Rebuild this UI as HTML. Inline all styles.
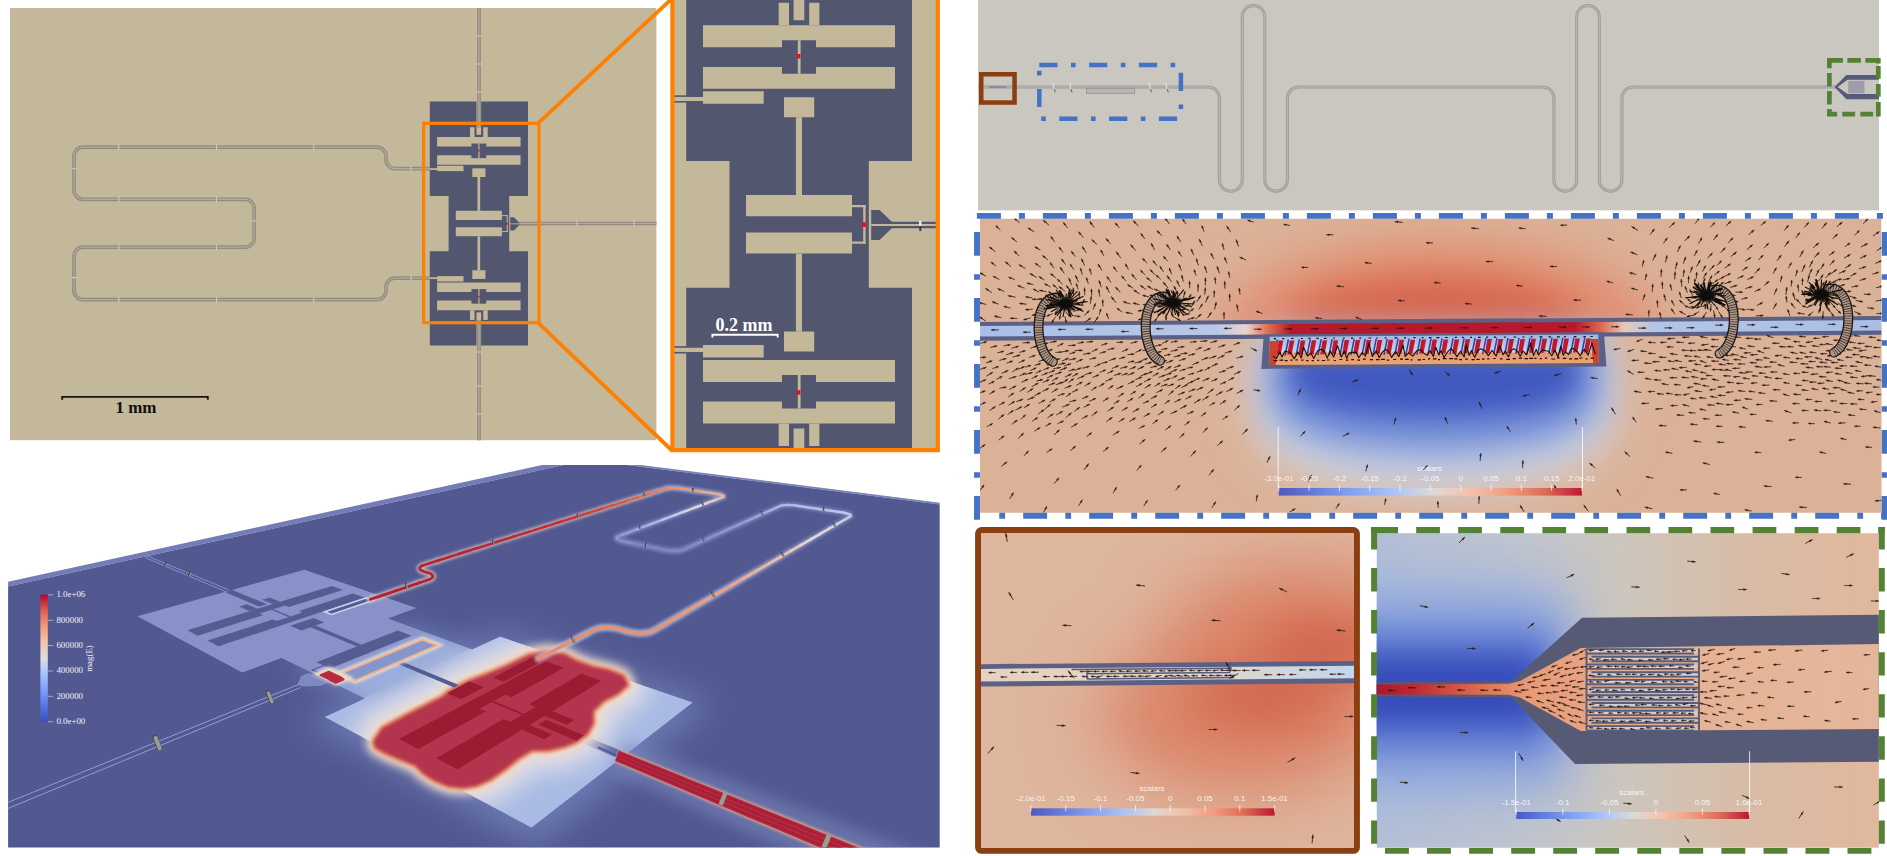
<!DOCTYPE html>
<html><head><meta charset="utf-8"><title>Figure</title>
<style>html,body{margin:0;padding:0;background:#fff}svg{display:block}</style></head>
<body><svg width="1887" height="856" viewBox="0 0 1887 856">
<rect width="1887" height="856" fill="#fff"/>
<rect x="10" y="8" width="646.4" height="432.2" fill="#C4B89B"/>
<g transform="translate(131.45,126.04) scale(0.43478)"><polygon points="686.2,-56.7 912,-56.7 912,161.1 868.8,161.1 868.8,287.7 912,287.7 912,504.5 686.2,504.5 686.2,287.7 729.5,287.7 729.5,161.1 686.2,161.1" fill="#52566F"/><polygon points="871.2,210 879.6,210 891.8,221.8 936,221.8 936,228.2 891.8,228.2 879.6,240 871.2,240" fill="#52566F"/><polygon points="871.2,224 936,224 936,226 871.2,226" fill="#C4B89B"/><polygon points="778.7,2.8 789,2.8 789,25.2 778.7,25.2" fill="#C4B89B"/><polygon points="809.2,2.8 819.4,2.8 819.4,25.2 809.2,25.2" fill="#C4B89B"/><polygon points="793.6,-56.7 804.3,-56.7 804.3,20.2 793.6,20.2" fill="#C4B89B"/><polygon points="703,25.2 895,25.2 895,47.3 703,47.3" fill="#C4B89B"/><polygon points="703,66.9 895,66.9 895,88.8 703,88.8" fill="#C4B89B"/><polygon points="782,40.2 816,40.2 816,73.8 782,73.8" fill="#52566F"/><polygon points="797.8,40.2 800.6,40.2 800.6,73.8 797.8,73.8" fill="#C4B89B"/><polygon points="796.8,54 800.4,54 800.4,58.5 796.8,58.5" fill="#E01020"/><polygon points="703,91.2 763.7,91.2 763.7,103.7 703,103.7" fill="#C4B89B"/><polygon points="640,96.9 703,96.9 703,101 640,101" fill="#C4B89B"/><polygon points="784,97.2 814.2,97.2 814.2,117.2 784,117.2" fill="#C4B89B"/><polygon points="795.9,117.2 802,117.2 802,195.1 795.9,195.1" fill="#C4B89B"/><polygon points="778.7,423.6 789,423.6 789,446 778.7,446" fill="#C4B89B"/><polygon points="809.2,423.6 819.4,423.6 819.4,446 809.2,446" fill="#C4B89B"/><polygon points="793.6,428.6 804.3,428.6 804.3,505.5 793.6,505.5" fill="#C4B89B"/><polygon points="703,401.5 895,401.5 895,423.6 703,423.6" fill="#C4B89B"/><polygon points="703,360 895,360 895,381.9 703,381.9" fill="#C4B89B"/><polygon points="782,375 816,375 816,408.6 782,408.6" fill="#52566F"/><polygon points="797.8,375 800.6,375 800.6,408.6 797.8,408.6" fill="#C4B89B"/><polygon points="796.8,390.3 800.4,390.3 800.4,394.8 796.8,394.8" fill="#E01020"/><polygon points="703,345.1 763.7,345.1 763.7,357.6 703,357.6" fill="#C4B89B"/><polygon points="640,347.8 703,347.8 703,351.9 640,351.9" fill="#C4B89B"/><polygon points="784,331.6 814.2,331.6 814.2,351.6 784,351.6" fill="#C4B89B"/><polygon points="795.9,253.7 802,253.7 802,331.6 795.9,331.6" fill="#C4B89B"/><polygon points="746,195.1 852,195.1 852,216.3 746,216.3" fill="#C4B89B"/><polygon points="746,232.5 852,232.5 852,253.6 746,253.6" fill="#C4B89B"/><polygon points="852,204.9 865.6,204.9 865.6,207.2 852,207.2" fill="#C4B89B"/><polygon points="863.2,204.9 865.6,204.9 865.6,243.8 863.2,243.8" fill="#C4B89B"/><polygon points="852,241.5 865.6,241.5 865.6,243.8 852,243.8" fill="#C4B89B"/><polygon points="862,222.2 865.8,222.2 865.8,227 862,227" fill="#E01020"/></g>
<path d="M430,168.6 H395 A9,9 0 0 1 386,159.6 V156.2 A9,9 0 0 0 377,147.2 H83 A9,9 0 0 0 74,156.2 V190.3 A9,9 0 0 0 83,199.3 H245.2 A9,9 0 0 1 254.2,208.3 V238.2 A9,9 0 0 1 245.2,247.2 H83 A9,9 0 0 0 74,256.2 V290.7 A9,9 0 0 0 83,299.7 H377 A9,9 0 0 0 386,290.7 V287.2 A9,9 0 0 1 395,278.2 H430 M479,8 V127.5 M479,320 V440.2 M519.3,223.5 H656.4" fill="none" stroke="#928B7F" stroke-width="3.7"/>
<path d="M430,168.6 H395 A9,9 0 0 1 386,159.6 V156.2 A9,9 0 0 0 377,147.2 H83 A9,9 0 0 0 74,156.2 V190.3 A9,9 0 0 0 83,199.3 H245.2 A9,9 0 0 1 254.2,208.3 V238.2 A9,9 0 0 1 245.2,247.2 H83 A9,9 0 0 0 74,256.2 V290.7 A9,9 0 0 0 83,299.7 H377 A9,9 0 0 0 386,290.7 V287.2 A9,9 0 0 1 395,278.2 H430 M479,8 V127.5 M479,320 V440.2 M519.3,223.5 H656.4" fill="none" stroke="#B4AC9B" stroke-width="1.2"/>
<path d="M118.8,144.2 v6 M118.8,296.7 v6 M216.5,144.2 v6 M216.5,296.7 v6 M313.7,144.2 v6 M313.7,296.7 v6 M118.8,196.3 v6 M118.8,244.2 v6 M216.5,196.3 v6 M216.5,244.2 v6 M411,165.6 v6 M411,275.2 v6 M71,168.8 h6 M71,277.6 h6 M251.2,221 h6 M476,36 h6 M476,64 h6 M476,92 h6 M476,352 h6 M476,386 h6 M476,414 h6 M577,220.5 v6 M634,220.5 v6" stroke="#D2CBBA" stroke-width="1.1" fill="none"/>
<rect x="423.6" y="123.3" width="115.4" height="199.4" fill="none" stroke="#FF8000" stroke-width="3.2"/>
<path d="M538.5,122.8 L672,-1.5 M538.5,323.2 L672,450.5" stroke="#FF8000" stroke-width="3.8" fill="none"/>
<path d="M62.2,399.8 V396.9 H207.8 V399.8" fill="none" stroke="#1a1410" stroke-width="1.9"/>
<text x="136" y="413" text-anchor="middle" font-family="'Liberation Serif',serif" font-weight="bold" font-size="17" fill="#111">1 mm</text>
<clipPath id="cin"><rect x="672.4" y="0" width="265.4" height="450"/></clipPath>
<g clip-path="url(#cin)">
<rect x="672" y="0" width="266" height="452" fill="#C4B89B"/>
<polygon points="686.2,-56.7 912,-56.7 912,161.1 868.8,161.1 868.8,287.7 912,287.7 912,504.5 686.2,504.5 686.2,287.7 729.5,287.7 729.5,161.1 686.2,161.1" fill="#52566F"/><polygon points="871.2,210 879.6,210 891.8,221.8 936,221.8 936,228.2 891.8,228.2 879.6,240 871.2,240" fill="#52566F"/><polygon points="871.2,224 936,224 936,226 871.2,226" fill="#C4B89B"/><polygon points="778.7,2.8 789,2.8 789,25.2 778.7,25.2" fill="#C4B89B"/><polygon points="809.2,2.8 819.4,2.8 819.4,25.2 809.2,25.2" fill="#C4B89B"/><polygon points="793.6,-56.7 804.3,-56.7 804.3,20.2 793.6,20.2" fill="#C4B89B"/><polygon points="703,25.2 895,25.2 895,47.3 703,47.3" fill="#C4B89B"/><polygon points="703,66.9 895,66.9 895,88.8 703,88.8" fill="#C4B89B"/><polygon points="782,40.2 816,40.2 816,73.8 782,73.8" fill="#52566F"/><polygon points="797.8,40.2 800.6,40.2 800.6,73.8 797.8,73.8" fill="#C4B89B"/><polygon points="796.8,54 800.4,54 800.4,58.5 796.8,58.5" fill="#E01020"/><polygon points="703,91.2 763.7,91.2 763.7,103.7 703,103.7" fill="#C4B89B"/><polygon points="640,96.9 703,96.9 703,101 640,101" fill="#C4B89B"/><polygon points="784,97.2 814.2,97.2 814.2,117.2 784,117.2" fill="#C4B89B"/><polygon points="795.9,117.2 802,117.2 802,195.1 795.9,195.1" fill="#C4B89B"/><polygon points="778.7,423.6 789,423.6 789,446 778.7,446" fill="#C4B89B"/><polygon points="809.2,423.6 819.4,423.6 819.4,446 809.2,446" fill="#C4B89B"/><polygon points="793.6,428.6 804.3,428.6 804.3,505.5 793.6,505.5" fill="#C4B89B"/><polygon points="703,401.5 895,401.5 895,423.6 703,423.6" fill="#C4B89B"/><polygon points="703,360 895,360 895,381.9 703,381.9" fill="#C4B89B"/><polygon points="782,375 816,375 816,408.6 782,408.6" fill="#52566F"/><polygon points="797.8,375 800.6,375 800.6,408.6 797.8,408.6" fill="#C4B89B"/><polygon points="796.8,390.3 800.4,390.3 800.4,394.8 796.8,394.8" fill="#E01020"/><polygon points="703,345.1 763.7,345.1 763.7,357.6 703,357.6" fill="#C4B89B"/><polygon points="640,347.8 703,347.8 703,351.9 640,351.9" fill="#C4B89B"/><polygon points="784,331.6 814.2,331.6 814.2,351.6 784,351.6" fill="#C4B89B"/><polygon points="795.9,253.7 802,253.7 802,331.6 795.9,331.6" fill="#C4B89B"/><polygon points="746,195.1 852,195.1 852,216.3 746,216.3" fill="#C4B89B"/><polygon points="746,232.5 852,232.5 852,253.6 746,253.6" fill="#C4B89B"/><polygon points="852,204.9 865.6,204.9 865.6,207.2 852,207.2" fill="#C4B89B"/><polygon points="863.2,204.9 865.6,204.9 865.6,243.8 863.2,243.8" fill="#C4B89B"/><polygon points="852,241.5 865.6,241.5 865.6,243.8 852,243.8" fill="#C4B89B"/><polygon points="862,222.2 865.8,222.2 865.8,227 862,227" fill="#E01020"/>
<rect x="672" y="95.3" width="14.5" height="1.6" fill="#52566F"/>
<rect x="672" y="101" width="14.5" height="1.6" fill="#52566F"/>
<rect x="672" y="346.2" width="14.5" height="1.6" fill="#52566F"/>
<rect x="672" y="351.9" width="14.5" height="1.6" fill="#52566F"/>
<rect x="919" y="221" width="2.5" height="5" fill="#EFEBE0"/><rect x="919.3" y="226" width="2" height="5" fill="#3a3a40"/>
</g>
<path d="M672.4,-4 V450.1 H937.8 V-4" fill="none" stroke="#FF8000" stroke-width="4.2"/>
<path d="M712.4,337.4 V334.7 H777.7 V337.4" fill="none" stroke="#fff" stroke-width="1.9"/>
<text x="744" y="330.6" text-anchor="middle" font-family="'Liberation Serif',serif" font-weight="bold" font-size="18" fill="#fff">0.2 mm</text>
<rect x="978" y="0" width="901" height="210.4" fill="#C9C7BF"/>
<path d="M978,87 H1208.1 A11.3,11.3 0 0 1 1219.4,98.3 V179.9 A11.3,11.3 0 0 0 1242.2,179.9 V16.8 A11.3,11.3 0 0 1 1264.8,16.8 V179.9 A11.3,11.3 0 0 0 1287.4,179.9 V98.3 A11.3,11.3 0 0 1 1298.7,87 H1542.6 A11.3,11.3 0 0 1 1553.9,98.3 V179.9 A11.3,11.3 0 0 0 1576.7,179.9 V16.8 A11.3,11.3 0 0 1 1599.3,16.8 V179.9 A11.3,11.3 0 0 0 1621.9,179.9 V98.3 A11.3,11.3 0 0 1 1633.2,87 H1836" fill="none" stroke="#9C9C9C" stroke-width="3"/>
<path d="M978,87 H1208.1 A11.3,11.3 0 0 1 1219.4,98.3 V179.9 A11.3,11.3 0 0 0 1242.2,179.9 V16.8 A11.3,11.3 0 0 1 1264.8,16.8 V179.9 A11.3,11.3 0 0 0 1287.4,179.9 V98.3 A11.3,11.3 0 0 1 1298.7,87 H1542.6 A11.3,11.3 0 0 1 1553.9,98.3 V179.9 A11.3,11.3 0 0 0 1576.7,179.9 V16.8 A11.3,11.3 0 0 1 1599.3,16.8 V179.9 A11.3,11.3 0 0 0 1621.9,179.9 V98.3 A11.3,11.3 0 0 1 1633.2,87 H1836" fill="none" stroke="#C2C1BB" stroke-width="0.9"/>
<rect x="989" y="86" width="17.5" height="2" fill="#8d8d96"/>
<rect x="1086.6" y="88.3" width="48" height="5" fill="#B9B8B6" stroke="#8f8f94" stroke-width="0.8"/>
<path d="M1053,83 l1.3,7 M1069.7,83 l1.3,7 M1149.2,83 l1.3,7 M1165.9,83 l1.3,7" stroke="#E4E3DE" stroke-width="1.2" fill="none"/>
<path d="M1054.2,89 l1.2,3.4 M1070.9,89 l1.2,3.4 M1150.4,89 l1.2,3.4 M1167.1,89 l1.2,3.4" stroke="#77746c" stroke-width="1.2" fill="none"/>
<polygon points="1835,86.4 1846.4,75 1879,75 1879,79.8 1847.6,79.8 1837.6,87 1847.6,94 1879,94 1879,99.2 1846.4,99.2 1835,87.6" fill="#565a78"/>
<rect x="1848.2" y="80.8" width="16.3" height="12.5" fill="#9E9DAC"/>
<rect x="981.25" y="74.25" width="33.3" height="28.3" fill="none" stroke="#8B3E0F" stroke-width="4.5"/>
<path d="M1039.3,64.9 H1180.9 V118.7 H1039.3 Z" fill="none" stroke="#4472C4" stroke-width="4.5" stroke-dasharray="18.2 13.5 4.6 13.5"/>
<path d="M1827.1,60.4 H1842.9 M1847.4,60.4 H1860.9 M1865.4,60.4 H1880.6 M1829.4,58 V68.2 M1829.4,73.1 V86.6 M1829.4,91.1 V104.6 M1829.4,109.1 V116.4 M1827.1,114.1 H1837.1 M1842.3,114.1 H1855.1 M1860.3,114.1 H1873.1 M1877,114.1 H1880.6 M1878.3,58 V63.4 M1878.3,66 V78.8 M1878.3,84 V96.8 M1878.3,102 V116.4" fill="none" stroke="#548235" stroke-width="4.7"/>
<defs><clipPath id="c3"><rect x="8.1" y="465" width="931.6" height="382.5"/></clipPath>
<filter id="g2" x="-100%" y="-100%" width="300%" height="300%"><feGaussianBlur stdDeviation="1.6"/></filter>
<filter id="g4" x="-100%" y="-100%" width="300%" height="300%"><feGaussianBlur stdDeviation="4"/></filter>
<filter id="g7" x="-100%" y="-100%" width="300%" height="300%"><feGaussianBlur stdDeviation="7"/></filter>
<filter id="g11" x="-100%" y="-100%" width="300%" height="300%"><feGaussianBlur stdDeviation="11"/></filter>
<filter id="g16" x="-100%" y="-100%" width="300%" height="300%"><feGaussianBlur stdDeviation="16"/></filter>
</defs><g clip-path="url(#c3)">
<polygon points="586.8,455.2 -243,636.7 -243,641.4 586.8,459.9" fill="#747CB6"/>
<polygon points="586.8,458.2 1100,522.8 1100,524.7 586.8,459.9" fill="#7A82B8"/>
<polygon points="1100,524.7 468.6,2086.9 -243,641.4 586.8,459.9" fill="#525990"/>
<polygon points="712.3,703.3 535.5,846.6 305.6,719.2 499.8,631.7" fill="#6F7EB8" filter="url(#g16)" opacity="0.9"/>
<polygon points="486.7,649.5 363.4,707.2 287,669.3 410.3,621.8" fill="#6A78B4" filter="url(#g11)" opacity="0.8"/>
<clipPath id="cl"><polygon points="692.5,702.6 531.5,827.6 324.9,716.9 365.1,698.5 281.5,658 242.2,672.5 137.3,616.2 304.4,569.7 416.4,608.1 388.2,618.5 472.2,649.4 500,636.7"/></clipPath>
<polygon points="692.5,702.6 531.5,827.6 324.9,716.9 365.1,698.5 281.5,658 242.2,672.5 137.3,616.2 304.4,569.7 416.4,608.1 388.2,618.5 472.2,649.4 500,636.7" fill="#8892C8"/>
<polygon points="328.3,682.6 320.8,685.7 301.8,686.4 297.6,684.3 301.1,676 308.6,673" fill="#7D89C2"/>
<g clip-path="url(#cl)">
<polygon points="699.3,701.3 532.7,832.1 320.6,717.4 502.4,634.5" fill="#A9BBE4"/>
<polygon points="480.8,652.3 373.2,702.6 322.3,677.9 430,633.6" fill="#9AACDC" filter="url(#g7)"/>
</g>
<polygon points="574,719.9 566.7,724.7 544.7,715.7 552.1,711.1" fill="#4F5A96"/>
<polygon points="551.9,734.3 544.2,739.4 522,729.7 529.8,724.9" fill="#4F5A96"/>
<polygon points="627.3,753.3 619.8,759.1 538.3,724.6 546.2,719.7" fill="#4F5A96"/>
<polygon points="601.3,680.9 457.6,769.3 436.2,758.3 581.2,673.8" fill="#4F5A96"/>
<polygon points="564.1,667.8 418.2,749 398.9,739.1 545.6,661.3" fill="#4F5A96"/>
<polygon points="524.1,713.7 522,714.9 491.6,702.2 493.7,701" fill="#4F5A96"/>
<polygon points="543.7,660.6 503.6,681.7 493.2,677.7 533.5,657" fill="#4F5A96"/>
<polygon points="575.9,639.7 539,658.9 535.7,657.8 572.7,638.7" fill="#4F5A96"/>
<polygon points="484,687.3 461.1,699.3 444.7,692.2 467.7,680.7" fill="#4F5A96"/>
<g clip-path="url(#cl)">
<polygon points="374.5,741.3 382.7,728.9 410.3,713.8 443.4,697.2 448.9,692.3 468.2,682.1 493.1,672.4 509.6,665.5 528.9,655.9 548.2,652.5 564.8,655.3 575.8,661.4 592.3,667.4 608.9,671 622.7,676.5 626.8,684.8 617.2,693.1 603.4,700 592.3,711 592.3,723.4 586.8,733.1 575.8,741.3 564.8,745.5 548.2,749.6 531.7,749.6 517.9,757.9 504.1,768.9 490.3,778.6 476.5,784.9 462.7,786.9 448.9,785.5 435.1,780 424.1,773.1 415.8,764.8 402,759.3 385.5,752.4 375.8,746.9" fill="#EAE4E6" stroke="#EAE4E6" stroke-width="46" stroke-linejoin="round" filter="url(#g11)" opacity="0.8"/>
</g>
<polygon points="374.5,741.3 382.7,728.9 410.3,713.8 443.4,697.2 448.9,692.3 468.2,682.1 493.1,672.4 509.6,665.5 528.9,655.9 548.2,652.5 564.8,655.3 575.8,661.4 592.3,667.4 608.9,671 622.7,676.5 626.8,684.8 617.2,693.1 603.4,700 592.3,711 592.3,723.4 586.8,733.1 575.8,741.3 564.8,745.5 548.2,749.6 531.7,749.6 517.9,757.9 504.1,768.9 490.3,778.6 476.5,784.9 462.7,786.9 448.9,785.5 435.1,780 424.1,773.1 415.8,764.8 402,759.3 385.5,752.4 375.8,746.9" fill="#EFD9C8" stroke="#EFD9C8" stroke-width="17" stroke-linejoin="round" filter="url(#g4)"/>
<polygon points="374.5,741.3 382.7,728.9 410.3,713.8 443.4,697.2 448.9,692.3 468.2,682.1 493.1,672.4 509.6,665.5 528.9,655.9 548.2,652.5 564.8,655.3 575.8,661.4 592.3,667.4 608.9,671 622.7,676.5 626.8,684.8 617.2,693.1 603.4,700 592.3,711 592.3,723.4 586.8,733.1 575.8,741.3 564.8,745.5 548.2,749.6 531.7,749.6 517.9,757.9 504.1,768.9 490.3,778.6 476.5,784.9 462.7,786.9 448.9,785.5 435.1,780 424.1,773.1 415.8,764.8 402,759.3 385.5,752.4 375.8,746.9" fill="#E8906C" stroke="#E8906C" stroke-width="7" stroke-linejoin="round" filter="url(#g2)"/>
<polygon points="374.5,741.3 382.7,728.9 410.3,713.8 443.4,697.2 448.9,692.3 468.2,682.1 493.1,672.4 509.6,665.5 528.9,655.9 548.2,652.5 564.8,655.3 575.8,661.4 592.3,667.4 608.9,671 622.7,676.5 626.8,684.8 617.2,693.1 603.4,700 592.3,711 592.3,723.4 586.8,733.1 575.8,741.3 564.8,745.5 548.2,749.6 531.7,749.6 517.9,757.9 504.1,768.9 490.3,778.6 476.5,784.9 462.7,786.9 448.9,785.5 435.1,780 424.1,773.1 415.8,764.8 402,759.3 385.5,752.4 375.8,746.9" fill="#B3354D" stroke="#B3354D" stroke-width="1.5" stroke-linejoin="round" filter="url(#g2)"/>
<clipPath id="cb"><polygon points="374.5,741.3 382.7,728.9 410.3,713.8 443.4,697.2 448.9,692.3 468.2,682.1 493.1,672.4 509.6,665.5 528.9,655.9 548.2,652.5 564.8,655.3 575.8,661.4 592.3,667.4 608.9,671 622.7,676.5 626.8,684.8 617.2,693.1 603.4,700 592.3,711 592.3,723.4 586.8,733.1 575.8,741.3 564.8,745.5 548.2,749.6 531.7,749.6 517.9,757.9 504.1,768.9 490.3,778.6 476.5,784.9 462.7,786.9 448.9,785.5 435.1,780 424.1,773.1 415.8,764.8 402,759.3 385.5,752.4 375.8,746.9"/></clipPath>
<polygon points="458.8,685.1 454.2,687.5 395.8,662.9 400.5,660.9" fill="#555C92"/>
<polygon points="280.2,601.8 272.7,604.1 262,599.7 269.4,597.5" fill="#555C92"/>
<polygon points="257.6,608.8 249.8,611.2 239.2,606.5 246.9,604.2" fill="#555C92"/>
<polygon points="266.9,604.2 258.9,606.6 223.9,591.8 231.8,589.7" fill="#555C92"/>
<polygon points="342.9,589.9 197.8,635.7 187.4,630.3 331.8,586" fill="#555C92"/>
<polygon points="364.6,597.6 218.5,646.3 207.4,640.6 353,593.5" fill="#555C92"/>
<polygon points="302.3,612.5 276.7,620.9 259.7,613.5 285.2,605.5" fill="#8892C8"/>
<polygon points="290.6,616.3 288.5,617 271.4,609.8 273.5,609.2" fill="#555C92"/>
<polygon points="372.7,600.4 331.5,614.4 324.8,611.8 365.9,598" fill="#555C92"/>
<polygon points="409.9,586.8 371.2,599.9 369,599.1 407.7,586.1" fill="#555C92"/>
<polygon points="324.3,622.5 301.3,630.4 290.4,625.7 313.3,618" fill="#555C92"/>
<polygon points="361.6,644.8 356.9,646.6 310.8,627.2 315.4,625.6" fill="#555C92"/>
<polygon points="436.7,645.3 355.3,680.4 340.8,673.6 422.2,639.8" fill="#EBD8CC" stroke="#EBD8CC" stroke-width="6" filter="url(#g2)"/>
<polygon points="436.7,645.3 355.3,680.4 340.8,673.6 422.2,639.8" fill="#8496CC" stroke="#EDB08C" stroke-width="1.8"/>
<polygon points="411.5,635.8 330.1,668.6 316.6,662.3 397.9,630.6" fill="#555C92"/>
<polygon points="348.5,677.2 336.7,682.2 335.2,681.4 346.9,676.5" fill="#555C92"/>
<polygon points="338.8,681.3 336.7,682.2 311.1,669.9 313.2,669" fill="#555C92"/>
<polygon points="324.3,665.9 312.6,670.6 311.1,669.9 322.8,665.2" fill="#555C92"/>
<polygon points="372.7,600.4 331.5,614.4 324.8,611.8 365.9,598" fill="#555C92" stroke="#C9D3F0" stroke-width="1.6"/>
<polygon points="348.3,677.9 336.1,683 317.5,674 329.6,669.1" fill="#EBD8CC" stroke="#EBD8CC" stroke-width="5" filter="url(#g2)"/>
<polygon points="341.4,677.7 333.2,681.2 320.5,675.1 328.7,671.7" fill="#B72C40" stroke="#B72C40" stroke-width="2" stroke-linejoin="round"/>
<polygon points="343.3,679.4 335.9,682.5 329.8,679.6 337.2,676.5" fill="#B72C40" stroke="#B72C40" stroke-width="2.5" stroke-linejoin="round"/>
<g clip-path="url(#cb)">
<polygon points="574,719.9 566.7,724.7 544.7,715.7 552.1,711.1" fill="#9B1B33"/>
<polygon points="551.9,734.3 544.2,739.4 522,729.7 529.8,724.9" fill="#9B1B33"/>
<polygon points="627.3,753.3 619.8,759.1 538.3,724.6 546.2,719.7" fill="#9B1B33"/>
<polygon points="601.3,680.9 457.6,769.3 436.2,758.3 581.2,673.8" fill="#9B1B33"/>
<polygon points="564.1,667.8 418.2,749 398.9,739.1 545.6,661.3" fill="#9B1B33"/>
<polygon points="535.6,706.9 510.3,721.9 479.8,708.7 505.4,694.6" fill="#B3354D"/>
<polygon points="524.1,713.7 522,714.9 491.6,702.2 493.7,701" fill="#9B1B33"/>
<polygon points="543.7,660.6 503.6,681.7 493.2,677.7 533.5,657" fill="#9B1B33"/>
<polygon points="575.9,639.7 539,658.9 535.7,657.8 572.7,638.7" fill="#9B1B33"/>
<polygon points="484,687.3 461.1,699.3 444.7,692.2 467.7,680.7" fill="#9B1B33"/>
</g>
<path d="M228.5,589.7 L146,555.5" stroke="#8C96CE" stroke-width="0.9" fill="none"/><path d="M227.4,592.3 L145.1,557.6" stroke="#8C96CE" stroke-width="0.9" fill="none"/>
<path d="M299.1,684.3 L-135.8,860.7" stroke="#939CD4" stroke-width="1.0" fill="none"/><path d="M300.4,687.6 L-133.3,866.8" stroke="#939CD4" stroke-width="1.0" fill="none"/>
<g fill="none" stroke-linecap="round" filter="url(#g2)" opacity="0.75"><polyline points="538.3,658.6 542.6,656.4 546.8,654.2 551,652 555.1,649.9 559.1,647.8 563.1,645.7" stroke="#C4CAE0" stroke-width="7.5"/><polyline points="563.1,645.7 567,643.7 570.9,641.7 574.8,639.7 578.6,637.7 582.3,635.7 586,633.8" stroke="#C3CAE1" stroke-width="7.3"/><polyline points="586,633.8 589.6,631.9 593.3,630 593.3,630 595.7,629.1 598.6,628.3 601.9,627.8" stroke="#C2CAE1" stroke-width="7.1"/><polyline points="601.9,627.8 605.5,627.6 609.3,627.6 613.1,627.9 616.8,628.5 620.2,629.4 626.6,631.3" stroke="#C1C9E1" stroke-width="7"/><polyline points="626.6,631.3 630.1,632.1 633.9,632.8 637.7,633.1 641.6,633.2 645.3,632.9 648.6,632.4" stroke="#C0C9E2" stroke-width="7.1"/><polyline points="648.6,632.4 651.4,631.6 653.6,630.6 656.8,628.8 660,626.9 663.1,625.1 666.2,623.3" stroke="#BEC8E3" stroke-width="7.1"/><polyline points="666.2,623.3 669.2,621.5 672.2,619.8 675.2,618.1 678.2,616.4 681.1,614.7 683.9,613" stroke="#BCC7E4" stroke-width="7"/><polyline points="683.9,613 686.8,611.3 689.6,609.7 692.4,608.1 695.1,606.5 697.8,604.9 700.5,603.4" stroke="#B9C5E5" stroke-width="6.8"/><polyline points="700.5,603.4 703.2,601.8 705.8,600.3 708.4,598.8 710.9,597.3 713.5,595.8 716,594.4" stroke="#B5C3E6" stroke-width="6.7"/><polyline points="716,594.4 718.5,592.9 720.9,591.5 723.4,590.1 725.8,588.7 728.2,587.3 730.5,586" stroke="#B2C0E4" stroke-width="6.5"/><polyline points="730.5,586 732.8,584.6 735.1,583.3 737.4,581.9 739.7,580.6 741.9,579.3 744.1,578" stroke="#AFBCE2" stroke-width="6.4"/><polyline points="744.1,578 746.3,576.8 748.5,575.5 750.6,574.3 752.8,573 754.9,571.8 756.9,570.6" stroke="#ABB9E0" stroke-width="6.3"/><polyline points="756.9,570.6 759,569.4 761.1,568.2 763.1,567 765.1,565.9 767.1,564.7 769,563.6" stroke="#A7B4DE" stroke-width="6.2"/><polyline points="769,563.6 771,562.4 772.9,561.3 774.8,560.2 776.7,559.1 778.6,558 780.4,557" stroke="#A2B0DC" stroke-width="6.1"/><polyline points="780.4,557 782.3,555.9 784.1,554.8 785.9,553.8 787.7,552.7 789.4,551.7 791.2,550.7" stroke="#9DABDA" stroke-width="6"/><polyline points="791.2,550.7 792.9,549.7 794.7,548.7 796.4,547.7 798.1,546.7 799.7,545.7 801.4,544.8" stroke="#98A6D7" stroke-width="5.9"/><polyline points="801.4,544.8 803.1,543.8 804.7,542.9 806.3,541.9 807.9,541 809.5,540.1 811.1,539.1" stroke="#93A0D5" stroke-width="5.9"/><polyline points="811.1,539.1 812.7,538.2 814.2,537.3 815.7,536.4 817.3,535.6 818.8,534.7 820.3,533.8" stroke="#8E9BD2" stroke-width="5.8"/><polyline points="820.3,533.8 821.8,532.9 823.2,532.1 824.7,531.2 826.2,530.4 827.6,529.6 829,528.7" stroke="#8A97CF" stroke-width="5.7"/><polyline points="829,528.7 830.4,527.9 831.8,527.1 833.2,526.3 834.6,525.5 836,524.7 837.3,523.9" stroke="#8693CC" stroke-width="5.7"/><polyline points="837.3,523.9 838.7,523.1 840,522.3 841.4,521.6 842.7,520.8 844,520 845.3,519.3" stroke="#828FCA" stroke-width="5.6"/><polyline points="845.3,519.3 846.6,518.5 847.8,517.8 849.1,517.1 850.4,516.3 850.4,516.3 850.8,515.9" stroke="#828FCA" stroke-width="5.5"/><polyline points="850.8,515.9 850.8,515.4 850.3,514.8 849.3,514.3 847.8,513.7 846,513.2 843.9,512.7" stroke="#828FCA" stroke-width="5.5"/><polyline points="843.9,512.7 841.5,512.3 837.2,511.7 833,511.1 828.8,510.4 824.6,509.8 820.4,509.2" stroke="#828FCA" stroke-width="5.5"/><polyline points="820.4,509.2 816.3,508.6 812.2,508 808.1,507.4 804.1,506.8 800.1,506.2 796.1,505.6" stroke="#828FCA" stroke-width="5.4"/><polyline points="796.1,505.6 793.8,505.3 791.4,505.1 789,505 786.7,505 784.7,505.1 782.9,505.2" stroke="#828FCA" stroke-width="5.4"/><polyline points="782.9,505.2 781.4,505.5 780.4,505.8 778.9,506.5 777.5,507.1 776,507.8 774.5,508.5" stroke="#828FCA" stroke-width="5.4"/><polyline points="774.5,508.5 773.1,509.1 771.6,509.8 770.1,510.5 768.5,511.2 767,511.9 765.5,512.6" stroke="#828FCA" stroke-width="5.4"/><polyline points="765.5,512.6 763.9,513.3 762.4,514 760.8,514.7 759.2,515.4 757.6,516.1 756,516.9" stroke="#828FCA" stroke-width="5.5"/><polyline points="756,516.9 754.3,517.6 752.7,518.3 751.1,519.1 749.4,519.8 747.7,520.6 746,521.4" stroke="#828FCA" stroke-width="5.5"/><polyline points="746,521.4 744.3,522.1 742.6,522.9 740.9,523.7 739.1,524.5 737.4,525.3 735.6,526.1" stroke="#828FCA" stroke-width="5.6"/><polyline points="735.6,526.1 733.8,526.9 732,527.7 730.2,528.5 728.3,529.3 726.5,530.2 724.6,531" stroke="#828FCA" stroke-width="5.6"/><polyline points="724.6,531 722.8,531.9 720.9,532.7 719,533.6 717,534.4 715.1,535.3 713.1,536.2" stroke="#828FCA" stroke-width="5.7"/><polyline points="713.1,536.2 711.2,537.1 709.2,538 707.2,538.9 705.1,539.8 703.1,540.7 701,541.7" stroke="#828FCA" stroke-width="5.8"/><polyline points="701,541.7 698.9,542.6 696.8,543.6 694.7,544.5 692.6,545.5 690.4,546.5 688.3,547.4" stroke="#828FCA" stroke-width="5.8"/><polyline points="688.3,547.4 686.1,548.4 683.8,549.4 683.8,549.4 682.3,550 680.3,550.4 677.9,550.7" stroke="#828FCA" stroke-width="5.9"/><polyline points="677.9,550.7 675.3,550.8 672.4,550.8 669.6,550.6 666.8,550.3 664.1,549.8 659.4,548.8" stroke="#828FCA" stroke-width="5.9"/><polyline points="659.4,548.8 654.7,547.8 650.1,546.9 645.5,545.9 641,545 636.5,544 632,543.1" stroke="#828FCA" stroke-width="5.9"/><polyline points="632,543.1 627.6,542.2 623.2,541.3 621,540.8 619.2,540.1 617.9,539.5 617,538.8" stroke="#828FCA" stroke-width="5.8"/><polyline points="617,538.8 616.6,538 616.8,537.4 617.5,536.7 618.7,536.2 621,535.3 623.4,534.4" stroke="#828FCA" stroke-width="5.8"/><polyline points="623.4,534.4 625.7,533.5 628,532.7 630.2,531.8 632.5,531 634.7,530.1 637,529.3" stroke="#828FCA" stroke-width="5.7"/><polyline points="637,529.3 639.2,528.5 641.4,527.6 643.5,526.8 645.7,526 647.8,525.2 649.9,524.4" stroke="#828FCA" stroke-width="5.7"/><polyline points="649.9,524.4 652,523.6 654.1,522.9 656.2,522.1 658.2,521.3 660.3,520.6 662.3,519.8" stroke="#828FCA" stroke-width="5.6"/><polyline points="662.3,519.8 664.3,519 666.3,518.3 668.3,517.6 670.2,516.8 672.2,516.1 674.1,515.4" stroke="#828FCA" stroke-width="5.6"/><polyline points="674.1,515.4 676,514.7 677.9,514 679.8,513.2 681.6,512.5 683.5,511.8 685.3,511.2" stroke="#828FCA" stroke-width="5.5"/><polyline points="685.3,511.2 687.2,510.5 689,509.8 690.8,509.1 692.6,508.4 694.3,507.8 696.1,507.1" stroke="#8692CC" stroke-width="5.4"/><polyline points="696.1,507.1 697.8,506.5 699.6,505.8 701.3,505.2 703,504.5 704.7,503.9 706.4,503.3" stroke="#8D9AD1" stroke-width="5.4"/><polyline points="706.4,503.3 708.1,502.6 709.7,502 711.4,501.4 713,500.8 714.7,500.2 716.3,499.6" stroke="#97A4D6" stroke-width="5.4"/><polyline points="716.3,499.6 717.9,499 719.5,498.4 721.1,497.8 722.6,497.2 722.6,497.2 723.3,496.8" stroke="#A0ADDB" stroke-width="5.3"/><polyline points="723.3,496.8 723.6,496.4 723.5,495.9 722.9,495.5 721.9,495.1 720.6,494.6 719,494.3" stroke="#A6B4DE" stroke-width="5.3"/><polyline points="719,494.3 717.1,493.9 713.6,493.4 710.1,492.9 706.7,492.4 703.2,491.9 699.8,491.4" stroke="#AEBBE2" stroke-width="5.3"/><polyline points="699.8,491.4 696.4,490.9 693.1,490.4 689.7,489.9 686.4,489.4 683.1,488.9 679.8,488.4" stroke="#B7C5E5" stroke-width="5.2"/><polyline points="679.8,488.4 677.9,488.2 675.8,488 673.8,487.9 671.7,487.9 669.8,488 668.1,488.1" stroke="#C1C9E1" stroke-width="5.2"/><polyline points="668.1,488.1 666.6,488.3 665.5,488.6 663.8,489.1 662.1,489.7 660.4,490.2 658.7,490.8" stroke="#CACDDE" stroke-width="5.2"/><polyline points="658.7,490.8 657,491.3 655.3,491.8 653.5,492.4 651.8,493 650,493.5 648.2,494.1" stroke="#D5D2D9" stroke-width="5.2"/><polyline points="648.2,494.1 646.4,494.6 644.6,495.2 642.8,495.8 641,496.4 639.1,496.9 637.3,497.5" stroke="#E0D7D5" stroke-width="5.2"/><polyline points="637.3,497.5 635.4,498.1 633.5,498.7 631.6,499.3 629.7,499.9 627.8,500.5 625.9,501.1" stroke="#E7D5CB" stroke-width="5.3"/><polyline points="625.9,501.1 623.9,501.8 622,502.4 620,503 618,503.6 616,504.3 614,504.9" stroke="#E8CEC0" stroke-width="5.3"/><polyline points="614,504.9 611.9,505.5 609.9,506.2 607.8,506.8 605.7,507.5 603.6,508.2 601.5,508.8" stroke="#E8CEC0" stroke-width="5.4"/><polyline points="601.5,508.8 599.4,509.5 597.3,510.2 595.1,510.9 592.9,511.5 590.8,512.2 588.6,512.9" stroke="#E8CEC0" stroke-width="5.4"/><polyline points="588.6,512.9 586.3,513.6 584.1,514.3 581.8,515.1 579.6,515.8 577.3,516.5 575,517.2" stroke="#E8CEC0" stroke-width="5.5"/><polyline points="575,517.2 572.6,518 570.3,518.7 567.9,519.5 565.6,520.2 563.2,521 560.7,521.7" stroke="#E8CEC0" stroke-width="5.5"/><polyline points="560.7,521.7 558.3,522.5 555.8,523.3 553.4,524.1 550.9,524.9 548.4,525.6 545.8,526.4" stroke="#E8CEC0" stroke-width="5.6"/><polyline points="545.8,526.4 543.3,527.3 540.7,528.1 538.1,528.9 535.5,529.7 532.8,530.6 530.2,531.4" stroke="#E8CEC0" stroke-width="5.6"/><polyline points="530.2,531.4 527.5,532.2 524.8,533.1 522,534 519.3,534.8 516.5,535.7 513.7,536.6" stroke="#E8CEC0" stroke-width="5.7"/><polyline points="513.7,536.6 510.9,537.5 508,538.4 505.1,539.3 502.2,540.2 499.3,541.1 496.4,542.1" stroke="#E8CEC0" stroke-width="5.8"/><polyline points="496.4,542.1 493.4,543 490.4,544 487.4,544.9 484.3,545.9 481.2,546.9 478.1,547.9" stroke="#E8CEC0" stroke-width="5.8"/><polyline points="478.1,547.9 475,548.8 471.8,549.8 468.6,550.9 465.4,551.9 462.1,552.9 458.9,553.9" stroke="#E8CEC0" stroke-width="5.9"/><polyline points="458.9,553.9 455.5,555 452.2,556 448.8,557.1 445.4,558.2 442,559.3 438.5,560.4" stroke="#E8CEC0" stroke-width="6"/><polyline points="438.5,560.4 435,561.5 431.5,562.6 427.9,563.7 424.3,564.9 424.3,564.9 422.4,565.6" stroke="#E8CEC0" stroke-width="6.1"/><polyline points="422.4,565.6 420.9,566.4 420,567.3 419.6,568.2 419.9,569.2 420.7,570 422.1,570.8" stroke="#E8CEC0" stroke-width="6.1"/><polyline points="422.1,570.8 424,571.5 428.2,572.8 430.2,573.5 431.6,574.3 432.5,575.2 432.8,576.2" stroke="#E8CEC0" stroke-width="6.2"/><polyline points="432.8,576.2 432.5,577.2 431.6,578.2 430.1,579.1 428,579.9 424.2,581.2 420.3,582.5" stroke="#E8CEC0" stroke-width="6.3"/><polyline points="420.3,582.5 416.4,583.8 412.4,585.2 408.4,586.5 404.3,587.9 400.2,589.3 396.1,590.7" stroke="#E8CEC0" stroke-width="6.4"/><polyline points="396.1,590.7 391.9,592.1 387.6,593.6 383.3,595 379,596.5 374.6,597.9 370.2,599.4" stroke="#E8CEC0" stroke-width="6.5"/></g>
<g fill="none" stroke-linecap="round"><polyline points="538.3,658.6 542.6,656.4 546.8,654.2 551,652 555.1,649.9 559.1,647.8 563.1,645.7" stroke="#E88D6D" stroke-width="3.4"/><polyline points="563.1,645.7 567,643.7 570.9,641.7 574.8,639.7 578.6,637.7 582.3,635.7 586,633.8" stroke="#E88E6D" stroke-width="3.3"/><polyline points="586,633.8 589.6,631.9 593.3,630 593.3,630 595.7,629.1 598.6,628.3 601.9,627.8" stroke="#E98F6E" stroke-width="3.2"/><polyline points="601.9,627.8 605.5,627.6 609.3,627.6 613.1,627.9 616.8,628.5 620.2,629.4 626.6,631.3" stroke="#E9906F" stroke-width="3.2"/><polyline points="626.6,631.3 630.1,632.1 633.9,632.8 637.7,633.1 641.6,633.2 645.3,632.9 648.6,632.4" stroke="#E99170" stroke-width="3.2"/><polyline points="648.6,632.4 651.4,631.6 653.6,630.6 656.8,628.8 660,626.9 663.1,625.1 666.2,623.3" stroke="#EA9372" stroke-width="3.2"/><polyline points="666.2,623.3 669.2,621.5 672.2,619.8 675.2,618.1 678.2,616.4 681.1,614.7 683.9,613" stroke="#EA9675" stroke-width="3.2"/><polyline points="683.9,613 686.8,611.3 689.6,609.7 692.4,608.1 695.1,606.5 697.8,604.9 700.5,603.4" stroke="#EB9978" stroke-width="3.1"/><polyline points="700.5,603.4 703.2,601.8 705.8,600.3 708.4,598.8 710.9,597.3 713.5,595.8 716,594.4" stroke="#EC9E7C" stroke-width="3"/><polyline points="716,594.4 718.5,592.9 720.9,591.5 723.4,590.1 725.8,588.7 728.2,587.3 730.5,586" stroke="#EDA281" stroke-width="3"/><polyline points="730.5,586 732.8,584.6 735.1,583.3 737.4,581.9 739.7,580.6 741.9,579.3 744.1,578" stroke="#EEA886" stroke-width="2.9"/><polyline points="744.1,578 746.3,576.8 748.5,575.5 750.6,574.3 752.8,573 754.9,571.8 756.9,570.6" stroke="#EDAE8F" stroke-width="2.9"/><polyline points="756.9,570.6 759,569.4 761.1,568.2 763.1,567 765.1,565.9 767.1,564.7 769,563.6" stroke="#ECB498" stroke-width="2.8"/><polyline points="769,563.6 771,562.4 772.9,561.3 774.8,560.2 776.7,559.1 778.6,558 780.4,557" stroke="#EBBBA3" stroke-width="2.8"/><polyline points="780.4,557 782.3,555.9 784.1,554.8 785.9,553.8 787.7,552.7 789.4,551.7 791.2,550.7" stroke="#EAC2AE" stroke-width="2.7"/><polyline points="791.2,550.7 792.9,549.7 794.7,548.7 796.4,547.7 798.1,546.7 799.7,545.7 801.4,544.8" stroke="#E9CABA" stroke-width="2.7"/><polyline points="801.4,544.8 803.1,543.8 804.7,542.9 806.3,541.9 807.9,541 809.5,540.1 811.1,539.1" stroke="#E7D2C6" stroke-width="2.7"/><polyline points="811.1,539.1 812.7,538.2 814.2,537.3 815.7,536.4 817.3,535.6 818.8,534.7 820.3,533.8" stroke="#E5DAD2" stroke-width="2.6"/><polyline points="820.3,533.8 821.8,532.9 823.2,532.1 824.7,531.2 826.2,530.4 827.6,529.6 829,528.7" stroke="#DED6D6" stroke-width="2.6"/><polyline points="829,528.7 830.4,527.9 831.8,527.1 833.2,526.3 834.6,525.5 836,524.7 837.3,523.9" stroke="#D5D2D9" stroke-width="2.6"/><polyline points="837.3,523.9 838.7,523.1 840,522.3 841.4,521.6 842.7,520.8 844,520 845.3,519.3" stroke="#CDCFDC" stroke-width="2.5"/><polyline points="845.3,519.3 846.6,518.5 847.8,517.8 849.1,517.1 850.4,516.3 850.4,516.3 850.8,515.9" stroke="#C6CBE0" stroke-width="2.5"/><polyline points="850.8,515.9 850.8,515.4 850.3,514.8 849.3,514.3 847.8,513.7 846,513.2 843.9,512.7" stroke="#C0C8E2" stroke-width="2.5"/><polyline points="843.9,512.7 841.5,512.3 837.2,511.7 833,511.1 828.8,510.4 824.6,509.8 820.4,509.2" stroke="#B9C5E5" stroke-width="2.5"/><polyline points="820.4,509.2 816.3,508.6 812.2,508 808.1,507.4 804.1,506.8 800.1,506.2 796.1,505.6" stroke="#B2C0E4" stroke-width="2.5"/><polyline points="796.1,505.6 793.8,505.3 791.4,505.1 789,505 786.7,505 784.7,505.1 782.9,505.2" stroke="#ADBAE1" stroke-width="2.4"/><polyline points="782.9,505.2 781.4,505.5 780.4,505.8 778.9,506.5 777.5,507.1 776,507.8 774.5,508.5" stroke="#A8B5DF" stroke-width="2.4"/><polyline points="774.5,508.5 773.1,509.1 771.6,509.8 770.1,510.5 768.5,511.2 767,511.9 765.5,512.6" stroke="#A2AFDC" stroke-width="2.5"/><polyline points="765.5,512.6 763.9,513.3 762.4,514 760.8,514.7 759.2,515.4 757.6,516.1 756,516.9" stroke="#9BA9D9" stroke-width="2.5"/><polyline points="756,516.9 754.3,517.6 752.7,518.3 751.1,519.1 749.4,519.8 747.7,520.6 746,521.4" stroke="#95A2D6" stroke-width="2.5"/><polyline points="746,521.4 744.3,522.1 742.6,522.9 740.9,523.7 739.1,524.5 737.4,525.3 735.6,526.1" stroke="#8F9CD3" stroke-width="2.5"/><polyline points="735.6,526.1 733.8,526.9 732,527.7 730.2,528.5 728.3,529.3 726.5,530.2 724.6,531" stroke="#8B98D0" stroke-width="2.5"/><polyline points="724.6,531 722.8,531.9 720.9,532.7 719,533.6 717,534.4 715.1,535.3 713.1,536.2" stroke="#8794CD" stroke-width="2.6"/><polyline points="713.1,536.2 711.2,537.1 709.2,538 707.2,538.9 705.1,539.8 703.1,540.7 701,541.7" stroke="#8390CB" stroke-width="2.6"/><polyline points="701,541.7 698.9,542.6 696.8,543.6 694.7,544.5 692.6,545.5 690.4,546.5 688.3,547.4" stroke="#808CC8" stroke-width="2.6"/><polyline points="688.3,547.4 686.1,548.4 683.8,549.4 683.8,549.4 682.3,550 680.3,550.4 677.9,550.7" stroke="#7E8AC6" stroke-width="2.7"/><polyline points="677.9,550.7 675.3,550.8 672.4,550.8 669.6,550.6 666.8,550.3 664.1,549.8 659.4,548.8" stroke="#7C88C5" stroke-width="2.7"/><polyline points="659.4,548.8 654.7,547.8 650.1,546.9 645.5,545.9 641,545 636.5,544 632,543.1" stroke="#7A86C4" stroke-width="2.7"/><polyline points="632,543.1 627.6,542.2 623.2,541.3 621,540.8 619.2,540.1 617.9,539.5 617,538.8" stroke="#838FCA" stroke-width="2.6"/><polyline points="617,538.8 616.6,538 616.8,537.4 617.5,536.7 618.7,536.2 621,535.3 623.4,534.4" stroke="#8A96CF" stroke-width="2.6"/><polyline points="623.4,534.4 625.7,533.5 628,532.7 630.2,531.8 632.5,531 634.7,530.1 637,529.3" stroke="#92A0D4" stroke-width="2.6"/><polyline points="637,529.3 639.2,528.5 641.4,527.6 643.5,526.8 645.7,526 647.8,525.2 649.9,524.4" stroke="#9FACDA" stroke-width="2.6"/><polyline points="649.9,524.4 652,523.6 654.1,522.9 656.2,522.1 658.2,521.3 660.3,520.6 662.3,519.8" stroke="#ABB9E0" stroke-width="2.5"/><polyline points="662.3,519.8 664.3,519 666.3,518.3 668.3,517.6 670.2,516.8 672.2,516.1 674.1,515.4" stroke="#B7C4E6" stroke-width="2.5"/><polyline points="674.1,515.4 676,514.7 677.9,514 679.8,513.2 681.6,512.5 683.5,511.8 685.3,511.2" stroke="#C6CBDF" stroke-width="2.5"/><polyline points="685.3,511.2 687.2,510.5 689,509.8 690.8,509.1 692.6,508.4 694.3,507.8 696.1,507.1" stroke="#D5D2D9" stroke-width="2.5"/><polyline points="696.1,507.1 697.8,506.5 699.6,505.8 701.3,505.2 703,504.5 704.7,503.9 706.4,503.3" stroke="#E4D9D3" stroke-width="2.4"/><polyline points="706.4,503.3 708.1,502.6 709.7,502 711.4,501.4 713,500.8 714.7,500.2 716.3,499.6" stroke="#E8CDBE" stroke-width="2.4"/><polyline points="716.3,499.6 717.9,499 719.5,498.4 721.1,497.8 722.6,497.2 722.6,497.2 723.3,496.8" stroke="#EABFA9" stroke-width="2.4"/><polyline points="723.3,496.8 723.6,496.4 723.5,495.9 722.9,495.5 721.9,495.1 720.6,494.6 719,494.3" stroke="#ECB59A" stroke-width="2.4"/><polyline points="719,494.3 717.1,493.9 713.6,493.4 710.1,492.9 706.7,492.4 703.2,491.9 699.8,491.4" stroke="#EEA988" stroke-width="2.4"/><polyline points="699.8,491.4 696.4,490.9 693.1,490.4 689.7,489.9 686.4,489.4 683.1,488.9 679.8,488.4" stroke="#EB9B7A" stroke-width="2.4"/><polyline points="679.8,488.4 677.9,488.2 675.8,488 673.8,487.9 671.7,487.9 669.8,488 668.1,488.1" stroke="#E9906F" stroke-width="2.3"/><polyline points="668.1,488.1 666.6,488.3 665.5,488.6 663.8,489.1 662.1,489.7 660.4,490.2 658.7,490.8" stroke="#E78666" stroke-width="2.3"/><polyline points="658.7,490.8 657,491.3 655.3,491.8 653.5,492.4 651.8,493 650,493.5 648.2,494.1" stroke="#E47A5B" stroke-width="2.4"/><polyline points="648.2,494.1 646.4,494.6 644.6,495.2 642.8,495.8 641,496.4 639.1,496.9 637.3,497.5" stroke="#E26D4F" stroke-width="2.4"/><polyline points="637.3,497.5 635.4,498.1 633.5,498.7 631.6,499.3 629.7,499.9 627.8,500.5 625.9,501.1" stroke="#DE6247" stroke-width="2.4"/><polyline points="625.9,501.1 623.9,501.8 622,502.4 620,503 618,503.6 616,504.3 614,504.9" stroke="#D95743" stroke-width="2.4"/><polyline points="614,504.9 611.9,505.5 609.9,506.2 607.8,506.8 605.7,507.5 603.6,508.2 601.5,508.8" stroke="#D44D40" stroke-width="2.4"/><polyline points="601.5,508.8 599.4,509.5 597.3,510.2 595.1,510.9 592.9,511.5 590.8,512.2 588.6,512.9" stroke="#CF443D" stroke-width="2.5"/><polyline points="588.6,512.9 586.3,513.6 584.1,514.3 581.8,515.1 579.6,515.8 577.3,516.5 575,517.2" stroke="#CB3B3B" stroke-width="2.5"/><polyline points="575,517.2 572.6,518 570.3,518.7 567.9,519.5 565.6,520.2 563.2,521 560.7,521.7" stroke="#C73238" stroke-width="2.5"/><polyline points="560.7,521.7 558.3,522.5 555.8,523.3 553.4,524.1 550.9,524.9 548.4,525.6 545.8,526.4" stroke="#C32C36" stroke-width="2.5"/><polyline points="545.8,526.4 543.3,527.3 540.7,528.1 538.1,528.9 535.5,529.7 532.8,530.6 530.2,531.4" stroke="#C12A36" stroke-width="2.5"/><polyline points="530.2,531.4 527.5,532.2 524.8,533.1 522,534 519.3,534.8 516.5,535.7 513.7,536.6" stroke="#BE2937" stroke-width="2.6"/><polyline points="513.7,536.6 510.9,537.5 508,538.4 505.1,539.3 502.2,540.2 499.3,541.1 496.4,542.1" stroke="#BB2737" stroke-width="2.6"/><polyline points="496.4,542.1 493.4,543 490.4,544 487.4,544.9 484.3,545.9 481.2,546.9 478.1,547.9" stroke="#B92637" stroke-width="2.6"/><polyline points="478.1,547.9 475,548.8 471.8,549.8 468.6,550.9 465.4,551.9 462.1,552.9 458.9,553.9" stroke="#B72537" stroke-width="2.7"/><polyline points="458.9,553.9 455.5,555 452.2,556 448.8,557.1 445.4,558.2 442,559.3 438.5,560.4" stroke="#B62438" stroke-width="2.7"/><polyline points="438.5,560.4 435,561.5 431.5,562.6 427.9,563.7 424.3,564.9 424.3,564.9 422.4,565.6" stroke="#B52338" stroke-width="2.7"/><polyline points="422.4,565.6 420.9,566.4 420,567.3 419.6,568.2 419.9,569.2 420.7,570 422.1,570.8" stroke="#B42338" stroke-width="2.8"/><polyline points="422.1,570.8 424,571.5 428.2,572.8 430.2,573.5 431.6,574.3 432.5,575.2 432.8,576.2" stroke="#B32338" stroke-width="2.8"/><polyline points="432.8,576.2 432.5,577.2 431.6,578.2 430.1,579.1 428,579.9 424.2,581.2 420.3,582.5" stroke="#B32238" stroke-width="2.8"/><polyline points="420.3,582.5 416.4,583.8 412.4,585.2 408.4,586.5 404.3,587.9 400.2,589.3 396.1,590.7" stroke="#B22238" stroke-width="2.9"/><polyline points="396.1,590.7 391.9,592.1 387.6,593.6 383.3,595 379,596.5 374.6,597.9 370.2,599.4" stroke="#B22238" stroke-width="2.9"/></g>
<polygon points="610.3,772 932.5,915.2 953,865.8 623.8,739.6" fill="#7B87BE" filter="url(#g7)" opacity="0.55"/>
<polygon points="614.5,762 938.8,899.9 946.6,881.1 619.6,749.6" fill="#E8A584" filter="url(#g2)" opacity="0.9"/>
<polygon points="615,760.9 939.5,898.2 945.9,882.8 619.2,750.7" fill="#B4283F"/>
<path d="M618.4,752.7 L944.7,885.7" stroke="#A21E37" stroke-width="1.6" fill="none"/>
<path d="M617.1,755.8 L942.7,890.5" stroke="#A21E37" stroke-width="1.6" fill="none"/>
<path d="M615.8,758.9 L940.8,895.3" stroke="#A21E37" stroke-width="1.6" fill="none"/>
<path d="M598.1,747.3 L616.1,755.3" stroke="#4A5898" stroke-width="1.6" fill="none"/>
<g fill="none" stroke-linecap="round">
<path d="M188.8,576 L190.3,572.3" stroke="#3c3f4a" stroke-width="2"/><path d="M189.3,576.5 L190.9,572.8" stroke="#9A9B96" stroke-width="1.2"/>
<path d="M165.3,566 L166.7,562.6" stroke="#3c3f4a" stroke-width="1.9"/><path d="M165.8,566.5 L167.2,563.1" stroke="#9A9B96" stroke-width="1.1"/>
<path d="M159.2,747.8 L154.9,737.4" stroke="#3c3f4a" stroke-width="4.9"/><path d="M159.7,748.3 L155.5,737.9" stroke="#9A9B96" stroke-width="4.1"/>
<path d="M271.3,701.1 L267.7,692.4" stroke="#3c3f4a" stroke-width="4.2"/><path d="M271.8,701.6 L268.3,692.9" stroke="#9A9B96" stroke-width="3.4"/>
<path d="M720.6,804.8 l5.5,-13.2" stroke="#9C9C97" stroke-width="4.4" stroke-linecap="butt"/>
<path d="M823.8,847.9 l5.5,-13.2" stroke="#9C9C97" stroke-width="5" stroke-linecap="butt"/>
<path d="M574.2,641.6 L571.7,636.6" stroke="#3c3f4a" stroke-width="2.5"/><path d="M574.8,642.1 L572.2,637.1" stroke="#9A9B96" stroke-width="1.7"/>
<path d="M407.1,588 L405.8,584" stroke="#3c3f4a" stroke-width="2.1"/><path d="M407.7,588.5 L406.3,584.5" stroke="#9A9B96" stroke-width="1.3"/>
<path d="M714.3,596.6 L712.1,592.7" stroke="#3c3f4a" stroke-width="2.1"/><path d="M714.9,597.1 L712.6,593.2" stroke="#9A9B96" stroke-width="1.3"/>
<path d="M493.6,543.6 L492.6,540.5" stroke="#3c3f4a" stroke-width="1.8"/><path d="M494.2,544.1 L493.2,541" stroke="#9A9B96" stroke-width="1"/>
<path d="M783.5,555.9 L781.8,552.9" stroke="#3c3f4a" stroke-width="1.8"/><path d="M784.1,556.4 L782.3,553.4" stroke="#9A9B96" stroke-width="1"/>
<path d="M578.2,516.6 L577.5,514.1" stroke="#3c3f4a" stroke-width="1.8"/><path d="M578.8,517.1 L578,514.6" stroke="#9A9B96" stroke-width="1"/>
<path d="M834.9,525.8 L833.5,523.4" stroke="#3c3f4a" stroke-width="1.8"/><path d="M835.4,526.3 L834,523.9" stroke="#9A9B96" stroke-width="1"/>
<path d="M644.5,495.4 L643.8,493.3" stroke="#3c3f4a" stroke-width="1.8"/><path d="M645.1,495.9 L644.4,493.8" stroke="#9A9B96" stroke-width="1"/>
<path d="M704.3,540.8 L703,537.9" stroke="#3c3f4a" stroke-width="1.8"/><path d="M704.9,541.3 L703.6,538.4" stroke="#9A9B96" stroke-width="1"/>
<path d="M640.3,528.5 L639.3,525.8" stroke="#3c3f4a" stroke-width="1.8"/><path d="M640.9,529 L639.9,526.3" stroke="#9A9B96" stroke-width="1"/>
<path d="M762.5,514.3 L761.4,511.9" stroke="#3c3f4a" stroke-width="1.8"/><path d="M763,514.8 L761.9,512.4" stroke="#9A9B96" stroke-width="1"/>
<path d="M703,504.8 L702.2,502.6" stroke="#3c3f4a" stroke-width="1.8"/><path d="M703.6,505.3 L702.7,503.1" stroke="#9A9B96" stroke-width="1"/>
<path d="M823.5,510.2 L823.9,507.7" stroke="#3c3f4a" stroke-width="1.8"/><path d="M824.1,510.7 L824.5,508.2" stroke="#9A9B96" stroke-width="1"/>
<path d="M692.9,490.7 L693.2,488.7" stroke="#3c3f4a" stroke-width="1.8"/><path d="M693.5,491.2 L693.8,489.2" stroke="#9A9B96" stroke-width="1"/>
<path d="M645.4,546.8 L646.1,543.6" stroke="#3c3f4a" stroke-width="1.8"/><path d="M646,547.3 L646.7,544.1" stroke="#9A9B96" stroke-width="1"/>
</g>
<linearGradient id="cwv" x1="0" y1="1" x2="0" y2="0"><stop offset="0" stop-color="#3B4CC0"/><stop offset="0.125" stop-color="#5876E2"/><stop offset="0.25" stop-color="#7C9FF9"/><stop offset="0.375" stop-color="#A5C3FE"/><stop offset="0.5" stop-color="#DDDDDD"/><stop offset="0.625" stop-color="#F5C4AD"/><stop offset="0.75" stop-color="#F49A7B"/><stop offset="0.875" stop-color="#DE604D"/><stop offset="1" stop-color="#B40426"/></linearGradient>
<rect x="40.4" y="594.7" width="7.4" height="126.9" fill="url(#cwv)"/>
<path d="M48,594.9 h5 M48,620.3 h5 M48,645.6 h5 M48,671 h5 M48,696.3 h5 M48,721.7 h5" stroke="#C8CCE8" stroke-width="0.7" fill="none"/>
<g font-family="'Liberation Serif',serif" font-size="8.9" fill="#F2F2F8"><text x="56.4" y="597.1">1.0e+06</text><text x="56.4" y="622.5">800000</text><text x="56.4" y="647.8">600000</text><text x="56.4" y="673.2">400000</text><text x="56.4" y="698.5">200000</text><text x="56.4" y="723.9">0.0e+00</text><text transform="translate(91.8,658.5) rotate(-90)" text-anchor="middle">mag(E)</text></g>
</g>
<defs><linearGradient id="cw"><stop offset="0" stop-color="#3B4CC0"/><stop offset="0.125" stop-color="#5876E2"/><stop offset="0.25" stop-color="#7C9FF9"/><stop offset="0.375" stop-color="#A5C3FE"/><stop offset="0.5" stop-color="#DDDDDD"/><stop offset="0.625" stop-color="#F5C4AD"/><stop offset="0.75" stop-color="#F49A7B"/><stop offset="0.875" stop-color="#DE604D"/><stop offset="1" stop-color="#B40426"/></linearGradient><filter id="b8" x="-150%" y="-150%" width="400%" height="400%"><feGaussianBlur stdDeviation="8"/></filter><filter id="b12" x="-150%" y="-150%" width="400%" height="400%"><feGaussianBlur stdDeviation="12"/></filter><filter id="b18" x="-150%" y="-150%" width="400%" height="400%"><feGaussianBlur stdDeviation="18"/></filter><filter id="b25" x="-150%" y="-150%" width="400%" height="400%"><feGaussianBlur stdDeviation="25"/></filter><filter id="b35" x="-150%" y="-150%" width="400%" height="400%"><feGaussianBlur stdDeviation="35"/></filter><filter id="b3" x="-150%" y="-150%" width="400%" height="400%"><feGaussianBlur stdDeviation="3"/></filter><filter id="b5" x="-150%" y="-150%" width="400%" height="400%"><feGaussianBlur stdDeviation="5"/></filter><filter id="b1" x="-150%" y="-150%" width="400%" height="400%"><feGaussianBlur stdDeviation="1.2"/></filter><clipPath id="cB"><rect x="980" y="218.8" width="901.3" height="293.8"/></clipPath><clipPath id="cBr"><rect x="980" y="531" width="376" height="319"/></clipPath><clipPath id="cG"><rect x="1376.8" y="533.3" width="502" height="314.5"/></clipPath></defs>
<g clip-path="url(#cB)">
<rect x="978" y="216" width="906" height="299" fill="#DBB298"/>
<ellipse cx="1440" cy="330" rx="215" ry="85" fill="#E2896C" filter="url(#b25)"/>
<ellipse cx="1436" cy="328" rx="150" ry="48" fill="#D4604A" filter="url(#b18)"/>
<polygon points="978,332 1884,326 1884,515 978,515" fill="#DBB298"/>
<path d="M1258,340 H1610 V410 Q1606,486 1434,488 Q1262,486 1258,410Z" fill="#D6D3D6" filter="url(#b25)"/>
<path d="M1262,340 H1606 V405 Q1602,476 1434,478 Q1266,476 1262,405Z" fill="#CDD2DE" filter="url(#b18)"/>
<path d="M1268,345 H1600 V398 Q1596,456 1434,458 Q1272,456 1268,398Z" fill="#8EA6DE" filter="url(#b18)"/>
<path d="M1282,350 H1588 V386 Q1582,430 1434,432 Q1288,430 1282,386Z" fill="#5A74CE" filter="url(#b18)"/>
<path d="M1295,356 H1575 V380 Q1566,408 1434,410 Q1304,408 1295,380Z" fill="#4058C0" filter="url(#b12)"/>
<linearGradient id="gcp" gradientUnits="userSpaceOnUse" x1="980" x2="1881"><stop offset="0" stop-color="#A9BFE8"/><stop offset="0.262" stop-color="#B7C8E8"/><stop offset="0.295" stop-color="#E9D6CC"/><stop offset="0.318" stop-color="#E0765A"/><stop offset="0.345" stop-color="#B8182B"/><stop offset="0.66" stop-color="#B8182B"/><stop offset="0.69" stop-color="#DB6A50"/><stop offset="0.715" stop-color="#E6C9BC"/><stop offset="0.75" stop-color="#B2C5E8"/><stop offset="1" stop-color="#A9BFE8"/></linearGradient>
<polygon points="978,325 1884,319 1884,331.5 978,337.5" fill="url(#gcp)"/>
<polygon points="978,322 1884,316 1884,320 978,326" fill="#5B6084"/>
<polygon points="978,336.5 1884,330.5 1884,334.7 978,340.7" fill="#5B6084"/>
<polygon points="1263.8,334.6 1603.9,332.3 1606.4,366.6 1261.3,368.9" fill="#5B6084"/>
<linearGradient id="gidc" x1="0" x2="0" y1="0" y2="1"><stop offset="0" stop-color="#9DB6E6"/><stop offset="0.55" stop-color="#C6D4EC"/><stop offset="0.62" stop-color="#E79A6C"/><stop offset="1" stop-color="#EBA577"/></linearGradient>
<polygon points="1269.7,336.8 1598.3,334.6 1598.3,363 1269.7,365.1" fill="url(#gidc)"/>
<path d="M1278.7,340.5 l4.6,0 l-2.6,14 l-4.4,0zM1289.7,340.5 l4.6,0 l-2.6,14 l-4.4,0zM1300.7,340.4 l4.6,0 l-2.6,14 l-4.4,0zM1311.7,340.3 l4.6,0 l-2.6,14 l-4.4,0zM1322.6,340.2 l4.6,0 l-2.6,14 l-4.4,0zM1333.6,340.2 l4.6,0 l-2.6,14 l-4.4,0zM1344.6,340.1 l4.6,0 l-2.6,14 l-4.4,0zM1355.6,340 l4.6,0 l-2.6,14 l-4.4,0zM1366.6,339.9 l4.6,0 l-2.6,14 l-4.4,0zM1377.6,339.9 l4.6,0 l-2.6,14 l-4.4,0zM1388.6,339.8 l4.6,0 l-2.6,14 l-4.4,0zM1399.5,339.7 l4.6,0 l-2.6,14 l-4.4,0zM1410.5,339.7 l4.6,0 l-2.6,14 l-4.4,0zM1421.5,339.6 l4.6,0 l-2.6,14 l-4.4,0zM1432.5,339.5 l4.6,0 l-2.6,14 l-4.4,0zM1443.5,339.4 l4.6,0 l-2.6,14 l-4.4,0zM1454.5,339.4 l4.6,0 l-2.6,14 l-4.4,0zM1465.5,339.3 l4.6,0 l-2.6,14 l-4.4,0zM1476.5,339.2 l4.6,0 l-2.6,14 l-4.4,0zM1487.4,339.1 l4.6,0 l-2.6,14 l-4.4,0zM1498.4,339.1 l4.6,0 l-2.6,14 l-4.4,0zM1509.4,339 l4.6,0 l-2.6,14 l-4.4,0zM1520.4,338.9 l4.6,0 l-2.6,14 l-4.4,0zM1531.4,338.8 l4.6,0 l-2.6,14 l-4.4,0zM1542.4,338.8 l4.6,0 l-2.6,14 l-4.4,0zM1553.4,338.7 l4.6,0 l-2.6,14 l-4.4,0zM1564.3,338.6 l4.6,0 l-2.6,14 l-4.4,0zM1575.3,338.6 l4.6,0 l-2.6,14 l-4.4,0zM1586.3,338.5 l4.6,0 l-2.6,14 l-4.4,0z" fill="#C2182E"/>
<path d="M1277.3,339.5 l-3.2,16M1288.3,339.5 l-3.2,16M1299.3,339.4 l-3.2,16M1310.3,339.3 l-3.2,16M1321.2,339.2 l-3.2,16M1332.2,339.2 l-3.2,16M1343.2,339.1 l-3.2,16M1354.2,339 l-3.2,16M1365.2,338.9 l-3.2,16M1376.2,338.9 l-3.2,16M1387.2,338.8 l-3.2,16M1398.1,338.7 l-3.2,16M1409.1,338.7 l-3.2,16M1420.1,338.6 l-3.2,16M1431.1,338.5 l-3.2,16M1442.1,338.4 l-3.2,16M1453.1,338.4 l-3.2,16M1464.1,338.3 l-3.2,16M1475.1,338.2 l-3.2,16M1486,338.1 l-3.2,16M1497,338.1 l-3.2,16M1508,338 l-3.2,16M1519,337.9 l-3.2,16M1530,337.8 l-3.2,16M1541,337.8 l-3.2,16M1552,337.7 l-3.2,16M1562.9,337.6 l-3.2,16M1573.9,337.6 l-3.2,16M1584.9,337.5 l-3.2,16" stroke="#2F3F9E" stroke-width="1.5" fill="none"/>
<polygon points="1269.7,341.1 1278.7,341.1 1275.7,365.1 1269.7,365.1" fill="#D0402F"/>
<polygon points="1590.3,338.9 1598.3,338.9 1598.3,363 1593.3,363" fill="#D0402F"/>
<path d="M1272.7,356.1 L1276.5,358.4 L1279.7,351.9 L1282,357.1 L1285.1,351.1 L1287.4,351.7 L1290,352.2 L1294.2,358.6 L1298.1,352.1 L1301.3,357.9 L1303.6,347.2 L1307.5,356 L1311.1,353.4 L1313.7,358.5 L1317.7,350.8 L1321.3,349.2 L1324.4,351.3 L1327.2,358.1 L1330.1,351.1 L1333.7,357 L1337.5,345.7 L1341.3,357.1 L1344.5,351.3 L1346.7,358.4 L1349.1,353.1 L1352,352.4 L1356.1,352.2 L1358.8,357.7 L1362.3,352.5 L1365.4,356.1 L1368.9,343.3 L1372.4,356.5 L1376.2,350.9 L1379.2,357.7 L1382.1,352.5 L1385.6,349.2 L1389.2,352.7 L1391.7,357.4 L1395.6,351.4 L1398.9,356.6 L1403,345.1 L1405.2,356.4 L1408.7,352.9 L1412.7,356.1 L1416.9,350.7 L1420.8,349.5 L1423.1,352.6 L1427,355.4 L1430.2,350.8 L1433.4,356.6 L1435.8,347.2 L1438.9,355.1 L1441.1,350.5 L1444,357.7 L1448,351.3 L1451.1,348.6 L1454,352.2 L1457,356.6 L1460.6,351.3 L1464.2,356.9 L1466.4,345.1 L1469.1,355.4 L1471.4,350.4 L1474.8,357.4 L1477.7,350.8 L1480.7,348.8 L1484.8,350.8 L1488.4,355.6 L1492.2,350.3 L1496.2,356.1 L1499.8,345.6 L1503,354.7 L1505.3,351.1 L1508.5,357 L1510.7,351.1 L1513.9,348.6 L1517.1,351.1 L1520.3,356.2 L1523,351 L1526.6,354.9 L1530.7,342.8 L1533.5,355.6 L1536.2,349.4 L1538.5,355 L1542.4,349.7 L1546,350.7 L1548.6,351.2 L1551.8,355.8 L1554.9,350 L1558,356.9 L1560.7,346.1 L1563.2,355.1 L1565.6,351.9 L1568.6,354.6 L1570.8,349.2 L1573.4,348.3 L1577.5,351.7 L1580.2,355.8 L1584.3,349.3 L1588.2,355.1 L1591.9,342.8 L1595.2,354.2" stroke="#120d0a" stroke-width="1.1" fill="none" stroke-linejoin="round"/>
<path d="M1273.7,360.7 h3.6M1279.4,360.2 h3.9M1284.8,360.7 h2.8M1290.3,360.1 h2.1M1295.5,359.9 h2.1M1301.3,360.1 h2.1M1306.2,360.6 h2.3M1311.6,360.6 h2.2M1317.2,360.4 h2M1321.8,360.5 h3.4M1327,360 h2.5M1333.7,360.5 h2.1M1339.5,359.5 h2.8M1345.9,360.1 h2.4M1351.2,359.7 h2.8M1357.4,360.1 h2.7M1363,359.2 h2.7M1369.9,359.7 h3.1M1375.9,359.7 h3.6M1381.1,359.4 h3.8M1386.8,360.1 h2.3M1393.3,359.5 h2.9M1400,359.1 h3M1405.1,359.3 h3.6M1410.6,359.8 h2M1417.6,359.9 h3.4M1422.6,359.5 h2.4M1428,358.8 h2.1M1432.9,358.9 h3.7M1438,359.6 h2M1442.7,358.7 h3.9M1449.2,358.6 h3.9M1454.3,358.9 h3.2M1459.3,359.7 h2.7M1465.2,359.2 h2.6M1471.5,359.6 h3.2M1476.3,359.4 h3.3M1482,359.1 h2.5M1487.2,358.9 h2.1M1493.2,358.5 h2.5M1500,358.9 h2.5M1506.2,359.4 h3.8M1512.7,358.6 h3.2M1518.7,358.2 h3.4M1524.5,358.7 h3.5M1529.2,358.3 h4M1534.4,358.3 h2.1M1539.7,358.6 h2.1M1544.9,358.2 h2.3M1551.4,359 h3.8M1557,357.9 h2.7M1562.8,358.3 h3.5M1569.2,358.9 h2.9M1574.3,358.8 h3.8M1579.1,358 h3.3M1585.6,358.8 h2M1590.6,358.1 h3.1M1273.7,338.6 h2.3M1282.3,338.6 h1.9M1291.2,338.5 h2.4M1301,338.5 h1.8M1308.4,338.4 h2M1316.4,338.4 h2.2M1323.9,338.3 h2.6M1333.4,338.2 h1.5M1343.1,338.2 h1.6M1351,338.1 h2.2M1359.3,338.1 h1.8M1368.5,338 h2.8M1376.2,338 h1.7M1384.7,337.9 h1.7M1394.5,337.8 h2.8M1404,337.8 h2.1M1413.4,337.7 h2.1M1421.8,337.7 h1.7M1428.9,337.6 h2.5M1436.5,337.6 h2.9M1445.2,337.5 h2.4M1454.9,337.4 h1.9M1461.9,337.4 h1.8M1470.3,337.3 h1.7M1478.1,337.3 h2.6M1486.2,337.2 h2M1493.9,337.2 h2.3M1503.9,337.1 h1.8M1513.5,337 h2.7M1522.3,337 h2.3M1530.8,336.9 h1.7M1539.5,336.9 h3M1548.7,336.8 h2.2M1557,336.8 h2.8M1564.1,336.7 h1.8M1573.9,336.6 h2.5M1583.4,336.6 h2.3M1590.5,336.5 h2.3" stroke="#120d0a" stroke-width="1.2" fill="none"/>
<path d="M1094.2,366.8 1097.7,365 1097.9,364.2 1100.7,363.8 1098.6,365.6 1097.8,365.3zM1525.7,228.7 1521.8,228.5 1521.2,229.1 1518.6,228 1521.4,227.5 1521.8,228.2zM1113,493.2 1114.9,489.7 1114.6,489 1116.7,487 1116,489.8 1115.1,489.9zM1048.1,260 1044.9,257.7 1044.1,257.8 1042.4,255.5 1045.1,256.6 1045,257.4zM1837,401 1833.3,401.1 1832.8,401.8 1830.2,400.9 1832.8,400.2 1833.3,400.8zM1581.2,300.1 1576.8,300.3 1576.3,300.9 1573.3,300.1 1576.3,299.3 1576.8,300zM1103.2,451.5 1106.1,449 1106,448.2 1108.6,447.1 1107,449.4 1106.3,449.2zM1719.1,380.5 1715,379.9 1714.4,380.4 1711.7,379.1 1714.7,378.8 1715.1,379.6zM1859.6,280.5 1863.1,279.3 1863.4,278.5 1866.2,278.5 1863.9,280 1863.2,279.6zM1297.8,395.5 1299.2,391.8 1298.8,391.1 1300.6,388.9 1300.3,391.7 1299.5,391.9zM1190.7,456.4 1193.4,453 1193.3,452.2 1195.9,450.5 1194.5,453.3 1193.7,453.2zM1758.4,259.9 1761,257.1 1760.9,256.3 1763.3,255.1 1762,257.5 1761.2,257.3zM1404.9,301 1401.1,300.8 1400.5,301.4 1397.9,300.3 1400.7,299.8 1401.1,300.5zM1054.1,483.7 1056.8,480.3 1056.6,479.5 1059.1,477.8 1057.8,480.5 1057,480.5zM1371.6,263.3 1367.7,263.1 1367.2,263.7 1364.6,262.6 1367.3,262.1 1367.8,262.8zM1791.2,286.5 1791.4,282.8 1790.8,282.3 1791.8,279.9 1792.3,282.5 1791.7,282.9zM1014.9,279.7 1011.3,278.4 1010.6,278.9 1008.5,277.1 1011.2,277.4 1011.4,278.2zM1799,422.9 1795.4,423.1 1794.9,423.7 1792.4,423 1794.9,422.1 1795.4,422.8zM1290,225.5 1286.4,225 1285.8,225.6 1283.5,224.3 1286.1,224 1286.4,224.7zM1393.9,424.5 1394.8,420.7 1394.3,420.1 1395.8,417.7 1395.8,420.5 1395.1,420.8zM1034.4,232 1030.7,229.8 1029.9,230.1 1027.8,227.8 1030.7,228.7 1030.8,229.6zM1745.4,391.5 1741.2,391.2 1740.6,391.8 1737.8,390.6 1740.8,390.2 1741.2,390.9zM1262.5,313.4 1258.9,312.4 1258.2,312.9 1256,311.3 1258.7,311.3 1258.9,312.1zM1064.3,273.5 1061.8,270 1060.9,269.9 1060,266.9 1062.3,269 1062,269.8zM1001.1,466.6 1004.3,463.8 1004.3,463 1007.1,461.7 1005.3,464.2 1004.5,464.1zM1645.1,280.1 1645.8,276.6 1645.2,276 1646.6,273.7 1646.8,276.3 1646.1,276.6zM1034.3,395.7 1037.9,393.8 1038,393 1040.9,392.5 1038.7,394.5 1038,394.1zM1784.2,230.6 1786.5,227.5 1786.3,226.7 1788.6,225.1 1787.5,227.7 1786.7,227.7zM1703.3,278.2 1705,275 1704.7,274.2 1706.7,272.4 1706.1,275 1705.3,275.1zM1067.7,228.1 1065.1,225 1064.3,225 1063.2,222.4 1065.5,224 1065.3,224.8zM1242.3,434.4 1245.3,431.2 1245.2,430.3 1247.9,428.7 1246.3,431.5 1245.5,431.4zM1422.4,470.9 1425,467.8 1424.9,467 1427.4,465.5 1426.1,468.1 1425.2,468zM1173.7,310.2 1177.4,311.7 1178.2,311.4 1180.4,313.3 1177.5,312.8 1177.3,312zM1211.9,507.8 1213.9,504.3 1213.6,503.5 1215.7,501.6 1215,504.4 1214.1,504.5zM1650.2,234.5 1652.5,231.3 1652.2,230.5 1654.5,228.8 1653.5,231.4 1652.7,231.5zM1651.5,379.4 1647.8,378.9 1647.2,379.5 1644.8,378.2 1647.5,377.9 1647.8,378.6zM1576.3,424.8 1575.8,421.1 1575.1,420.7 1575.7,418.1 1576.7,420.6 1576.1,421.1zM1686.9,489.9 1683,490.1 1682.5,490.7 1679.9,489.9 1682.6,489.1 1683,489.8zM1113.6,403.8 1116.7,401.9 1116.8,401.1 1119.4,400.6 1117.5,402.5 1116.8,402.2zM1107.4,349.9 1111.3,348.7 1111.6,348 1114.6,348.1 1112,349.5 1111.4,349zM1308.1,267.5 1304.4,267.6 1303.9,268.2 1301.4,267.4 1304,266.6 1304.4,267.3zM1875.2,263.4 1879.2,261.6 1879.5,260.8 1882.6,260.4 1880.1,262.3 1879.3,261.9zM1557.1,266.5 1553.1,266.6 1552.6,267.3 1549.8,266.5 1552.6,265.7 1553.1,266.3zM1433,243 1429.1,243 1428.6,243.7 1425.9,242.8 1428.6,242.1 1429.1,242.7zM1019.3,256.1 1016.3,253.4 1015.5,253.5 1014,250.9 1016.6,252.3 1016.5,253.2zM1482,408.6 1480.3,405.1 1479.6,404.9 1479.2,402.1 1481,404.3 1480.6,405zM1799.7,257.1 1801.6,253.2 1801.3,252.5 1803.4,250.2 1802.7,253.2 1801.9,253.4zM1055.8,384.8 1059.7,383.1 1059.9,382.3 1062.9,382 1060.5,383.8 1059.8,383.4zM1851,484.2 1846.7,484.1 1846.2,484.8 1843.3,483.8 1846.2,483.2 1846.8,483.8zM1614,240.7 1610.4,239.4 1609.7,239.9 1607.6,238.1 1610.3,238.4 1610.6,239.2zM1709.6,419.1 1705.8,419 1705.3,419.6 1702.7,418.6 1705.4,418 1705.8,418.7zM1024,455.8 1026.4,453 1026.2,452.2 1028.5,450.9 1027.4,453.3 1026.6,453.2zM1630,456.6 1627,454 1626.2,454.2 1624.7,451.7 1627.2,453 1627.2,453.8zM1665.8,301.3 1664.6,297.5 1663.9,297.1 1663.9,294.2 1665.4,296.7 1664.9,297.4zM1692.7,295.8 1690.9,292.2 1690.1,292 1689.7,289.2 1691.6,291.4 1691.2,292.1zM1529.3,394.4 1525.7,395.6 1525.4,396.3 1522.7,396.2 1525,394.8 1525.6,395.3zM1194,403.3 1197.6,400.8 1197.7,400 1200.7,399.1 1198.6,401.3 1197.8,401.1zM1300.5,436.3 1302.9,433.4 1302.8,432.6 1305.2,431.3 1304,433.7 1303.2,433.6zM1351.5,382.2 1355,380.7 1355.3,380 1358.1,379.8 1355.8,381.5 1355.2,381zM1065.5,311.8 1068.6,314.7 1069.5,314.7 1071,317.3 1068.3,315.8 1068.4,314.9zM1479,228.7 1474.7,228.5 1474.1,229.1 1471.2,228 1474.2,227.5 1474.7,228.2zM1689.3,406.3 1685.5,405.4 1684.8,405.9 1682.4,404.4 1685.2,404.4 1685.6,405.1zM1795.2,439.5 1791.5,440 1791.1,440.7 1788.5,440.2 1790.9,439.1 1791.5,439.7zM1772.6,421.2 1768.7,421 1768.1,421.6 1765.6,420.6 1768.3,420 1768.7,420.7zM1688.7,350.5 1684.7,350.5 1684.2,351.1 1681.5,350.1 1684.3,349.5 1684.7,350.2zM1480.1,461 1480.3,456.6 1479.7,456 1480.8,453.1 1481.3,456.2 1480.6,456.7zM1365.8,471.3 1366.6,467.6 1366.1,466.9 1367.6,464.6 1367.7,467.3 1366.9,467.6zM1102.9,401.4 1105.9,399.2 1106,398.4 1108.6,397.7 1106.9,399.8 1106.1,399.5zM1138.4,225.9 1135.4,223.2 1134.6,223.3 1133.2,220.7 1135.7,222.1 1135.6,223zM1038.8,354.6 1043,353.6 1043.5,352.8 1046.6,353.1 1043.8,354.4 1043.1,353.9zM1854.7,235.4 1857.2,232.5 1857,231.7 1859.4,230.3 1858.2,232.8 1857.4,232.7zM1875.8,376.3 1871.4,376.1 1870.8,376.7 1867.9,375.7 1871,375.1 1871.5,375.8zM1086.5,342.2 1090.2,341.6 1090.6,340.9 1093.3,341.4 1090.8,342.5 1090.2,341.9zM1165.4,430 1168.4,427.5 1168.4,426.7 1171,425.6 1169.4,427.9 1168.6,427.7zM1471.7,304.1 1467.9,303.9 1467.4,304.5 1464.9,303.5 1467.5,302.9 1468,303.6zM1208.9,475.4 1211.5,471.9 1211.3,471 1213.9,469.2 1212.6,472 1211.7,472.1zM1673.6,347 1669.7,347.1 1669.2,347.7 1666.6,346.9 1669.3,346.1 1669.7,346.8zM1342.8,436.3 1346.4,434.3 1346.6,433.5 1349.5,432.9 1347.3,434.9 1346.6,434.6zM1033.3,284.7 1029.7,283.9 1029,284.4 1026.8,283 1029.5,282.9 1029.7,283.6zM1019.3,352.4 1022.7,351.3 1023,350.6 1025.6,350.7 1023.4,352.1 1022.8,351.6zM1771.6,486.6 1767.2,486.4 1766.6,487 1763.7,485.9 1766.7,485.4 1767.2,486.1zM1308.2,481.5 1309.9,477.8 1309.5,477.1 1311.5,474.9 1311,477.8 1310.2,478zM1819.7,338.3 1816,338.5 1815.6,339.1 1813.1,338.4 1815.5,337.5 1816,338.2zM1116.4,389 1120.2,387.1 1120.4,386.3 1123.5,385.7 1121.1,387.7 1120.3,387.4zM1056.2,415 1059.9,412.7 1060,411.9 1063,411.1 1060.8,413.3 1060,413zM1854.4,393.6 1850.5,392.9 1849.9,393.4 1847.4,392.1 1850.2,391.9 1850.6,392.6zM1150.1,305.1 1146.1,305 1145.5,305.6 1142.8,304.6 1145.6,304 1146.1,304.7zM1632.8,314.9 1628.8,314.7 1628.2,315.3 1625.5,314.3 1628.3,313.7 1628.8,314.4zM1384.5,504.8 1385.1,501.2 1384.6,500.7 1385.9,498.4 1386.1,501 1385.4,501.3zM1127.9,362.4 1131.4,361.6 1131.8,360.8 1134.4,361.1 1132.1,362.4 1131.5,361.8zM1130.4,394.6 1133.4,392.6 1133.4,391.8 1135.9,391.2 1134.2,393.2 1133.5,392.8zM1826.2,453.5 1822.4,452.8 1821.8,453.3 1819.4,451.9 1822.2,451.7 1822.5,452.5zM1409.2,369.4 1411.2,372.6 1412,372.7 1412.6,375.4 1410.6,373.5 1410.9,372.8zM1204.1,231.7 1202.7,228.3 1201.9,228.1 1201.7,225.4 1203.4,227.5 1202.9,228.2zM989.3,394.1 992.4,392.1 992.5,391.3 995,390.7 993.3,392.7 992.5,392.4zM1000.4,230.3 997.8,227.8 997,227.9 995.8,225.6 998.1,226.8 998,227.6zM1522.9,286.2 1519.2,285.9 1518.6,286.5 1516.2,285.4 1518.8,284.9 1519.2,285.6zM1322.1,318.5 1318.1,318.2 1317.6,318.8 1315,317.7 1317.8,317.2 1318.2,317.9zM1333.4,234.8 1329.5,234.9 1329,235.6 1326.4,234.8 1329,234 1329.5,234.6zM999.4,279.4 995.7,277.8 995,278.1 992.8,276.2 995.7,276.7 995.8,277.5zM1663.3,243.4 1665.5,240.2 1665.2,239.4 1667.5,237.7 1666.5,240.3 1665.7,240.4zM1202.9,432.7 1205.4,429.8 1205.3,429 1207.7,427.7 1206.4,430.1 1205.6,430zM1230.9,232.2 1228.4,228.9 1227.6,228.8 1226.6,225.9 1228.9,227.9 1228.6,228.7zM1707.5,258.4 1710.1,255.2 1710,254.4 1712.5,252.8 1711.2,255.5 1710.4,255.4zM1253.4,389.7 1257.2,390.2 1257.8,389.6 1260.3,390.9 1257.5,391.2 1257.2,390.5zM1801.1,304.4 1798.4,301.5 1797.5,301.6 1796.3,299 1798.7,300.5 1798.6,301.3zM1222.6,419.5 1225.5,417.4 1225.5,416.6 1228,415.8 1226.4,417.9 1225.6,417.6zM1773,309.2 1774.9,305.7 1774.6,304.9 1776.7,303 1776,305.7 1775.2,305.9zM1696.6,399 1693,398.7 1692.5,399.3 1690.1,398.2 1692.7,397.7 1693,398.4zM1145.1,275.1 1142.4,272.4 1141.6,272.5 1140.4,270.1 1142.7,271.4 1142.6,272.2zM1666.6,425.9 1662.2,425.8 1661.7,426.4 1658.7,425.5 1661.7,424.8 1662.3,425.5zM1620.6,495.8 1618.3,492.1 1617.5,492 1616.7,489 1618.9,491.2 1618.6,492zM1061.6,352 1065.6,351.1 1066,350.3 1068.9,350.6 1066.3,351.9 1065.7,351.3zM1478.8,503.9 1478.9,499.5 1478.3,498.9 1479.2,495.9 1479.8,498.9 1479.2,499.5zM1146,374 1149.6,372.5 1149.8,371.7 1152.6,371.5 1150.4,373.2 1149.7,372.8zM1214,297.3 1214.1,293.5 1213.4,293 1214.3,290.5 1215,293.1 1214.4,293.5zM1836.2,309.1 1838.9,311.5 1839.7,311.3 1841,313.6 1838.6,312.5 1838.7,311.7zM1765.4,393.4 1761.4,393.2 1760.8,393.8 1758.2,392.8 1761,392.2 1761.4,392.9zM1858.8,269 1862.8,267.5 1863.1,266.7 1866.2,266.5 1863.6,268.2 1862.9,267.8zM1634.2,349.3 1630.5,350.7 1630.2,351.5 1627.3,351.7 1629.7,350 1630.4,350.5zM998.2,419.4 1001.4,416.5 1001.4,415.6 1004.2,414.4 1002.4,416.9 1001.6,416.7zM1844.9,268.3 1848.3,266 1848.3,265.1 1851.1,264.2 1849.2,266.5 1848.4,266.2zM1133.1,288.2 1129.9,286.4 1129.1,286.7 1127.4,284.6 1130,285.3 1130,286.1zM1119.5,227.8 1117,225.2 1116.2,225.3 1115.1,223 1117.4,224.3 1117.2,225zM1067.3,306.4 1069.6,302.7 1069.4,301.8 1071.8,299.8 1070.7,302.7 1069.9,302.8zM1178.6,310.7 1182.3,309.6 1182.7,308.8 1185.5,308.9 1183.1,310.3 1182.4,309.8zM1725.8,226 1728.7,223.2 1728.6,222.4 1731.2,221 1729.7,223.5 1728.9,223.4zM1762.6,404.3 1758.9,404.6 1758.5,405.3 1755.9,404.6 1758.4,403.7 1758.9,404.3zM1175.7,490.4 1177.8,487.4 1177.6,486.6 1179.8,485.1 1178.9,487.6 1178.1,487.5zM1196.7,372.2 1200.1,370.7 1200.3,370 1203,369.8 1200.9,371.5 1200.2,371zM1201.2,360.2 1205.1,358.5 1205.4,357.7 1208.4,357.4 1206,359.2 1205.2,358.8zM1026.6,304.2 1022.6,303.9 1022,304.5 1019.3,303.3 1022.2,302.9 1022.6,303.6zM1866.4,350.1 1862.1,350.7 1861.6,351.4 1858.6,351 1861.5,349.8 1862.1,350.4zM1121.5,375.3 1125,374 1125.2,373.2 1127.9,373.2 1125.7,374.7 1125.1,374.3zM1557.7,491.3 1555.6,488 1554.7,487.9 1554.1,485.1 1556.1,487.1 1555.8,487.8zM1745.9,427.3 1741.9,427.1 1741.3,427.7 1738.6,426.7 1741.4,426.1 1741.9,426.8zM1063.2,252.4 1060.7,249.5 1059.9,249.5 1058.9,247 1061.1,248.5 1060.9,249.3zM1074.7,350.5 1079.1,350.3 1079.7,349.6 1082.7,350.4 1079.7,351.2 1079.1,350.6zM1820.5,269.3 1822.3,266 1822,265.3 1824.1,263.5 1823.4,266.1 1822.6,266.2zM1196.1,275.6 1194.8,272.3 1194.1,272.1 1194,269.5 1195.6,271.5 1195.1,272.2zM1652.4,508.8 1648.1,508 1647.4,508.5 1644.7,507.1 1647.8,506.9 1648.2,507.7zM1846.6,439.6 1843.1,439 1842.5,439.5 1840.3,438.2 1842.8,438 1843.2,438.7zM1807,507.4 1802.6,507.4 1802.1,508 1799.1,507.1 1802.1,506.4 1802.6,507.1zM1216,395.3 1219.6,393.1 1219.8,392.2 1222.7,391.5 1220.6,393.6 1219.8,393.3zM1719.9,494.5 1716.3,494 1715.8,494.5 1713.5,493.3 1716.1,492.9 1716.4,493.7zM1160.9,452.3 1163.9,449.5 1163.8,448.7 1166.5,447.4 1164.9,449.8 1164.1,449.7zM1402.7,222.4 1398.3,222.1 1397.7,222.7 1394.7,221.7 1397.8,221.1 1398.3,221.8zM1051.4,297.1 1048,296 1047.3,296.5 1045.3,294.9 1047.9,295 1048.1,295.7zM1829,255.5 1832,253.1 1832,252.3 1834.6,251.4 1833,253.6 1832.2,253.4zM1056,278 1052.9,275.7 1052.1,275.9 1050.4,273.6 1053.1,274.6 1053,275.4zM1181.5,270.8 1179.8,267.1 1179,266.8 1178.6,263.9 1180.5,266.2 1180.1,267zM1179.1,360.6 1182.9,359.3 1183.2,358.5 1186.1,358.5 1183.7,360.1 1183,359.6zM1135.6,250.6 1132.7,247.3 1131.8,247.3 1130.5,244.5 1133,246.3 1132.9,247.1zM1219.5,273.2 1218,269.4 1217.2,269.2 1217,266.2 1218.7,268.6 1218.3,269.3zM1016.9,242 1013.8,239.6 1013,239.7 1011.4,237.4 1014,238.5 1014,239.3zM1154.6,386.5 1157.7,384.3 1157.8,383.5 1160.4,382.7 1158.7,384.8 1157.9,384.5zM1863,390.7 1859.4,391.1 1859,391.7 1856.4,391.1 1858.9,390.1 1859.4,390.8zM1657.8,307.5 1657.3,303.5 1656.6,303 1657.2,300.2 1658.2,302.9 1657.6,303.4zM1522.5,468.2 1522.6,463.8 1522,463.2 1523,460.2 1523.6,463.3 1522.9,463.8zM1092.5,377.4 1096.1,375.8 1096.3,375 1099.1,374.8 1096.9,376.5 1096.2,376.1zM1077.3,378.8 1081.3,376.9 1081.6,376.1 1084.7,375.7 1082.2,377.6 1081.4,377.2zM1081.9,305.2 1083.2,301.8 1082.8,301.1 1084.5,299.1 1084.3,301.7 1083.5,301.9zM1764.1,285.6 1766.7,283.1 1766.7,282.3 1769.1,281.3 1767.7,283.6 1766.9,283.4zM1256.3,501.3 1256.7,497.6 1256.1,497.1 1257.3,494.7 1257.7,497.3 1257,497.7zM1755.7,315.9 1760,315.5 1760.6,314.8 1763.6,315.4 1760.6,316.4 1760.1,315.8zM1083.3,237.5 1080.5,234.4 1079.7,234.4 1078.4,231.7 1080.9,233.4 1080.7,234.2zM1015.5,297.2 1011.3,296.5 1010.6,297 1007.9,295.7 1011,295.5 1011.4,296.2zM1122.1,351.7 1125.5,350 1125.6,349.2 1128.4,348.8 1126.3,350.7 1125.6,350.3zM1711.3,365.8 1707.3,366.2 1706.8,366.9 1704,366.2 1706.7,365.3 1707.2,365.9zM1672.4,453.3 1668.5,452.7 1667.9,453.3 1665.3,452.1 1668.2,451.7 1668.5,452.5zM1177.1,347.5 1181.2,346.9 1181.6,346.2 1184.5,346.6 1181.8,347.8 1181.2,347.2zM1774,294.9 1775.5,291.2 1775.1,290.5 1776.9,288.3 1776.5,291.1 1775.7,291.3zM1047.4,417.9 1050.7,415.5 1050.7,414.7 1053.5,413.8 1051.6,416 1050.8,415.8zM1638.1,230.5 1634.4,228.4 1633.6,228.6 1631.4,226.4 1634.4,227.3 1634.5,228.1zM1158.6,377.5 1162.2,376 1162.4,375.2 1165.3,375 1163,376.7 1162.3,376.3zM1709.2,386.4 1705.3,386 1704.7,386.5 1702.1,385.3 1704.9,384.9 1705.3,385.7zM1049.5,342.6 1053.5,341.6 1053.9,340.9 1056.9,341.1 1054.2,342.5 1053.6,341.9zM1054.9,242.1 1052.4,239.1 1051.6,239.1 1050.7,236.5 1052.9,238.1 1052.7,238.9zM1236.4,358.2 1240.2,356.9 1240.5,356.2 1243.4,356.2 1241,357.7 1240.3,357.2zM1045.8,352 1049.6,350.3 1049.9,349.5 1052.8,349.2 1050.5,351 1049.7,350.6zM1228,380.5 1231.3,378.7 1231.4,377.9 1234.1,377.5 1232.1,379.4 1231.4,379zM1524.1,511.9 1521.7,508.2 1520.9,508.1 1520,505.1 1522.3,507.3 1522,508.1zM1187.1,414.1 1190.8,412.4 1191,411.6 1193.9,411.3 1191.6,413.1 1190.9,412.7zM1053.6,360 1057.2,359.2 1057.5,358.5 1060.2,358.8 1057.8,360 1057.2,359.5zM1092.9,309.7 1094.3,306 1093.8,305.3 1095.6,303.2 1095.3,305.9 1094.5,306.2zM1058,289 1055,286.6 1054.2,286.8 1052.8,284.5 1055.2,285.6 1055.2,286.4zM1009.7,498.9 1011.7,495.3 1011.4,494.5 1013.6,492.4 1012.8,495.3 1011.9,495.4zM1185.4,399.2 1188.8,397.2 1189,396.4 1191.7,395.8 1189.7,397.8 1189,397.5zM1178.1,394.8 1181.8,393.1 1182.1,392.3 1185,391.9 1182.7,393.8 1181.9,393.4zM1224.1,250.1 1223,246.4 1222.2,246 1222.3,243.3 1223.7,245.6 1223.2,246.3zM1207.5,318.1 1209.6,314.7 1209.3,313.9 1211.5,312.1 1210.7,314.8 1209.8,314.9zM1447.5,423.6 1445.9,420 1445.1,419.8 1444.9,417 1446.6,419.2 1446.2,419.9zM1761.2,452.6 1757.6,452.6 1757.1,453.2 1754.6,452.3 1757.2,451.6 1757.6,452.3zM989.4,410.6 992.7,408.2 992.8,407.4 995.6,406.5 993.7,408.7 992.9,408.5zM1112.9,435 1116.4,432.7 1116.5,431.9 1119.4,431 1117.4,433.2 1116.6,432.9zM1872.9,236 1876.5,233.4 1876.6,232.5 1879.5,231.5 1877.5,233.9 1876.6,233.6zM1855.2,415.5 1851.2,415.3 1850.6,415.9 1847.9,414.8 1850.7,414.3 1851.2,415zM1708.7,344.1 1704.4,344.9 1704,345.6 1701,345.3 1703.8,344.1 1704.4,344.6zM1224,319.4 1223.9,315.3 1223.2,314.7 1224,311.9 1224.8,314.8 1224.2,315.3zM1025.4,268.6 1021.8,266.5 1021,266.8 1018.9,264.6 1021.8,265.5 1021.9,266.3zM1652.7,260.7 1654.4,256.8 1654.1,256.1 1656.1,253.8 1655.5,256.8 1654.7,257zM1170.6,300.7 1167.5,298.1 1166.7,298.3 1165.2,295.8 1167.8,297.1 1167.7,297.9zM1597.9,378.7 1593.8,378.2 1593.2,378.8 1590.5,377.5 1593.4,377.2 1593.8,377.9zM1761.4,339.1 1757.3,339.2 1756.7,339.9 1753.8,339.1 1756.7,338.3 1757.3,338.9zM1184.5,425.3 1187.3,423 1187.2,422.2 1189.6,421.3 1188.2,423.5 1187.4,423.2zM1006.5,363.2 1010,361.8 1010.2,361 1012.9,360.9 1010.8,362.5 1010.1,362.1zM1054,434.9 1057,432 1056.9,431.1 1059.6,429.8 1058,432.3 1057.2,432.2zM1661,276.9 1661.1,272.6 1660.5,272 1661.4,269.1 1662.1,272.1 1661.4,272.6zM1815.2,286.1 1816.4,282.7 1816,282 1817.7,279.9 1817.5,282.6 1816.7,282.8zM1801.8,477.5 1798.1,477.5 1797.6,478.1 1795.1,477.2 1797.6,476.5 1798.1,477.2zM1636.3,422.3 1634.1,419.5 1633.3,419.5 1632.5,417 1634.6,418.5 1634.3,419.3zM1674.3,305.8 1672.6,302.7 1671.8,302.5 1671.4,300 1673.2,301.8 1672.8,302.5zM1748.1,409.3 1744.7,408.1 1744,408.6 1742,406.9 1744.6,407.1 1744.8,407.8zM1094,227.6 1091.6,224.2 1090.7,224.2 1089.8,221.3 1092.1,223.3 1091.8,224.1zM1793.8,346.9 1790.2,346.9 1789.7,347.5 1787.3,346.5 1789.8,345.9 1790.2,346.6zM1188,355.5 1192,354.4 1192.3,353.7 1195.3,353.8 1192.7,355.2 1192,354.7zM1867.1,307.8 1870.9,308 1871.5,307.4 1874.1,308.4 1871.3,309 1870.9,308.3zM1872.3,274.2 1875.9,272.9 1876.2,272.2 1878.9,272.1 1876.6,273.7 1876,273.2zM1246.1,260.1 1242.4,258.6 1241.7,259 1239.5,257.1 1242.3,257.5 1242.5,258.3zM1229.7,277.8 1228.9,274.3 1228.2,273.9 1228.6,271.4 1229.8,273.7 1229.2,274.2zM1694.1,256.2 1695.8,252.8 1695.4,252 1697.3,250.1 1696.8,252.8 1696,252.9zM1757.3,382.8 1753.7,383.2 1753.3,383.9 1750.8,383.3 1753.2,382.3 1753.7,382.9zM1637.9,290 1634.1,289.1 1633.5,289.6 1631.1,288.1 1633.9,288.1 1634.2,288.8zM1008.5,405.1 1012,402.9 1012.1,402 1014.9,401.3 1012.9,403.4 1012.1,403.1zM1030.4,348.2 1034.2,346.8 1034.4,346 1037.3,345.8 1035,347.5 1034.3,347.1zM1044.4,280.1 1041.3,278.3 1040.6,278.6 1038.9,276.6 1041.4,277.3 1041.5,278zM1821.9,228.5 1824.4,225.1 1824.3,224.3 1826.7,222.5 1825.5,225.3 1824.7,225.3zM986.3,304.5 982.1,303.6 981.4,304.1 978.7,302.6 981.8,302.6 982.2,303.3zM1701.3,442 1697,441.6 1696.3,442.2 1693.4,441 1696.5,440.6 1697,441.3zM1827.4,295.1 1831.2,297.3 1832,297.1 1834.1,299.4 1831.2,298.4 1831,297.6zM1669.2,227.7 1672.2,224.5 1672.2,223.7 1674.9,222.2 1673.3,224.8 1672.4,224.8zM1204.6,370.4 1207.7,368.4 1207.8,367.6 1210.4,367 1208.6,369 1207.8,368.7zM1808.5,410.6 1804.6,410.6 1804.1,411.3 1801.5,410.4 1804.2,409.7 1804.7,410.3zM1147.1,263.3 1144.4,260.6 1143.6,260.7 1142.5,258.2 1144.8,259.6 1144.7,260.4zM1110.8,244 1108,241.1 1107.2,241.2 1105.9,238.5 1108.4,240.1 1108.2,240.9zM1677.6,354.6 1673.3,354.2 1672.6,354.7 1669.8,353.6 1672.8,353.1 1673.3,353.9zM1800.2,341.9 1796.4,341.8 1795.9,342.4 1793.3,341.4 1796,340.8 1796.4,341.5zM1119,358.8 1122.4,357.6 1122.7,356.9 1125.3,357 1123.1,358.4 1122.5,357.9zM1706.2,410.4 1702.5,409.8 1701.9,410.3 1699.5,409 1702.2,408.7 1702.6,409.5zM1880.4,427.9 1876.2,427.7 1875.6,428.3 1872.7,427.2 1875.7,426.7 1876.2,427.4zM1812.6,292.7 1810.9,288.9 1810.1,288.6 1809.8,285.6 1811.6,288 1811.2,288.8zM1702.8,306 1699.3,307.1 1699,307.8 1696.4,307.7 1698.6,306.3 1699.2,306.8zM1198.3,265.4 1197.1,261.6 1196.3,261.2 1196.3,258.4 1197.8,260.8 1197.3,261.5zM1071.1,427.4 1074.5,425 1074.6,424.2 1077.5,423.3 1075.5,425.5 1074.7,425.3zM1746.8,249.8 1749.9,246.8 1749.9,246 1752.7,244.6 1751,247.2 1750.1,247.1zM1855.7,300.4 1859.8,301.1 1860.4,300.6 1863,301.9 1860.1,302.1 1859.7,301.4zM1118.6,422 1121.7,419.8 1121.8,419 1124.5,418.2 1122.6,420.3 1121.9,420zM1662.8,408.6 1658.6,409 1658.1,409.7 1655.1,409.2 1658,408.1 1658.6,408.7zM1733.2,404.4 1729,404.8 1728.6,405.5 1725.7,404.8 1728.5,403.9 1729,404.5zM1094.2,322.7 1096.3,319.2 1096.1,318.4 1098.3,316.5 1097.4,319.3 1096.6,319.4zM1638.9,360.2 1634.9,360.6 1634.4,361.2 1631.6,360.6 1634.3,359.6 1634.9,360.3zM1200.1,341.4 1204.2,340.9 1204.6,340.2 1207.6,340.7 1204.8,341.8 1204.2,341.2zM1161.9,235.8 1159,233.1 1158.2,233.2 1156.9,230.6 1159.4,232.1 1159.3,232.9zM1728.3,242.7 1730.9,239.8 1730.7,239 1733.2,237.7 1731.9,240.1 1731.1,240zM1777,260.8 1779.2,257.5 1779,256.7 1781.3,255 1780.3,257.7 1779.5,257.7zM1132.7,412 1136.3,409.9 1136.4,409.1 1139.3,408.5 1137.2,410.5 1136.4,410.2zM1695.2,342.9 1691.2,343.3 1690.7,344 1687.9,343.4 1690.6,342.4 1691.2,343zM1049.6,402.2 1052.8,400.2 1052.9,399.3 1055.6,398.7 1053.7,400.7 1053,400.4zM1666.3,357.4 1662.1,357.4 1661.5,358 1658.7,357.1 1661.6,356.4 1662.1,357.1zM1183.3,281.7 1182.3,278 1181.5,277.7 1181.7,274.9 1183.1,277.3 1182.6,277.9zM1083.7,407.3 1087,405.4 1087.1,404.6 1089.8,404.1 1087.9,406 1087.2,405.7zM1825.9,344.6 1822.3,344.7 1821.9,345.3 1819.4,344.5 1821.9,343.7 1822.3,344.4zM1361.8,319.4 1358.3,318.3 1357.6,318.7 1355.5,317.2 1358.1,317.2 1358.4,318zM1652.1,291.7 1652.4,287.3 1651.8,286.7 1652.9,283.8 1653.4,286.9 1652.7,287.3zM1138.8,428.5 1142.1,426.7 1142.3,425.9 1145,425.4 1143,427.3 1142.3,426.9zM1203.5,351 1207.4,349.4 1207.7,348.6 1210.7,348.3 1208.2,350.1 1207.5,349.7zM1156.4,392.7 1159.9,390.8 1160.1,390 1162.9,389.4 1160.8,391.4 1160.1,391zM1637.5,254.9 1633.5,253.4 1632.8,253.8 1630.4,251.9 1633.4,252.3 1633.6,253.1zM1084.6,386.1 1087.8,384 1087.9,383.2 1090.6,382.5 1088.7,384.6 1088,384.2zM1051.5,392.5 1055,390.2 1055.1,389.4 1058,388.5 1055.9,390.7 1055.1,390.4zM1812.3,399.4 1808.6,399.7 1808.1,400.3 1805.5,399.6 1808.1,398.7 1808.6,399.4zM1046.9,378.1 1050.3,376.3 1050.4,375.5 1053.2,375 1051.1,376.9 1050.4,376.5zM1795.6,238.1 1797.8,234.9 1797.5,234.2 1799.8,232.5 1798.8,235.1 1798,235.1zM1828.7,389.3 1825.1,388.8 1824.6,389.4 1822.2,388.2 1824.8,387.8 1825.2,388.5zM1722.7,426.3 1719,426.4 1718.5,427.1 1716,426.3 1718.5,425.5 1719,426.1zM1717.8,286.3 1721,283.9 1721.1,283.1 1723.8,282.1 1722,284.4 1721.2,284.1zM1136.8,470.6 1139.2,467.4 1139,466.6 1141.3,465.1 1140.2,467.7 1139.4,467.6zM1790.4,358 1786.4,357.7 1785.8,358.3 1783.2,357.2 1786,356.7 1786.5,357.4zM1812.2,356.8 1807.9,357 1807.4,357.7 1804.5,357 1807.4,356.1 1807.9,356.7zM1164.5,403.9 1167.3,401.7 1167.3,400.9 1169.8,400.1 1168.2,402.2 1167.5,401.9zM1068.8,360 1072.9,359 1073.3,358.2 1076.3,358.4 1073.6,359.8 1073,359.3zM1078.6,282.4 1076.7,278.6 1075.9,278.3 1075.4,275.3 1077.4,277.7 1077,278.5zM1725.1,386.8 1720.9,387.1 1720.4,387.8 1717.4,387.1 1720.3,386.2 1720.9,386.8zM1180.3,303.2 1182.7,300.2 1182.5,299.4 1184.8,297.9 1183.7,300.5 1182.9,300.4zM1804.6,314.1 1800.5,313.6 1799.8,314.1 1797.2,312.9 1800.1,312.6 1800.5,313.3zM1078.6,505.8 1080.6,502.4 1080.3,501.6 1082.4,499.7 1081.6,502.5 1080.8,502.5zM979.7,405 983,403.3 983.2,402.5 985.8,402.1 983.8,403.9 983.1,403.5zM1713.6,239.9 1715.8,236.7 1715.6,235.9 1717.9,234.2 1716.9,236.9 1716.1,236.9zM1698.6,371.2 1695.1,370.5 1694.5,371.1 1692.2,369.7 1694.8,369.5 1695.1,370.2zM1046.7,291.8 1042.5,291 1041.8,291.6 1039.2,290.2 1042.2,290 1042.6,290.8zM1872.6,392 1868.9,392.6 1868.5,393.3 1865.8,392.8 1868.3,391.7 1868.8,392.3zM1135.9,386.8 1139.4,384.7 1139.5,383.9 1142.4,383.3 1140.3,385.3 1139.5,385zM1700.6,357.4 1696.8,356.8 1696.1,357.3 1693.7,356 1696.5,355.8 1696.8,356.5zM1040,299.3 1035.6,299.5 1035.1,300.1 1032.1,299.4 1035.1,298.5 1035.6,299.2zM1266.8,462.8 1268.5,459.1 1268.1,458.4 1270.1,456.2 1269.6,459.1 1268.8,459.3zM1648.7,316.6 1648.7,313 1648.1,312.4 1649.1,310 1649.7,312.6 1649,313zM1102.9,306.5 1102.6,302.7 1102,302.3 1102.7,299.6 1103.6,302.2 1102.9,302.7zM992.5,368.5 995.9,367.3 996.2,366.5 998.8,366.5 996.7,368 996,367.5zM1706.6,373.2 1702.9,372.7 1702.3,373.2 1699.9,372 1702.6,371.7 1702.9,372.4zM1681.9,286.8 1681.3,282.5 1680.6,282 1681.2,278.9 1682.2,281.8 1681.6,282.5zM1801.9,271.8 1803.5,267.8 1803.1,267 1805.1,264.6 1804.6,267.6 1803.8,267.9zM1777.1,401.3 1772.8,401.1 1772.2,401.8 1769.4,400.8 1772.3,400.2 1772.8,400.8zM1171.6,281.8 1168.9,278.4 1168,278.4 1166.9,275.5 1169.3,277.4 1169.1,278.2zM1804.3,227.5 1806.7,224.6 1806.5,223.8 1808.9,222.3 1807.7,224.8 1806.9,224.8zM1788.3,268.4 1790,265 1789.6,264.3 1791.5,262.4 1791,265 1790.2,265.1zM1840.3,340.2 1836.5,340.4 1836,341 1833.3,340.2 1836,339.4 1836.5,340.1zM990.1,347.6 994,346.4 994.3,345.7 997.2,345.7 994.7,347.2 994,346.7zM1752.7,372 1748.7,372.1 1748.1,372.8 1745.3,372 1748.1,371.2 1748.7,371.8zM1642.7,339.3 1639.2,340.6 1639,341.4 1636.3,341.5 1638.5,339.9 1639.1,340.4zM1224.7,353.1 1228.8,351.7 1229.2,350.9 1232.3,350.9 1229.6,352.5 1228.9,352zM1135.4,352.5 1138.9,350.7 1139.1,349.9 1141.8,349.5 1139.7,351.3 1139,351zM1709.9,464.6 1705.8,463.7 1705.2,464.2 1702.6,462.7 1705.6,462.7 1705.9,463.4zM1158,305.4 1153.9,306.6 1153.5,307.3 1150.5,307.3 1153.1,305.8 1153.8,306.3zM1144.6,388.1 1148,386 1148.1,385.1 1150.9,384.4 1148.9,386.5 1148.2,386.2zM1757,363.1 1752.9,362.9 1752.3,363.5 1749.6,362.5 1752.5,361.9 1752.9,362.6zM1086.7,436.7 1089.3,434.3 1089.3,433.5 1091.7,432.6 1090.3,434.8 1089.5,434.5zM1139.6,304.7 1135.8,303.9 1135.2,304.4 1132.8,303 1135.6,302.8 1135.9,303.6zM1833.1,381.5 1829,381 1828.3,381.5 1825.7,380.2 1828.6,379.9 1829,380.7zM1046.1,315.6 1043.1,317.5 1043,318.3 1040.4,318.8 1042.2,316.9 1042.9,317.2zM1677.4,252 1678.9,248.3 1678.6,247.6 1680.5,245.4 1680,248.3 1679.2,248.4zM1127.6,375.2 1131.4,373.6 1131.6,372.8 1134.5,372.5 1132.2,374.3 1131.5,373.9zM1205.4,285.4 1205.3,281.1 1204.6,280.5 1205.4,277.5 1206.2,280.5 1205.6,281.1zM1107.9,389.1 1110.8,387 1110.9,386.2 1113.4,385.5 1111.7,387.6 1111,387.3zM1752.3,399.4 1748,399.2 1747.4,399.8 1744.5,398.7 1747.5,398.2 1748,398.9zM1804.7,296.8 1802.9,293.2 1802.1,293 1801.7,290.1 1803.6,292.3 1803.2,293.1zM1081.9,418.8 1085.1,416.8 1085.2,416 1087.9,415.4 1086,417.4 1085.3,417zM1096.9,244.7 1094,242 1093.2,242 1091.8,239.5 1094.3,240.9 1094.2,241.7zM1143.7,416.7 1147.2,414.6 1147.3,413.8 1150.2,413.2 1148.1,415.2 1147.3,414.9zM1730.7,256.7 1733.8,254 1733.8,253.1 1736.6,251.9 1734.9,254.4 1734,254.2zM1180.9,242.1 1178.6,238.8 1177.7,238.8 1176.9,236 1179.1,237.9 1178.8,238.7zM1213.9,259 1212.1,255.8 1211.3,255.7 1210.8,253.1 1212.7,255 1212.4,255.7zM1166.1,313.8 1166.2,317.5 1166.9,317.9 1166,320.5 1165.3,317.9 1165.9,317.5zM1012.3,371.9 1015.8,369.5 1015.9,368.7 1018.8,367.8 1016.7,370.1 1015.9,369.8zM1163.9,298.5 1159.9,297.3 1159.2,297.8 1156.8,296.1 1159.7,296.2 1160,297zM1779.7,343.2 1775.5,343.4 1775,344 1772,343.2 1775,342.4 1775.5,343.1zM1091.5,416 1094.7,413.3 1094.8,412.5 1097.6,411.3 1095.7,413.7 1094.9,413.6zM1098.9,386.7 1101.9,384.6 1102,383.8 1104.5,383.2 1102.8,385.2 1102.1,384.9zM1808.4,372.5 1804.6,372.4 1804.1,373 1801.5,372.1 1804.2,371.4 1804.6,372.1zM1122.3,312.1 1119.1,310 1118.4,310.3 1116.8,308.1 1119.3,309 1119.3,309.8zM1685.7,314.6 1682.1,312.8 1681.3,313.1 1679.3,311 1682.1,311.7 1682.2,312.5zM1859.8,354.7 1855.5,354.8 1854.9,355.4 1852,354.6 1855,353.8 1855.5,354.5zM1743.5,383.5 1739.4,383.5 1738.9,384.2 1736.1,383.3 1738.9,382.6 1739.4,383.2zM1046.6,452.5 1049.6,450.3 1049.7,449.5 1052.3,448.7 1050.6,450.8 1049.8,450.5zM1850.5,383.6 1846.7,383.1 1846.2,383.7 1843.7,382.5 1846.4,382.1 1846.8,382.8zM1561.3,373.3 1557.4,374.9 1557.2,375.6 1554.2,375.9 1556.6,374.1 1557.3,374.6zM1875.7,301 1880,300.2 1880.5,299.5 1883.6,299.9 1880.7,301.1 1880.1,300.5zM1808.7,380.8 1805,380.7 1804.5,381.3 1801.9,380.4 1804.5,379.7 1805,380.4zM1843.7,300.3 1846.9,302.1 1847.7,301.8 1849.5,303.8 1846.8,303.2 1846.8,302.4zM1814.8,423.7 1811.1,423.7 1810.6,424.3 1808.1,423.4 1810.7,422.7 1811.1,423.4zM1852.5,350.3 1848.9,349.9 1848.3,350.5 1846,349.3 1848.5,348.9 1848.9,349.6zM1815.1,304.1 1811.2,305.6 1811,306.4 1808,306.5 1810.4,304.9 1811.1,305.3zM1771.9,378.1 1767.6,377.5 1767,378 1764.2,376.7 1767.3,376.4 1767.7,377.2zM1169.8,305.8 1173.3,307.7 1174,307.4 1176,309.5 1173.2,308.8 1173.1,308zM1678.5,369.7 1674.5,369.1 1673.9,369.6 1671.4,368.3 1674.2,368.1 1674.6,368.8zM1148.5,356.4 1151.9,355.2 1152.2,354.5 1154.8,354.5 1152.7,356 1152,355.5zM1202.3,245.9 1200.5,242.1 1199.7,241.9 1199.2,238.9 1201.1,241.2 1200.8,242zM1218.1,347.4 1222.1,345.8 1222.4,345 1225.5,344.8 1223,346.5 1222.2,346.1zM1722.2,415.3 1718.1,415.4 1717.5,416 1714.7,415.2 1717.5,414.4 1718.1,415.1zM1128.5,269.6 1126.6,266.4 1125.8,266.3 1125.3,263.7 1127.2,265.5 1126.9,266.3zM1023.9,407.7 1027.1,405.6 1027.2,404.8 1029.8,404.2 1028,406.2 1027.2,405.9zM1822.9,299.3 1821.1,303 1821.4,303.8 1819.4,305.9 1820,303.1 1820.8,302.9zM1167.8,261.3 1165.2,258.6 1164.4,258.7 1163.3,256.3 1165.6,257.6 1165.4,258.4zM1022.6,342.9 1026.7,342.5 1027.2,341.8 1030.1,342.5 1027.3,343.4 1026.7,342.8zM1651.8,363.4 1647.5,363.4 1647,364 1644,363.1 1647,362.4 1647.5,363.1zM1731,376.1 1726.7,376.1 1726.1,376.7 1723.1,375.8 1726.2,375.1 1726.7,375.8zM1731.8,301.3 1735.5,301.5 1736,300.8 1738.5,301.8 1735.9,302.4 1735.5,301.7zM1746.7,357.9 1742.9,357.3 1742.4,357.8 1740,356.5 1742.7,356.2 1743,357zM1070.3,450.7 1073.2,448 1073.1,447.2 1075.7,446 1074.2,448.4 1073.4,448.3zM1168.4,395.2 1171.2,392.5 1171.2,391.7 1173.8,390.5 1172.2,392.9 1171.4,392.7zM1050.5,287 1047.1,285.3 1046.3,285.7 1044.4,283.7 1047.1,284.2 1047.2,285zM1789.4,395.9 1785.7,395 1785.1,395.5 1782.8,393.9 1785.5,393.9 1785.8,394.7zM1018.6,362.9 1022.1,361 1022.3,360.2 1025,359.8 1023,361.7 1022.2,361.3zM1217.6,358.5 1221.4,356.5 1221.6,355.7 1224.7,355.2 1222.3,357.2 1221.5,356.8zM1863.8,294.2 1867.7,294.1 1868.2,293.5 1870.9,294.3 1868.2,295.1 1867.7,294.4zM1016.4,401.6 1020,400.1 1020.3,399.4 1023.2,399.2 1020.8,400.9 1020.1,400.4zM1763.9,248.1 1766.5,245.2 1766.4,244.4 1768.8,243.1 1767.5,245.5 1766.7,245.4zM1020.6,419.3 1023.3,416.7 1023.2,415.9 1025.6,414.7 1024.3,417.1 1023.5,416.9zM1217.1,445.8 1220.2,442.9 1220.1,442.1 1222.9,440.7 1221.2,443.3 1220.4,443.1zM1004.2,291.4 1000.5,290 999.7,290.4 997.5,288.6 1000.4,288.9 1000.6,289.7zM1011.9,424.3 1014.9,421.8 1014.9,421 1017.5,420 1015.9,422.2 1015.1,422zM1144.4,318.3 1140.9,319.3 1140.7,320.1 1138.1,319.9 1140.3,318.5 1140.9,319zM1440.6,283.1 1436.9,282.9 1436.4,283.5 1433.9,282.5 1436.5,281.9 1436.9,282.6zM1438.3,508 1437.8,504.2 1437.1,503.7 1437.7,501 1438.7,503.6 1438.1,504.1zM1698.6,243.5 1700.4,240.2 1700,239.5 1702,237.6 1701.4,240.3 1700.6,240.3zM1084.2,315.6 1086.9,312.7 1086.9,311.9 1089.4,310.6 1088,313.1 1087.2,313zM1840.3,412.5 1836.4,412.3 1835.8,412.8 1833.3,411.7 1836,411.3 1836.5,412zM1003.7,345.8 1007.5,345 1007.9,344.3 1010.6,344.7 1008.1,345.9 1007.5,345.3zM1146.2,289.7 1142.8,287.4 1142,287.6 1140.1,285.3 1142.9,286.3 1143,287.2zM1186.5,368.3 1190.1,367.5 1190.5,366.8 1193.1,367.1 1190.7,368.3 1190.2,367.8zM1615.5,414.3 1613.1,410.7 1612.3,410.6 1611.3,407.6 1613.6,409.7 1613.4,410.6zM1813.5,368.1 1809.2,367.7 1808.5,368.3 1805.6,367.2 1808.7,366.7 1809.2,367.4zM1074.2,411.3 1077.2,409 1077.2,408.2 1079.8,407.2 1078.1,409.4 1077.4,409.2zM1741,337.5 1737.3,337.3 1736.8,337.9 1734.4,336.9 1737,336.3 1737.4,337zM1211.4,381.3 1214.8,379.7 1215,378.9 1217.7,378.6 1215.6,380.4 1215,380zM1191,307.5 1193,303.6 1192.7,302.8 1194.9,300.6 1194.1,303.6 1193.3,303.8zM1070.3,291.3 1068,288.1 1067.1,288 1066.3,285.3 1068.5,287.1 1068.2,287.9zM1152.4,423.9 1155.4,421.4 1155.4,420.6 1158,419.7 1156.4,421.9 1155.6,421.7zM995.3,251.6 991.9,249.1 991,249.3 989.2,246.9 992,248 992,248.8zM1857.6,377.8 1853.4,377.5 1852.8,378.1 1850,377.1 1852.9,376.5 1853.4,377.2zM1567.2,225 1563.4,225.3 1562.9,226 1560.3,225.3 1562.9,224.4 1563.4,225zM1844,258.1 1847.5,255.9 1847.7,255.1 1850.6,254.3 1848.5,256.5 1847.7,256.2zM1101.2,363.4 1104.8,362.4 1105.1,361.7 1107.8,361.8 1105.5,363.2 1104.8,362.7zM1335.8,508.8 1337.7,505.7 1337.4,504.9 1339.4,503.3 1338.7,505.8 1337.9,505.8zM1183.3,297.9 1184.2,294.1 1183.7,293.5 1185.1,291.1 1185.2,293.9 1184.5,294.2zM1733.6,364 1729.5,363.9 1728.9,364.5 1726.1,363.5 1729,362.9 1729.5,363.6zM1677.4,377.8 1673.1,377.9 1672.6,378.6 1669.6,377.8 1672.6,377 1673.1,377.6zM1844.4,291.6 1848.1,291.3 1848.5,290.6 1851.1,291.3 1848.6,292.2 1848.1,291.6zM1038.2,414 1041.5,411.4 1041.5,410.6 1044.3,409.6 1042.5,411.9 1041.7,411.7zM1683.2,276.7 1683.6,272.7 1683,272.1 1684.2,269.6 1684.6,272.4 1683.9,272.8zM1086.3,252.9 1083.9,249.3 1083.1,249.2 1082.2,246.2 1084.4,248.4 1084.1,249.2zM1220,404.4 1223.3,402 1223.3,401.1 1226.1,400.2 1224.2,402.5 1223.4,402.2zM1758.3,376.2 1754.7,376.1 1754.2,376.7 1751.8,375.7 1754.4,375.1 1754.8,375.8zM998.7,440.1 1001.7,437.5 1001.6,436.7 1004.2,435.7 1002.6,438 1001.9,437.8zM1195.6,319.1 1198.8,316.1 1198.7,315.2 1201.5,313.9 1199.8,316.4 1199,316.3zM1105.5,381.3 1109.4,379.5 1109.6,378.7 1112.7,378.2 1110.3,380.1 1109.5,379.8zM1655.7,353.6 1651.5,353.6 1650.9,354.2 1648,353.2 1651,352.6 1651.5,353.3zM1713.1,357.8 1709.5,357.3 1708.9,357.9 1706.5,356.7 1709.2,356.3 1709.5,357zM1764.2,353 1760.2,351.8 1759.5,352.2 1757.1,350.6 1760.1,350.7 1760.3,351.5zM1030.6,317.9 1026.7,319.2 1026.3,320 1023.4,319.9 1025.9,318.4 1026.6,318.9zM1861.4,371.6 1857.7,371.1 1857.2,371.6 1854.8,370.4 1857.4,370.1 1857.8,370.8zM1240,294.5 1239.4,291 1238.7,290.6 1239.1,288.1 1240.3,290.4 1239.7,290.9zM1164,355.7 1167.7,354.8 1168,354 1170.8,354.2 1168.4,355.6 1167.7,355.1zM1106.3,421.7 1109.6,419.2 1109.7,418.3 1112.5,417.3 1110.6,419.6 1109.8,419.4zM1814.2,257.7 1816.9,254.6 1816.8,253.8 1819.4,252.3 1818,254.9 1817.2,254.8zM1130.4,343.3 1134.3,342.2 1134.6,341.5 1137.5,341.6 1135,343 1134.3,342.5zM1829,283.8 1832.9,282.2 1833.2,281.4 1836.2,281.2 1833.7,282.9 1833,282.5zM1141.2,360.6 1144.7,359.3 1145,358.5 1147.7,358.5 1145.5,360.1 1144.8,359.6zM1062.9,302.5 1058.8,301.8 1058.1,302.4 1055.5,301 1058.5,300.8 1058.9,301.5zM1072,392.3 1075.4,390.5 1075.5,389.7 1078.2,389.3 1076.2,391.1 1075.5,390.8zM1220.1,384.3 1223.4,382.7 1223.6,382 1226.2,381.7 1224.2,383.4 1223.5,383zM1735.9,346.8 1731.9,346.7 1731.3,347.3 1728.6,346.4 1731.4,345.7 1731.9,346.4zM1871.3,365.4 1867.4,365.3 1866.8,365.9 1864.2,365 1866.9,364.3 1867.4,365zM1723.8,357.3 1719.8,357.6 1719.3,358.2 1716.5,357.5 1719.2,356.6 1719.8,357.3zM1238.2,311.6 1237.3,307.7 1236.6,307.3 1236.8,304.4 1238.1,307 1237.6,307.6zM1062.4,304.1 1064.9,306.7 1065.7,306.7 1066.7,309 1064.5,307.7 1064.7,306.9zM1830.7,302.4 1833.5,305.5 1834.3,305.5 1835.6,308.2 1833.1,306.5 1833.3,305.7zM1655,391.4 1651.1,391.7 1650.6,392.4 1647.8,391.7 1650.5,390.8 1651,391.4zM1165.9,363 1169.9,361.4 1170.1,360.6 1173.2,360.3 1170.7,362.1 1170,361.7zM1813.1,247.8 1816.2,245 1816.2,244.1 1819,242.9 1817.3,245.3 1816.4,245.2zM1144,381.9 1147.8,379.9 1148,379 1151.1,378.4 1148.7,380.5 1147.9,380.1zM1064,365.9 1067.8,364.5 1068.2,363.8 1071.1,363.7 1068.6,365.3 1067.9,364.8zM1724.7,276.2 1728,274.6 1728.1,273.8 1730.8,273.4 1728.8,275.2 1728.1,274.8zM1724.7,268.1 1728,265.6 1728,264.8 1730.8,263.7 1728.9,266 1728.1,265.8zM1633.8,374.5 1630.1,372.5 1629.3,372.8 1627.3,370.6 1630.1,371.4 1630.3,372.2zM1101.9,270.4 1099.6,267 1098.8,266.9 1098,264 1100.2,266.1 1099.9,266.8zM1756.7,305.6 1760,303.7 1760.1,302.9 1762.8,302.4 1760.9,304.4 1760.1,304zM1120.8,258.1 1118.1,254.6 1117.2,254.5 1116.1,251.6 1118.5,253.6 1118.3,254.4zM1864.6,343.3 1860.6,343.6 1860.2,344.2 1857.4,343.5 1860.1,342.6 1860.6,343.3zM1674.7,279.4 1674.8,275 1674.2,274.4 1675.1,271.5 1675.8,274.5 1675.1,275zM1818.7,281.1 1821.1,277.4 1820.9,276.6 1823.2,274.5 1822.2,277.5 1821.3,277.6zM1733.4,391.7 1729.2,392.3 1728.7,393 1725.7,392.6 1728.5,391.4 1729.2,392zM1880.5,347.6 1876.5,347.6 1876,348.3 1873.3,347.4 1876.1,346.7 1876.5,347.3zM1697.7,424.8 1693.5,424.6 1692.9,425.2 1690,424.1 1693,423.6 1693.5,424.3zM1719.6,291.3 1723.5,290.7 1724,290 1726.8,290.5 1724.1,291.6 1723.6,291zM1760.8,225.5 1763.5,223.1 1763.4,222.3 1765.9,221.3 1764.4,223.5 1763.7,223.3zM1001.6,373.4 1005.3,371.6 1005.5,370.8 1008.4,370.4 1006.1,372.3 1005.4,371.9zM1142.5,350.7 1146.1,349.6 1146.3,348.8 1149,348.9 1146.8,350.4 1146.1,349.9zM1218.8,372.5 1222.7,371.3 1223,370.5 1226,370.5 1223.4,372.1 1222.8,371.6zM1882.7,500.2 1878.4,500.8 1878,501.5 1874.9,501 1877.8,499.9 1878.4,500.5zM1157.8,415.1 1161.1,412.7 1161.2,411.9 1164,411 1162.1,413.2 1161.3,413zM1819.4,346.6 1815.2,346.2 1814.6,346.8 1811.7,345.7 1814.8,345.2 1815.2,345.9zM1770.2,348 1766.2,348.3 1765.7,349 1763,348.3 1765.7,347.4 1766.2,348zM986.4,376.1 990,373.8 990.2,373 993.1,372.1 991,374.3 990.2,374.1zM1184,307.8 1187,305.7 1187.1,304.9 1189.6,304.2 1187.9,306.2 1187.2,306zM1780.4,390 1776.2,389.9 1775.6,390.6 1772.7,389.7 1775.7,389 1776.2,389.6zM1742.1,270.5 1745.1,268.4 1745.2,267.6 1747.8,266.9 1746,268.9 1745.3,268.7zM1825.4,278 1828.3,274.9 1828.2,274 1830.8,272.4 1829.4,275.1 1828.5,275.1zM1043.1,512.9 1045.1,509.2 1044.8,508.4 1046.9,506.3 1046.2,509.2 1045.3,509.3zM1127.2,401.8 1130.4,399.7 1130.5,398.9 1133.2,398.1 1131.3,400.2 1130.6,399.9zM1754.8,346.7 1750.7,346.4 1750.1,347 1747.4,345.8 1750.3,345.4 1750.7,346.1zM1700.3,296.2 1697.9,293.3 1697.1,293.3 1696.1,290.7 1698.4,292.3 1698.1,293.1zM1001.4,317.7 997.4,316.9 996.7,317.4 994.2,315.9 997.1,315.8 997.5,316.6zM1201,416.3 1203.8,414 1203.8,413.2 1206.2,412.4 1204.7,414.5 1204,414.3zM1091.3,274.6 1090.2,271.1 1089.5,270.8 1089.6,268.2 1091,270.4 1090.5,271zM1835,280.7 1838.7,279.6 1839.1,278.8 1841.9,278.9 1839.5,280.3 1838.8,279.8zM1720.6,252.8 1723.1,249.8 1723,249 1725.4,247.6 1724.2,250.1 1723.4,250zM980.4,343.3 984,342.3 984.3,341.5 987,341.7 984.7,343.1 984,342.6zM1444.6,371.2 1447.5,373.5 1448.3,373.3 1449.7,375.5 1447.2,374.5 1447.3,373.7zM1175.1,388.8 1178,386.5 1178,385.7 1180.6,384.9 1179,387 1178.2,386.8zM1691.3,308.3 1687.4,307 1686.7,307.4 1684.4,305.6 1687.3,305.9 1687.5,306.7zM1708.5,301.9 1705.6,304.7 1705.6,305.6 1703,306.8 1704.5,304.4 1705.4,304.5zM1684.6,241 1687.5,238 1687.4,237.1 1689.9,235.7 1688.5,238.3 1687.7,238.2zM1876,287.8 1880.1,286.6 1880.5,285.8 1883.6,285.9 1880.9,287.4 1880.2,286.9zM1718.7,279.8 1721.9,277.7 1721.9,276.9 1724.6,276.2 1722.8,278.3 1722,277.9zM1073.2,311.5 1077.3,310 1077.6,309.2 1080.7,309 1078.1,310.7 1077.4,310.3zM1154.6,362.5 1158.5,361.1 1158.9,360.3 1161.9,360.2 1159.3,361.8 1158.6,361.4zM1017.4,318.5 1013.4,318.5 1012.8,319.1 1010,318.2 1012.9,317.5 1013.4,318.2zM1701,364.9 1697.2,364.6 1696.6,365.1 1694.1,364 1696.8,363.6 1697.2,364.3zM1170.4,413.9 1174.2,412 1174.4,411.2 1177.4,410.7 1175.1,412.6 1174.3,412.3zM1046.7,365.3 1050.5,364.1 1050.8,363.3 1053.7,363.3 1051.2,364.8 1050.6,364.3zM1847.3,342.5 1843.3,342 1842.7,342.6 1840.1,341.3 1843,341 1843.4,341.7zM1818.9,296.6 1816.5,293.6 1815.7,293.6 1814.8,291 1817,292.6 1816.8,293.4zM1737.4,278.4 1740.8,276.8 1741,276 1743.7,275.7 1741.6,277.5 1740.9,277zM1233.5,344.7 1237.1,343.4 1237.4,342.6 1240.2,342.6 1237.9,344.2 1237.2,343.7zM1160.9,279.5 1158,277.1 1157.2,277.3 1155.9,274.9 1158.3,276.1 1158.2,276.9zM1680.7,385 1676.9,384.9 1676.4,385.5 1673.8,384.5 1676.5,383.9 1676.9,384.6zM1154.6,250.2 1152.6,246.3 1151.7,246.1 1151.1,243 1153.2,245.4 1152.8,246.2zM1842.9,279.8 1846.9,278.9 1847.3,278.1 1850.2,278.4 1847.6,279.7 1846.9,279.2zM1799.7,403.7 1795.6,403.7 1795,404.4 1792.2,403.5 1795.1,402.8 1795.6,403.4zM1731.1,309.2 1734.6,311.3 1735.4,311.1 1737.2,313.3 1734.5,312.4 1734.4,311.6zM1832.6,238.6 1835.3,236 1835.2,235.2 1837.7,234 1836.3,236.3 1835.5,236.2zM1189.7,288.3 1189.4,284.2 1188.8,283.7 1189.5,280.9 1190.4,283.7 1189.7,284.2zM1048.5,372.8 1052,371.3 1052.2,370.5 1054.9,370.3 1052.8,372 1052.1,371.6zM1120.2,368.4 1124.3,367.2 1124.7,366.4 1127.8,366.5 1125.1,368 1124.4,367.5zM1661.3,380.2 1657.1,380.1 1656.5,380.7 1653.7,379.7 1656.6,379.1 1657.1,379.8zM1784.7,366.4 1780.7,365.5 1780.1,366 1777.5,364.5 1780.5,364.4 1780.8,365.2zM1125.9,281 1123.4,278.2 1122.6,278.3 1121.6,275.8 1123.8,277.2 1123.6,278zM1769.8,358.6 1766.2,358.2 1765.7,358.8 1763.4,357.6 1765.9,357.2 1766.3,357.9zM1174.2,297 1172.4,293.3 1171.5,293 1171.1,290.1 1173,292.4 1172.6,293.1zM1880.6,412.7 1876.9,411.8 1876.3,412.3 1874,410.8 1876.7,410.8 1877,411.5zM1150.6,398.9 1154.1,396.9 1154.3,396.1 1157.2,395.6 1155,397.6 1154.3,397.2zM1173.8,357.1 1177.6,355.9 1177.9,355.1 1180.7,355.2 1178.3,356.7 1177.7,356.2zM1789.6,374.7 1785.8,374.2 1785.2,374.8 1782.7,373.6 1785.5,373.2 1785.8,373.9zM1024.5,288.2 1020.6,286.8 1019.8,287.2 1017.5,285.4 1020.4,285.8 1020.7,286.6zM1546.7,316.4 1542.3,316.3 1541.7,316.9 1538.8,315.9 1541.8,315.3 1542.3,316zM1065.6,417.8 1068.8,414.9 1068.8,414.1 1071.6,412.8 1069.8,415.3 1069,415.1zM1818.5,373.8 1814.1,374.3 1813.6,374.9 1810.5,374.4 1813.5,373.4 1814.1,374zM1065.1,291.3 1061.6,288.7 1060.7,288.9 1058.8,286.4 1061.7,287.6 1061.8,288.5zM1723.6,404.3 1719.3,403.8 1718.7,404.4 1715.8,403.2 1718.9,402.8 1719.3,403.5zM1134.6,363.1 1138.8,361.9 1139.2,361.2 1142.3,361.2 1139.6,362.7 1138.9,362.2zM1706.5,362.9 1702.7,361.7 1702,362.2 1699.8,360.6 1702.6,360.7 1702.8,361.5zM1206.9,273 1205.5,269.1 1204.7,268.8 1204.6,265.9 1206.2,268.4 1205.8,269.1zM1665.5,262.5 1666.2,258.5 1665.7,257.9 1667.1,255.3 1667.3,258.2 1666.5,258.6zM1872.1,447.4 1868.3,447.3 1867.8,447.9 1865.3,446.9 1867.9,446.3 1868.4,447zM1209.4,405.6 1212.5,403.7 1212.5,402.9 1215.1,402.5 1213.3,404.3 1212.6,404zM1038.5,361.5 1042.4,360.1 1042.7,359.3 1045.8,359.2 1043.2,360.8 1042.5,360.4zM1717.9,346.7 1713.8,346.8 1713.3,347.4 1710.5,346.5 1713.3,345.8 1713.8,346.5zM1836.2,297.6 1839.5,299.1 1840.2,298.7 1842.1,300.5 1839.5,300.1 1839.4,299.3zM1847.1,365.8 1842.9,366 1842.4,366.7 1839.4,365.9 1842.3,365.1 1842.9,365.7zM1840.6,387.9 1836.2,387.9 1835.7,388.5 1832.7,387.7 1835.7,386.9 1836.3,387.6zM1066.3,299.5 1063.5,296.4 1062.6,296.4 1061.3,293.6 1063.8,295.4 1063.7,296.2zM1188.4,391.8 1192.2,390.1 1192.4,389.3 1195.4,388.9 1193,390.7 1192.3,390.3zM1064.7,388.2 1068.4,386.6 1068.6,385.8 1071.5,385.6 1069.2,387.3 1068.5,386.9zM1199,309.3 1200.9,306.1 1200.6,305.4 1202.6,303.7 1201.9,306.2 1201.1,306.3zM1754.6,273.6 1757.5,270.5 1757.4,269.6 1760,268.1 1758.5,270.8 1757.7,270.7zM1151.8,281.8 1148.8,279.5 1148,279.7 1146.5,277.4 1149,278.5 1149,279.3zM1236.6,393.3 1240.2,391.4 1240.4,390.6 1243.3,390.1 1241.1,392 1240.4,391.7zM1226.5,368.8 1230.5,367.3 1230.8,366.5 1233.9,366.3 1231.3,368 1230.6,367.6zM1696.3,278.8 1696.4,275.1 1695.8,274.6 1696.7,272.1 1697.4,274.7 1696.7,275.1zM1062.3,407.1 1066.3,405.4 1066.5,404.6 1069.6,404.3 1067.1,406.1 1066.4,405.7zM1664,394.2 1659.9,394.1 1659.4,394.7 1656.7,393.7 1659.5,393.1 1660,393.8zM1174.2,402.3 1177.9,400.4 1178.1,399.5 1181.1,399.1 1178.8,401 1178.1,400.6zM1036.6,277.4 1032.8,275.3 1031.9,275.6 1029.7,273.3 1032.8,274.2 1032.9,275zM1745.3,364.1 1741.1,364.1 1740.5,364.8 1737.7,363.9 1740.6,363.2 1741.1,363.8zM1595.2,468 1592,465.4 1591.2,465.5 1589.6,463 1592.3,464.3 1592.2,465.2zM1795.1,300 1793.7,295.9 1792.9,295.6 1792.8,292.5 1794.4,295.1 1794,295.8zM1668.7,384.8 1664.8,384.3 1664.2,384.9 1661.6,383.6 1664.4,383.3 1664.8,384zM1655.6,342.9 1651.3,342.6 1650.7,343.2 1647.9,342.2 1650.9,341.6 1651.4,342.3zM1698.3,300 1695.1,298.1 1694.3,298.3 1692.6,296.2 1695.2,297 1695.2,297.8zM1040.8,267.3 1037.5,265.1 1036.7,265.3 1035,263.1 1037.7,264 1037.7,264.9zM1116.6,342.4 1120.3,342.1 1120.7,341.4 1123.3,342.1 1120.8,343 1120.3,342.4zM1182.4,315.4 1186.4,314.3 1186.8,313.5 1189.7,313.7 1187.1,315.1 1186.5,314.6zM1091.7,295.7 1091.4,291.9 1090.7,291.5 1091.4,288.8 1092.3,291.4 1091.7,291.9zM1103.9,255.9 1102,252.6 1101.2,252.5 1100.7,249.8 1102.6,251.8 1102.3,252.5zM1820.2,298.9 1816,298.2 1815.4,298.8 1812.7,297.4 1815.7,297.2 1816.1,297.9zM1789.8,383.4 1786.2,383.1 1785.7,383.7 1783.3,382.6 1785.9,382.1 1786.3,382.8zM1709.3,270.7 1712,267.5 1711.9,266.7 1714.4,265.1 1713.1,267.7 1712.2,267.7zM1821.3,410.9 1817.2,410.6 1816.6,411.2 1813.9,410 1816.8,409.6 1817.2,410.3zM1170.5,250 1168.2,247 1167.4,246.9 1166.5,244.3 1168.7,246 1168.4,246.8zM1735.5,292.1 1739.6,292 1740.1,291.3 1742.9,292.1 1740.1,292.9 1739.6,292.3zM1739,413.2 1735.2,412.6 1734.6,413.1 1732.2,411.8 1734.9,411.6 1735.3,412.3zM1143.7,506 1145.7,502.7 1145.4,502 1147.6,500.2 1146.7,502.8 1145.9,502.9zM1728.2,295.2 1732.3,295.2 1732.8,294.5 1735.6,295.5 1732.7,296.1 1732.3,295.5zM1841.6,374.5 1837.9,374 1837.3,374.5 1834.8,373.3 1837.5,373 1837.9,373.7zM1197.9,291.7 1197.9,287.4 1197.3,286.8 1198.1,283.9 1198.9,286.9 1198.2,287.4zM1035.6,373.1 1038.9,371.5 1039,370.7 1041.6,370.4 1039.7,372.1 1039,371.7zM1642.8,300.4 1643.9,296.9 1643.4,296.2 1645,294.1 1644.9,296.7 1644.2,297zM1730.9,338 1726.9,337.5 1726.3,338.1 1723.6,336.9 1726.5,336.5 1726.9,337.2zM1192.4,364.6 1196,363 1196.3,362.2 1199.1,362 1196.9,363.7 1196.2,363.3zM1168,288 1165.1,284.7 1164.3,284.7 1163,281.9 1165.5,283.7 1165.4,284.6zM1021.3,382.3 1025.1,380.4 1025.4,379.6 1028.4,379.1 1026,381.1 1025.3,380.7zM1734.1,382.7 1730.1,382.6 1729.5,383.2 1726.8,382.2 1729.6,381.6 1730.1,382.3zM1693.4,386.6 1689.9,387.5 1689.6,388.2 1687,387.9 1689.3,386.6 1689.9,387.2zM1683.2,263.8 1684.5,259.8 1684.1,259.1 1685.8,256.7 1685.6,259.7 1684.8,259.9zM1034.4,431.2 1037.6,429 1037.6,428.2 1040.3,427.4 1038.5,429.5 1037.7,429.2zM1724.4,442.4 1720.2,442.4 1719.6,443 1716.8,442.1 1719.7,441.4 1720.2,442.1zM1838.5,286.5 1842,285.3 1842.3,284.5 1845,284.5 1842.7,286 1842.1,285.5zM1060.8,304.8 1057.4,306.7 1057.2,307.5 1054.4,308.1 1056.5,306.1 1057.2,306.5zM1800.1,373.6 1796.3,373.6 1795.8,374.2 1793.2,373.2 1795.9,372.6 1796.3,373.3zM1745.7,349 1742.1,348.5 1741.5,349 1739.1,347.8 1741.8,347.5 1742.1,348.2zM1082.1,398.8 1085.5,397.1 1085.7,396.3 1088.4,396 1086.4,397.8 1085.6,397.4zM1061.9,305.9 1060.8,310.1 1061.3,310.8 1059.7,313.5 1059.8,310.4 1060.5,310zM1713.8,289.8 1717.2,288.2 1717.3,287.4 1720,287.1 1718,288.9 1717.3,288.5zM1070.1,298 1069.6,294.4 1068.9,294 1069.4,291.4 1070.5,293.8 1069.9,294.3zM1011.1,266.7 1007.8,264.1 1007,264.2 1005.2,261.7 1008,263 1008,263.9zM1171.4,378.5 1174.6,376.7 1174.7,375.9 1177.4,375.4 1175.5,377.3 1174.8,376.9zM1807.5,282.2 1808.4,278.1 1807.9,277.5 1809.4,274.9 1809.4,277.8 1808.7,278.2zM1860.9,246.9 1864.7,244.9 1864.9,244.1 1867.9,243.5 1865.6,245.5 1864.8,245.2zM1695.2,223.5 1697.7,219.9 1697.5,219.1 1699.9,217.1 1698.7,220 1697.9,220.1zM1847.3,403.5 1843,403.7 1842.4,404.3 1839.4,403.5 1842.4,402.7 1843,403.4zM1841.7,346.1 1838,346.4 1837.5,347 1834.9,346.3 1837.5,345.4 1838,346.1zM1671.8,290.6 1670.7,287 1670,286.7 1670.1,284 1671.5,286.3 1671,287zM1684.1,415.3 1679.9,415.3 1679.3,415.9 1676.5,415 1679.4,414.3 1679.9,415zM1820.6,305.8 1819.8,309.8 1820.3,310.5 1818.8,313 1818.7,310.1 1819.5,309.7zM1154.9,352.6 1158.6,351.9 1159,351.2 1161.7,351.6 1159.2,352.8 1158.7,352.2zM1746.4,373.2 1742.1,373 1741.5,373.6 1738.7,372.6 1741.7,372 1742.2,372.7zM1822.3,359.5 1818.1,358.6 1817.4,359.1 1814.7,357.6 1817.7,357.5 1818.1,358.3zM1773.1,273.7 1774.8,270.2 1774.5,269.4 1776.5,267.4 1775.9,270.2 1775.1,270.3zM1641.5,392.4 1637.2,391.9 1636.6,392.4 1633.8,391.2 1636.8,390.8 1637.2,391.6zM1186.2,224.2 1184,221.3 1183.2,221.3 1182.4,218.8 1184.5,220.4 1184.2,221.2zM1791.4,412.9 1787.4,411.7 1786.7,412.2 1784.2,410.5 1787.2,410.7 1787.5,411.4zM1150.2,367.6 1154.1,366.5 1154.4,365.8 1157.3,365.9 1154.8,367.3 1154.2,366.8zM1838.2,362.7 1834.2,362.7 1833.6,363.3 1830.9,362.4 1833.7,361.7 1834.2,362.4zM1193.8,380.6 1197.2,379.1 1197.3,378.3 1200,378.1 1198,379.8 1197.3,379.3zM1836.9,226.7 1839.9,224 1839.8,223.2 1842.4,222 1840.9,224.4 1840,224.2zM1344,286.8 1339.8,286.5 1339.2,287.1 1336.5,286 1339.4,285.5 1339.9,286.2zM1829,336.3 1825.2,336.8 1824.8,337.5 1822.1,336.9 1824.6,335.9 1825.2,336.5zM1855.7,342.8 1851.7,342.5 1851.1,343.1 1848.5,342 1851.3,341.5 1851.8,342.2zM1042.8,382.4 1046.4,380.7 1046.6,379.9 1049.4,379.6 1047.2,381.4 1046.5,381zM1116,302.8 1113.2,299.4 1112.3,299.4 1111.1,296.5 1113.6,298.4 1113.4,299.2zM1089.5,359.2 1093.2,358.3 1093.5,357.5 1096.3,357.8 1093.9,359.1 1093.3,358.6zM1823.2,311.2 1823.1,315.4 1823.7,316 1822.7,318.9 1822.1,315.9 1822.8,315.4zM1826.5,377.1 1822.2,376.9 1821.6,377.5 1818.7,376.5 1821.8,375.9 1822.3,376.6zM1154.5,346.2 1158.4,345.2 1158.8,344.5 1161.7,344.7 1159.1,346.1 1158.5,345.5zM986.1,362.9 989.4,361.6 989.7,360.8 992.3,360.8 990.2,362.4 989.5,361.9zM1748.5,235 1751.5,232 1751.5,231.2 1754.2,229.8 1752.6,232.4 1751.7,232.2zM1139.6,444.1 1142.6,441.3 1142.6,440.5 1145.2,439.2 1143.6,441.7 1142.8,441.5zM1740.2,368.1 1735.9,368.5 1735.4,369.1 1732.4,368.5 1735.3,367.5 1735.9,368.2zM1162.2,343.4 1165.6,341.7 1165.7,340.9 1168.4,340.5 1166.4,342.3 1165.7,342zM1045.9,307.3 1041.8,308.6 1041.4,309.4 1038.4,309.3 1041,307.8 1041.7,308.3zM1084.6,265.6 1082.7,261.8 1081.9,261.5 1081.4,258.5 1083.4,260.9 1083,261.6zM1038.6,403.5 1042.2,401.4 1042.4,400.5 1045.3,399.8 1043.2,401.9 1042.4,401.6zM1754.7,291.5 1757.9,289.9 1758.1,289.1 1760.7,288.9 1758.7,290.6 1758,290.2zM1068.4,382.6 1071.4,380.2 1071.3,379.4 1073.9,378.5 1072.3,380.7 1071.5,380.5zM1871.9,383.8 1867.8,383.6 1867.2,384.2 1864.4,383.2 1867.3,382.6 1867.8,383.3zM1154.7,311 1151.3,312.5 1151.1,313.3 1148.5,313.4 1150.6,311.8 1151.2,312.2zM1188.7,312.7 1191.4,310.2 1191.3,309.4 1193.7,308.4 1192.3,310.7 1191.6,310.5zM1180.1,408.7 1183.8,406.6 1184,405.8 1186.9,405.2 1184.7,407.2 1183.9,406.9zM1493.1,261.5 1489,261.7 1488.5,262.3 1485.7,261.6 1488.5,260.7 1489,261.4zM1769.5,385.1 1765.2,385.3 1764.6,386 1761.7,385.2 1764.6,384.4 1765.2,385zM986.7,426.8 990,424.9 990.1,424.1 992.8,423.5 990.9,425.4 990.1,425.1zM1812.1,300.8 1808.2,300 1807.5,300.5 1805.1,299 1807.9,298.9 1808.3,299.7zM988.4,384.1 991.7,382.4 991.9,381.6 994.5,381.3 992.5,383.1 991.8,382.7zM1784.6,246.8 1786.9,243.3 1786.7,242.5 1789.1,240.7 1788,243.5 1787.2,243.5zM1181.7,256.6 1179.6,253.7 1178.9,253.6 1178.2,251.1 1180.2,252.8 1179.9,253.5zM1612.9,282.8 1609.4,282.1 1608.8,282.6 1606.5,281.2 1609.1,281 1609.4,281.8zM1713.6,310.4 1714.5,314.4 1715.2,314.8 1715,317.7 1713.6,315.1 1714.2,314.4zM1857.2,404 1853.3,404.1 1852.7,404.7 1850.1,403.9 1852.8,403.1 1853.3,403.8zM1049,225.2 1045.6,222.5 1044.8,222.6 1043.1,220.1 1045.9,221.4 1045.8,222.2zM1019.5,391.5 1023,389.1 1023.1,388.3 1025.9,387.4 1023.9,389.6 1023.1,389.4zM1681.5,394.9 1677.6,395 1677.1,395.6 1674.4,394.7 1677.1,394 1677.6,394.7zM1177.2,293 1175.3,289.1 1174.4,288.9 1173.9,285.8 1175.9,288.2 1175.5,289zM1780.2,282.2 1781.1,278.6 1780.6,278 1782,275.7 1782.1,278.4 1781.4,278.7zM1083,354.3 1087.3,353.5 1087.7,352.7 1090.8,353.1 1088,354.3 1087.3,353.8zM1789.8,315.9 1788.5,312.3 1787.7,312 1787.7,309.2 1789.2,311.5 1788.8,312.2zM1851.4,287 1855.3,286.2 1855.6,285.5 1858.4,285.8 1855.9,287.1 1855.3,286.5zM1846.2,311.5 1849.3,313.7 1850.1,313.5 1851.7,315.7 1849.1,314.7 1849.1,313.9zM999.3,388.3 1003.2,387.4 1003.6,386.7 1006.5,387 1003.9,388.3 1003.3,387.7zM1710,297.5 1709.6,301.3 1710.2,301.9 1709,304.4 1708.6,301.7 1709.3,301.3zM1008.8,378.6 1013,377.3 1013.4,376.6 1016.5,376.5 1013.8,378.1 1013.1,377.6zM1111,282.4 1108.5,279.1 1107.7,279.1 1106.7,276.3 1109,278.2 1108.8,279zM1052.7,306.3 1048.6,307.7 1048.2,308.5 1045.1,308.5 1047.8,306.9 1048.5,307.4zM1699,311.6 1696,313.7 1695.9,314.5 1693.3,315.2 1695,313.2 1695.8,313.5zM1078.1,289.4 1076.9,286 1076.2,285.8 1076.2,283.2 1077.7,285.3 1077.2,285.9zM1875.9,337.5 1871.9,337.4 1871.4,338 1868.6,337 1871.5,336.4 1871.9,337.1zM1740.2,376.5 1736.4,376.9 1735.9,377.6 1733.2,376.9 1735.8,376 1736.3,376.6zM1052.7,313.5 1049.4,315.2 1049.2,316 1046.5,316.3 1048.6,314.5 1049.3,314.9zM1816.5,382 1812.5,382.2 1812,382.9 1809.2,382.1 1812,381.3 1812.5,381.9zM1681.3,298.1 1680.1,294.7 1679.3,294.4 1679.4,291.8 1680.9,294 1680.4,294.6zM1771.4,366.7 1767.1,367.1 1766.6,367.8 1763.6,367.1 1766.5,366.2 1767.1,366.8zM1746.6,309.2 1751,309.5 1751.6,308.9 1754.5,310 1751.4,310.5 1750.9,309.8zM1157.1,369.7 1160.8,367.6 1161,366.8 1164,366.2 1161.7,368.2 1160.9,367.9zM1046.2,299.8 1042,299.4 1041.4,299.9 1038.6,298.8 1041.6,298.3 1042.1,299.1zM1174.2,367.6 1177.9,366 1178.1,365.2 1181,365 1178.7,366.7 1178,366.3zM1079.1,299.2 1079.1,294.9 1078.4,294.3 1079.3,291.3 1080,294.4 1079.4,294.9zM1084.7,374.7 1088.8,373.3 1089.2,372.5 1092.3,372.4 1089.6,374 1088.9,373.5zM1025.1,374.4 1029.3,373.2 1029.6,372.5 1032.7,372.5 1030,374 1029.3,373.5zM1091.9,351.6 1095.1,350 1095.3,349.2 1097.9,348.8 1095.9,350.6 1095.2,350.2zM1225,288.8 1224.7,284.6 1224,284.1 1224.7,281.2 1225.6,284.1 1225,284.6zM1806.1,346.7 1801.8,346.2 1801.1,346.7 1798.3,345.5 1801.4,345.2 1801.8,345.9zM1088.4,283.8 1087.1,280.4 1086.4,280.1 1086.3,277.4 1087.9,279.6 1087.4,280.3zM1068.1,345.7 1072.4,345.2 1072.9,344.6 1075.9,345.1 1073,346.2 1072.4,345.5zM1862.6,363 1858.7,362.4 1858.1,362.9 1855.5,361.6 1858.4,361.3 1858.7,362.1zM1073.5,315.7 1077.4,316 1077.9,315.5 1080.5,316.6 1077.7,317.1 1077.3,316.3zM1714.4,303.9 1716.5,307.3 1717.4,307.4 1718,310.1 1716,308.2 1716.3,307.4zM1790.5,339.4 1786.8,338.9 1786.2,339.4 1783.8,338.2 1786.5,337.8 1786.9,338.6zM1226.1,391.9 1229.9,389.6 1230.1,388.8 1233.1,388 1230.9,390.2 1230,389.9zM1706.3,398.3 1702.2,398.1 1701.6,398.7 1698.8,397.7 1701.7,397.1 1702.2,397.8zM1821.9,401.5 1817.7,401.6 1817.2,402.3 1814.4,401.5 1817.2,400.7 1817.7,401.3zM1145.2,344.7 1149.4,343.5 1149.8,342.8 1152.8,342.9 1150.1,344.3 1149.5,343.8zM1214.5,309.6 1215.3,305.4 1214.8,304.7 1216.3,302 1216.4,305.1 1215.6,305.5zM1190,342.3 1193.8,341.7 1194.2,341 1196.8,341.5 1194.3,342.6 1193.8,342zM1718.9,361.3 1714.7,361.3 1714.2,361.9 1711.3,361 1714.2,360.3 1714.7,361zM1135.4,379.6 1139,378 1139.3,377.2 1142.1,377 1139.9,378.7 1139.2,378.3zM1717.3,397.7 1713.2,397 1712.6,397.6 1709.9,396.2 1712.9,396 1713.3,396.7zM1647.2,351.7 1643.4,351.4 1642.8,352 1640.3,350.9 1643,350.4 1643.4,351.1zM1090.2,303.8 1090.7,299.6 1090.1,298.9 1091.3,296.1 1091.7,299.2 1091,299.6zM1725.9,370.6 1721.8,370.1 1721.2,370.7 1718.5,369.5 1721.5,369.1 1721.9,369.8zM1718.6,339.6 1714.5,339.7 1714,340.3 1711.2,339.5 1714,338.7 1714.5,339.4zM1850.2,276.4 1853.5,274.3 1853.6,273.5 1856.3,272.9 1854.4,274.9 1853.6,274.6zM1829.9,265.2 1832.3,262.3 1832.1,261.5 1834.4,260.1 1833.3,262.6 1832.5,262.5zM1099.8,296.7 1099.1,292.5 1098.3,292.1 1098.7,289 1099.9,291.9 1099.4,292.5zM1844.9,246.7 1847.8,244.5 1847.7,243.7 1850.2,242.9 1848.7,245 1847.9,244.7zM1170.4,310.9 1172.3,314.4 1173.1,314.6 1173.5,317.5 1171.6,315.3 1172,314.6zM1173.4,301.6 1172.4,298 1171.6,297.7 1171.8,295.1 1173.2,297.3 1172.7,297.9zM1145,364.2 1148.7,362.9 1149.1,362.1 1151.9,362.1 1149.5,363.7 1148.8,363.2zM1229.9,301.4 1229.6,297.2 1228.9,296.7 1229.6,293.8 1230.5,296.7 1229.9,297.2zM1158.3,316.4 1156.3,319.3 1156.5,320.1 1154.4,321.6 1155.2,319.1 1156,319.2zM1718.5,369.5 1714.8,369.7 1714.4,370.4 1711.8,369.6 1714.3,368.8 1714.8,369.4zM1101.2,345.3 1104.6,344 1104.9,343.3 1107.6,343.3 1105.4,344.8 1104.7,344.3zM997.3,352.9 1001,351.8 1001.3,351.1 1004,351.2 1001.7,352.6 1001.1,352.1zM1174.2,317 1178,319.1 1178.8,318.8 1181,321 1178,320.2 1177.9,319.4zM1073.9,269.8 1071.6,266.6 1070.8,266.6 1070,263.9 1072.2,265.7 1071.9,266.5zM1670.1,369.9 1666.3,370 1665.8,370.7 1663.3,369.8 1665.9,369.1 1666.3,369.7zM1234.1,374.4 1237.7,372.5 1237.9,371.7 1240.8,371.2 1238.6,373.2 1237.9,372.8zM1808.4,307.8 1804.8,306.8 1804.2,307.3 1802,305.8 1804.7,305.8 1804.9,306.5zM1138.3,398.4 1141.7,395.6 1141.7,394.7 1144.6,393.5 1142.7,396 1141.8,395.8zM1712.9,283.7 1715.6,281.2 1715.5,280.4 1718,279.4 1716.6,281.6 1715.8,281.4zM1039.1,313.3 1035.1,314.7 1034.8,315.5 1031.7,315.5 1034.3,313.9 1035,314.4zM1860,258.5 1863.6,256.5 1863.8,255.7 1866.6,255.2 1864.5,257.2 1863.7,256.8zM1040.4,250.1 1037.2,248.4 1036.5,248.7 1034.7,246.8 1037.3,247.3 1037.3,248.1zM1160.9,291.7 1157.1,290.3 1156.4,290.8 1154.2,289 1157,289.3 1157.2,290.1zM1787,302.6 1786.3,299 1785.6,298.6 1786.1,296 1787.2,298.4 1786.6,299zM1751.5,511 1747.7,510.5 1747.1,511 1744.7,509.8 1747.4,509.5 1747.8,510.2zM1043,369.9 1046.5,368.5 1046.8,367.7 1049.5,367.5 1047.3,369.2 1046.6,368.7zM1830.7,423 1826.9,422.2 1826.2,422.7 1823.8,421.2 1826.6,421.1 1826.9,421.9zM1852.6,373.5 1848.7,373.1 1848.1,373.6 1845.5,372.5 1848.3,372.1 1848.7,372.8zM1813.3,311.7 1810.6,314.1 1810.6,314.9 1808.1,315.9 1809.6,313.7 1810.4,313.9zM1696.6,266.7 1698.5,262.8 1698.2,262 1700.3,259.7 1699.6,262.7 1698.8,262.9zM998.9,405.2 1002.1,403.3 1002.2,402.5 1004.9,402 1003,403.9 1002.3,403.6zM1707.3,288 1710.1,284.8 1710,284 1712.6,282.4 1711.2,285.1 1710.3,285zM1666.7,342.2 1663,342.5 1662.6,343.2 1660,342.5 1662.5,341.6 1663,342.2zM1196.7,301.9 1198.9,298.2 1198.6,297.4 1200.9,295.4 1200,298.3 1199.1,298.4zM1179.8,286.9 1178,283.3 1177.2,283.1 1176.7,280.2 1178.6,282.4 1178.3,283.2zM1074.4,370.4 1078.2,368.8 1078.5,368 1081.4,367.8 1079,369.5 1078.3,369.1zM1172.5,302.8 1168.7,301.9 1168.1,302.3 1165.7,300.8 1168.5,300.8 1168.8,301.6zM1054.1,268.3 1051.7,265.1 1050.9,265.1 1050,262.3 1052.2,264.2 1052,264.9zM1698.1,289.7 1698.1,285.7 1697.5,285.2 1698.4,282.4 1699.1,285.2 1698.4,285.7zM1177.7,380.3 1181.8,378.6 1182,377.8 1185.2,377.5 1182.6,379.3 1181.9,378.9zM1840.9,354.2 1837,355 1836.6,355.8 1833.8,355.4 1836.4,354.2 1837,354.7zM1724,300.9 1727.2,302.8 1728,302.5 1729.7,304.6 1727.1,303.9 1727,303.1zM1715.4,297.9 1719,299.7 1719.7,299.4 1721.7,301.5 1718.9,300.8 1718.8,300zM1137.3,369.4 1141,367.6 1141.2,366.8 1144.2,366.3 1141.9,368.2 1141.1,367.9zM1718.5,311.4 1721,315.1 1721.8,315.2 1722.8,318.1 1720.5,316 1720.7,315.2zM1253.7,222.2 1250.2,221.2 1249.6,221.7 1247.5,220.1 1250.1,220.1 1250.3,220.9zM1674.6,361.9 1670.8,361.5 1670.2,362 1667.7,360.8 1670.4,360.4 1670.8,361.2zM1689.1,378 1684.8,377.7 1684.2,378.3 1681.4,377.2 1684.4,376.7 1684.9,377.4zM1698.6,377.7 1694.3,377.2 1693.7,377.7 1690.9,376.5 1693.9,376.2 1694.4,376.9zM980,490.6 982.1,487.3 981.9,486.5 984.1,484.8 983.2,487.5 982.4,487.5zM1808.3,364.1 1803.9,364 1803.4,364.6 1800.4,363.7 1803.4,363 1804,363.7zM1031.7,386.9 1035.4,384.6 1035.5,383.7 1038.5,382.9 1036.3,385.1 1035.5,384.8zM1099.7,353.2 1103.2,352.2 1103.4,351.4 1106.1,351.6 1103.8,353 1103.2,352.5zM1834.4,355.8 1830.3,356 1829.8,356.6 1827,355.8 1829.8,355 1830.3,355.7zM1111.9,368.5 1115.8,366.7 1116,365.9 1119.1,365.5 1116.6,367.4 1115.9,367zM1057.8,395.7 1061.6,394.3 1061.9,393.6 1064.8,393.5 1062.4,395.1 1061.7,394.6zM1881.9,367.2 1877.8,366.8 1877.2,367.3 1874.6,366.1 1877.5,365.8 1877.9,366.5zM1620.3,348.6 1616.6,349.2 1616.2,350 1613.5,349.5 1616,348.4 1616.5,348.9zM1091.2,390.5 1094.1,388.3 1094.1,387.5 1096.7,386.7 1095.1,388.8 1094.3,388.5zM1823,367 1819.2,366.9 1818.7,367.5 1816.1,366.5 1818.8,365.9 1819.3,366.6zM1745.3,288.6 1749.1,287.3 1749.4,286.6 1752.4,286.6 1749.9,288.1 1749.2,287.6zM1820.4,295.6 1820.3,292 1819.7,291.5 1820.5,289 1821.3,291.6 1820.6,292zM1866.6,409.7 1862.6,409.5 1862,410.1 1859.3,409.1 1862.1,408.5 1862.6,409.2zM1175.9,307.1 1179.1,304.6 1179.2,303.7 1181.9,302.7 1180.1,305 1179.3,304.8zM1824.6,287 1827.8,285 1827.9,284.2 1830.5,283.6 1828.7,285.6 1827.9,285.3zM1823.6,293.9 1827.2,292.9 1827.6,292.2 1830.3,292.3 1827.9,293.7 1827.3,293.2zM1061.7,361.2 1065.6,359.3 1065.8,358.5 1068.8,358 1066.4,360 1065.7,359.6zM1196.5,390.1 1200.1,388.3 1200.3,387.5 1203.3,387.1 1201,388.9 1200.3,388.6zM1010.5,308.2 1006.7,307.3 1006,307.8 1003.6,306.3 1006.5,306.3 1006.8,307zM1686.7,367.4 1682.4,367.7 1681.9,368.4 1678.9,367.7 1681.8,366.8 1682.4,367.4zM1108.7,319.1 1107.3,315.8 1106.6,315.6 1106.4,313 1108.1,315 1107.6,315.7zM1028.8,357.6 1032.5,356.2 1032.8,355.4 1035.6,355.2 1033.3,356.9 1032.6,356.4zM1860.6,426.1 1857,426.3 1856.6,427 1854.1,426.3 1856.6,425.4 1857,426zM1149.2,297 1145.4,296.2 1144.8,296.7 1142.4,295.3 1145.2,295.1 1145.5,295.9zM1234.2,410.3 1237.3,407.4 1237.2,406.5 1239.9,405.2 1238.3,407.7 1237.5,407.6zM1057.5,423.8 1060.8,422 1061,421.2 1063.7,420.8 1061.7,422.7 1061,422.3zM1109.1,360.6 1113,359.1 1113.3,358.3 1116.2,358.2 1113.8,359.8 1113.1,359.4zM1818.2,389.9 1814.5,389.3 1813.9,389.8 1811.5,388.5 1814.2,388.2 1814.6,389zM1057.4,346.3 1060.6,344.5 1060.8,343.7 1063.4,343.3 1061.5,345.2 1060.8,344.8zM1163.4,304.5 1160,305.8 1159.8,306.6 1157.2,306.6 1159.3,305.1 1159.9,305.5zM1704.7,350.5 1700.7,350.4 1700.1,351 1697.4,350 1700.2,349.4 1700.7,350.1zM985.9,276.2 982.6,274.4 981.8,274.7 980,272.7 982.6,273.3 982.7,274.1zM1059.9,370.3 1063.8,368.6 1064.1,367.8 1067.1,367.4 1064.7,369.3 1063.9,368.9zM1729,360.4 1725.1,360 1724.6,360.5 1722,359.3 1724.8,359 1725.2,359.7zM1107.5,411.1 1111,408.7 1111.2,407.8 1114.1,407 1112,409.2 1111.2,408.9zM1065.5,264.5 1063.2,261.4 1062.3,261.4 1061.5,258.8 1063.7,260.5 1063.4,261.3zM1751.1,352.8 1747,353 1746.5,353.7 1743.7,352.9 1746.5,352.1 1747,352.7zM1238.5,246.6 1237.1,242.7 1236.3,242.4 1236.2,239.4 1237.8,241.9 1237.4,242.6zM1661.3,371.1 1657.6,370.8 1657,371.4 1654.5,370.4 1657.2,369.8 1657.6,370.5zM1876.2,313.6 1879.9,313.4 1880.4,312.7 1882.9,313.5 1880.4,314.3 1879.9,313.7zM1827.1,353.6 1823.3,353.9 1822.9,354.6 1820.2,353.8 1822.8,353 1823.3,353.6zM1777.5,371.9 1773.5,372.2 1773,372.8 1770.2,372.1 1773,371.2 1773.5,371.9zM1161,349.6 1164.6,348.8 1164.9,348.1 1167.6,348.4 1165.2,349.7 1164.6,349.1zM1055.6,300.3 1051.3,300.2 1050.7,300.9 1047.8,299.9 1050.8,299.3 1051.3,299.9zM1675,314.2 1672.7,311.2 1671.9,311.1 1671.1,308.5 1673.2,310.2 1672.9,311zM1130.4,304 1126.2,302.8 1125.5,303.3 1122.9,301.6 1126,301.8 1126.3,302.6zM1058.5,308.5 1056.6,311.9 1056.9,312.7 1054.7,314.6 1055.5,311.8 1056.3,311.8zM1117.3,271.9 1114.9,269.1 1114.1,269.1 1113.2,266.6 1115.4,268.1 1115.2,268.9zM1171.6,274.4 1170.2,270.9 1169.4,270.7 1169.3,268 1170.9,270.2 1170.4,270.8zM1872.6,358 1868.8,358 1868.2,358.6 1865.7,357.7 1868.3,357 1868.8,357.7zM1156.2,296.2 1152.6,295.8 1152,296.4 1149.6,295.2 1152.3,294.8 1152.6,295.5zM979.1,393.1 982.6,391.7 982.8,390.9 985.5,390.8 983.3,392.4 982.7,392zM1809.4,267.4 1811.1,263.5 1810.8,262.7 1812.8,260.4 1812.2,263.4 1811.4,263.6zM1728.8,346.6 1724.9,346.3 1724.3,346.9 1721.7,345.8 1724.5,345.3 1724.9,346zM1857.4,366.3 1853.2,366.3 1852.6,366.9 1849.8,366 1852.7,365.3 1853.2,366zM1795.6,276.4 1796.5,272.7 1795.9,272.1 1797.4,269.8 1797.5,272.5 1796.7,272.8zM1834.1,290 1837.9,289.9 1838.4,289.3 1841,290.1 1838.4,290.9 1837.9,290.2zM1868.4,375.6 1864.4,376.4 1864,377.1 1861.1,376.7 1863.8,375.5 1864.4,376.1zM1142.9,403.4 1146.2,401.8 1146.4,401.1 1149.1,400.8 1147,402.5 1146.4,402.1zM1027.3,399.9 1031.2,398.1 1031.5,397.3 1034.5,397 1032.1,398.8 1031.3,398.4zM1797.6,353.6 1793.5,353 1792.9,353.5 1790.2,352.1 1793.2,351.9 1793.6,352.7zM979.3,448.8 982.5,446.2 982.5,445.4 985.3,444.3 983.5,446.7 982.7,446.5zM1826.4,305.3 1828.4,308.6 1829.2,308.7 1829.8,311.4 1827.8,309.5 1828.1,308.7zM1815.8,361.5 1811.8,361.7 1811.3,362.3 1808.5,361.6 1811.3,360.7 1811.8,361.4zM1053,368.8 1057.3,367.9 1057.7,367.1 1060.8,367.4 1058,368.7 1057.3,368.2zM1152.7,376.2 1156,374.2 1156.1,373.4 1158.9,372.8 1156.9,374.8 1156.1,374.5zM1823.8,295.1 1823.5,299.2 1824,299.8 1822.9,302.6 1822.5,299.6 1823.2,299.2zM1170.4,372.2 1174.2,370.5 1174.4,369.7 1177.3,369.3 1175,371.1 1174.3,370.7zM1207.5,393.5 1210.9,390.7 1211,389.9 1213.8,388.7 1211.9,391.1 1211.1,391zM1747.4,279.6 1750.8,277.8 1751,277 1753.8,276.6 1751.7,278.4 1751,278.1zM1797.3,362.6 1792.9,362.5 1792.3,363.1 1789.4,362.1 1792.4,361.5 1792.9,362.2zM1160.9,386.4 1164.5,385 1164.7,384.3 1167.5,384.2 1165.2,385.8 1164.6,385.3zM1009.2,389.6 1013,387.3 1013.2,386.5 1016.3,385.7 1014,387.9 1013.2,387.6zM1695.9,360.7 1691.7,361 1691.2,361.7 1688.3,361 1691.1,360.1 1691.7,360.7zM1127.6,384.1 1131.4,382.2 1131.6,381.3 1134.6,380.8 1132.3,382.8 1131.5,382.4zM1132.8,313.7 1128.8,313.1 1128.1,313.7 1125.5,312.4 1128.4,312.1 1128.8,312.8zM1741.3,299.3 1744.8,298.2 1745,297.5 1747.7,297.6 1745.4,299 1744.8,298.5zM1727.7,353.1 1723.8,352.8 1723.2,353.4 1720.6,352.2 1723.4,351.8 1723.8,352.5zM1636.2,274.4 1632.5,273.7 1631.9,274.2 1629.5,272.7 1632.3,272.6 1632.6,273.4zM1740.9,360 1736.8,359.8 1736.2,360.4 1733.4,359.4 1736.3,358.8 1736.8,359.5zM1690.2,272.8 1691.2,269.3 1690.8,268.7 1692.3,266.6 1692.3,269.2 1691.5,269.4zM1843.6,360.6 1839.9,360.1 1839.3,360.7 1836.9,359.5 1839.6,359.1 1839.9,359.8zM1872,346.7 1867.9,346.6 1867.4,347.3 1864.6,346.3 1867.5,345.7 1868,346.3zM1782.1,355.2 1778,355.7 1777.6,356.4 1774.7,355.9 1777.4,354.8 1778,355.4zM1762.3,367.4 1758.1,366.9 1757.5,367.5 1754.7,366.3 1757.7,365.9 1758.1,366.6zM1031.5,378.7 1034.9,376.8 1035.1,376 1037.8,375.5 1035.8,377.4 1035,377.1zM1166.5,308.7 1164.8,311.9 1165.2,312.6 1163.2,314.4 1163.8,311.9 1164.6,311.8zM1205.3,302.8 1206.9,298.8 1206.6,298.1 1208.5,295.7 1208,298.7 1207.2,299zM1662.5,289 1662.2,285 1661.5,284.5 1662.2,281.6 1663.1,284.4 1662.5,285zM1168.9,302.8 1165.2,303.8 1164.9,304.6 1162.2,304.4 1164.5,303 1165.2,303.5zM1089.3,401.3 1093,399.5 1093.3,398.6 1096.2,398.2 1093.9,400.1 1093.2,399.7zM1852.4,357.6 1848.5,357.5 1848,358.1 1845.3,357.2 1848.1,356.5 1848.5,357.2zM1753.1,338.3 1749,338.4 1748.5,339.1 1745.6,338.3 1748.5,337.5 1749,338.1zM1817.7,291.8 1817.6,287.8 1816.9,287.3 1817.8,284.5 1818.5,287.3 1817.9,287.8zM1683.8,342.6 1679.6,342.5 1679,343.1 1676.1,342.1 1679.1,341.5 1679.6,342.2zM1071.7,285.2 1069.9,281.2 1069.1,280.9 1068.7,277.8 1070.6,280.3 1070.2,281.1zM1121.8,410.7 1125.1,408.7 1125.2,407.9 1127.9,407.3 1126,409.3 1125.2,408.9zM1202.4,381 1206.3,379.2 1206.6,378.4 1209.6,378 1207.2,379.9 1206.4,379.5zM1187.6,300.8 1189.4,297 1189.1,296.2 1191.2,294 1190.5,297 1189.7,297.1zM1018.2,438.6 1021.1,435.4 1021,434.5 1023.7,432.9 1022.2,435.7 1021.3,435.6zM1140.4,376.1 1144.1,374.4 1144.3,373.6 1147.2,373.4 1144.9,375.1 1144.2,374.7zM1107.1,373.6 1110.6,371.8 1110.7,371 1113.5,370.5 1111.4,372.4 1110.7,372zM1830.7,367.2 1826.8,367 1826.2,367.6 1823.6,366.6 1826.3,366 1826.8,366.7zM1672.8,394.1 1669,393.7 1668.4,394.3 1665.8,393.2 1668.6,392.7 1669,393.4zM1738,308.6 1742.2,309.2 1742.9,308.7 1745.6,309.9 1742.6,310.2 1742.2,309.5zM1880.1,357.1 1876.1,356.7 1875.5,357.3 1872.9,356.1 1875.7,355.7 1876.2,356.4zM1061.1,312.2 1060.4,316.3 1060.9,316.9 1059.5,319.6 1059.3,316.6 1060.1,316.2zM1042,344.3 1045.5,343.5 1045.8,342.8 1048.4,343 1046.1,344.3 1045.5,343.8zM1076,362.1 1079.7,360.4 1079.9,359.6 1082.8,359.3 1080.5,361.1 1079.8,360.7zM1032.7,309.2 1028.6,309.7 1028.1,310.4 1025.2,309.8 1028,308.8 1028.6,309.4zM1250.8,347.8 1254.3,349.5 1255,349.1 1257,351.1 1254.3,350.5 1254.1,349.7zM1188,374.9 1191.4,373.7 1191.7,373 1194.3,373 1192.1,374.5 1191.5,374zM1077.5,343.3 1081.1,342.5 1081.4,341.7 1084.1,342 1081.7,343.3 1081.2,342.8zM1136.5,279.8 1133.7,276.7 1132.8,276.7 1131.6,274 1134.1,275.7 1133.9,276.5zM1211.3,366.5 1214.9,364.6 1215.1,363.8 1218,363.4 1215.8,365.3 1215.1,364.9zM1732.4,355.8 1728.1,355.6 1727.5,356.2 1724.5,355.2 1727.6,354.6 1728.1,355.3zM1042.3,391.4 1046,389.6 1046.2,388.7 1049.1,388.3 1046.8,390.2 1046.1,389.8zM1054.9,374.3 1058.7,372.9 1059,372.1 1061.9,372 1059.5,373.6 1058.8,373.2zM1696.3,350.8 1692.3,350.7 1691.8,351.4 1689,350.5 1691.8,349.8 1692.3,350.4zM1082.1,368.3 1086.3,367.1 1086.7,366.3 1089.8,366.3 1087.1,367.8 1086.4,367.4zM1883.2,380.6 1879.3,380.1 1878.7,380.7 1876.1,379.4 1879,379.1 1879.3,379.8zM1879.4,387.2 1875.7,387.2 1875.2,387.8 1872.7,386.9 1875.3,386.2 1875.7,386.9zM1084,469.8 1086.5,466.3 1086.4,465.5 1088.8,463.6 1087.6,466.5 1086.8,466.5zM1845.4,351 1841.3,351.1 1840.7,351.7 1837.9,350.9 1840.7,350.1 1841.3,350.8zM1708.7,281.5 1710.4,278.1 1710.1,277.3 1712.1,275.4 1711.5,278.1 1710.7,278.2zM1691.9,356.4 1687.5,356.2 1686.9,356.8 1684,355.8 1687,355.2 1687.6,355.9zM1151,407.6 1154.2,405.4 1154.3,404.6 1157,403.9 1155.1,406 1154.4,405.7zM1588.4,511.4 1585.7,507.9 1584.9,507.8 1583.7,504.9 1586.1,506.9 1585.9,507.7zM1012.8,357.1 1016.9,355.8 1017.2,355 1020.3,355 1017.6,356.6 1016.9,356.1zM1032.2,421.2 1035.2,419.1 1035.2,418.3 1037.8,417.6 1036.1,419.6 1035.3,419.3zM1713.5,293.5 1717.3,294.3 1718,293.8 1720.4,295.2 1717.6,295.3 1717.3,294.6zM1808.4,390.6 1804.6,390.3 1804,390.9 1801.5,389.8 1804.2,389.3 1804.6,390zM1773.7,337.8 1769.7,336.6 1769,337.1 1766.5,335.4 1769.5,335.6 1769.8,336.4zM1074.9,304.1 1076.2,300.5 1075.8,299.8 1077.6,297.6 1077.3,300.4 1076.5,300.6zM1024.8,367.2 1028.3,366 1028.5,365.2 1031.2,365.3 1029,366.8 1028.4,366.3zM1715,405.2 1710.8,405.1 1710.2,405.8 1707.3,404.8 1710.3,404.2 1710.8,404.8zM1816.5,352.9 1812.5,352.6 1811.9,353.2 1809.3,352.1 1812.1,351.6 1812.5,352.3zM1714.3,275.2 1717.2,272.7 1717.1,271.9 1719.6,271 1718.1,273.2 1717.4,273zM1510.4,431.9 1508.3,428.8 1507.5,428.7 1506.8,426.1 1508.8,427.9 1508.5,428.6zM1725.9,365.1 1721.8,364.7 1721.2,365.2 1718.6,364 1721.5,363.6 1721.9,364.4zM1830.9,410.4 1826.8,410.5 1826.3,411.1 1823.5,410.3 1826.3,409.5 1826.8,410.2zM1048.5,385.3 1052.1,383.8 1052.3,383 1055.1,382.8 1052.9,384.5 1052.2,384.1zM1724.3,283.8 1728.2,282.3 1728.5,281.5 1731.6,281.3 1729.1,283 1728.3,282.6zM1073.6,294.6 1073.2,290.8 1072.5,290.3 1073.2,287.6 1074.1,290.2 1073.5,290.7zM1062,383.3 1065.3,380.8 1065.3,380 1068.1,378.9 1066.3,381.3 1065.4,381zM1114.1,375.5 1118,374.1 1118.3,373.3 1121.2,373.2 1118.7,374.8 1118.1,374.4zM1177.5,298.8 1177.4,294.4 1176.7,293.9 1177.5,290.8 1178.3,293.8 1177.7,294.4zM1687.4,292.8 1685.9,289.2 1685.2,289 1685,286.2 1686.7,288.5 1686.2,289.1zM1706.4,312.2 1704.3,315.9 1704.6,316.6 1702.5,318.7 1703.3,315.8 1704.1,315.7zM1082.4,274.7 1081.1,270.9 1080.4,270.6 1080.3,267.8 1081.9,270.2 1081.4,270.8zM1120.3,292.5 1117.5,289.5 1116.7,289.6 1115.5,286.9 1117.9,288.5 1117.8,289.3zM1708.4,294.2 1712.4,294.9 1713.1,294.4 1715.7,295.7 1712.8,295.9 1712.4,295.2zM1711.1,304 1710.9,308.2 1711.5,308.8 1710.4,311.6 1709.9,308.6 1710.6,308.2zM1018.5,369.3 1021.8,367.6 1022,366.8 1024.6,366.5 1022.6,368.3 1021.9,367.9zM1688.5,283.1 1688.4,279.1 1687.8,278.6 1688.7,275.8 1689.4,278.6 1688.7,279.1zM1169.6,224 1166.8,220.7 1166,220.7 1164.8,217.8 1167.2,219.7 1167.1,220.5zM1047.5,360.4 1051.6,359 1051.9,358.3 1055,358.2 1052.4,359.8 1051.7,359.3zM1167.4,386.1 1171.1,384.8 1171.4,384 1174.1,384 1171.8,385.5 1171.2,385.1zM1802.3,285.2 1802.3,281.3 1801.7,280.8 1802.6,278.2 1803.3,280.9 1802.6,281.4zM1145.6,309.7 1141.3,310.6 1140.9,311.4 1137.8,311.1 1140.6,309.8 1141.3,310.3zM1758,354.5 1753.6,354.9 1753.1,355.6 1750.1,354.9 1753,354 1753.6,354.6zM1674.9,338.2 1670.6,338.7 1670.1,339.4 1667,338.9 1670,337.8 1670.6,338.4zM1798.7,291.6 1798.1,287.6 1797.3,287.2 1797.8,284.4 1798.9,287 1798.4,287.6zM1099,314.9 1100,311.5 1099.5,310.8 1101,308.7 1101,311.3 1100.2,311.6zM1144.8,239 1142.5,236 1141.7,236 1140.8,233.4 1143,235.1 1142.7,235.8zM1065.8,396.9 1068.6,394.6 1068.6,393.8 1071.1,392.9 1069.6,395.1 1068.8,394.8zM1701,384.5 1696.8,383.9 1696.1,384.5 1693.4,383.2 1696.4,382.9 1696.8,383.6zM1802.1,385.4 1798.4,385.5 1798,386.1 1795.5,385.2 1798,384.5 1798.4,385.2zM1827,363 1822.7,362.6 1822.1,363.2 1819.3,362 1822.3,361.6 1822.7,362.3zM1157,265.8 1154.6,262.9 1153.8,262.9 1152.8,260.4 1155,261.9 1154.8,262.7zM1007.7,414.5 1010.9,412 1010.9,411.2 1013.6,410.2 1011.8,412.5 1011,412.2zM1032.6,297.9 1028.6,297.5 1028,298.1 1025.4,296.8 1028.3,296.5 1028.7,297.2zM1653.4,478.3 1649.2,477.5 1648.5,478 1645.7,476.6 1648.8,476.5 1649.2,477.2zM1011.6,348.3 1015.5,347 1015.8,346.3 1018.8,346.3 1016.2,347.8 1015.6,347.3zM1703.5,290.1 1703.8,286.2 1703.2,285.7 1704.3,283.1 1704.8,285.9 1704.1,286.3zM1717,265.6 1719.4,262.8 1719.2,262 1721.5,260.6 1720.4,263 1719.6,263zM1101.3,287.3 1099.9,283.5 1099.1,283.2 1099,280.3 1100.6,282.7 1100.2,283.4zM1707,378.9 1703.3,379 1702.9,379.7 1700.3,378.9 1702.9,378.1 1703.3,378.7zM1064.9,377.1 1068.6,375.1 1068.8,374.3 1071.7,373.8 1069.5,375.7 1068.7,375.4zM1877.3,401.4 1873.8,402 1873.4,402.7 1870.8,402.2 1873.2,401.1 1873.7,401.7zM1834.9,393.5 1830.8,393.7 1830.3,394.4 1827.5,393.6 1830.3,392.8 1830.8,393.4zM1820.7,287.3 1822.6,284.3 1822.4,283.5 1824.5,282 1823.7,284.5 1822.9,284.5zM1832.6,350.4 1828.9,350.8 1828.5,351.5 1825.8,350.8 1828.4,349.9 1828.9,350.5zM1756.4,414.5 1752.7,414.5 1752.2,415.2 1749.7,414.3 1752.2,413.6 1752.7,414.2zM1702.6,284.7 1703.8,280.9 1703.4,280.2 1705.1,277.9 1704.9,280.7 1704.1,281zM1712.4,375.6 1708.8,375.7 1708.3,376.3 1705.8,375.5 1708.3,374.7 1708.8,375.4zM1209,358.5 1213.1,356.9 1213.4,356.1 1216.4,355.9 1213.9,357.6 1213.1,357.2zM1722.1,352.9 1718.5,353 1718,353.6 1715.5,352.7 1718,352 1718.5,352.7zM1179.6,437.8 1182.1,435.3 1182,434.5 1184.3,433.3 1183.1,435.6 1182.3,435.5zM1703.9,294.7 1703.3,290.7 1702.6,290.3 1703.1,287.4 1704.2,290.1 1703.6,290.7zM1677.7,405.5 1673.7,405.7 1673.2,406.4 1670.4,405.7 1673.2,404.8 1673.7,405.4zM1215.7,284 1215.1,280.3 1214.4,279.9 1215,277.2 1216,279.7 1215.4,280.3zM1704.9,300.4 1701,300.2 1700.4,300.8 1697.8,299.8 1700.6,299.2 1701,299.9zM978.5,357.8 982.7,357.3 983.2,356.6 986.2,357.1 983.4,358.2 982.8,357.6zM985.6,321 982,318.7 981.2,318.9 979.3,316.6 982.1,317.6 982.2,318.5zM1181.3,387.6 1184.9,385.7 1185,384.9 1187.9,384.4 1185.7,386.3 1185,386zM1692.6,303.1 1689.6,300.8 1688.8,301 1687.4,298.8 1689.9,299.8 1689.8,300.6zM1718.5,302.7 1721.9,305.1 1722.8,304.9 1724.6,307.2 1721.8,306.2 1721.8,305.3zM1644.4,372.3 1640.6,372.4 1640.1,373 1637.4,372.2 1640.1,371.4 1640.6,372.1zM1062.5,284.5 1059.5,281.6 1058.7,281.6 1057.2,278.9 1059.8,280.5 1059.7,281.4zM1161.9,310.8 1159.7,313.9 1159.9,314.7 1157.6,316.3 1158.6,313.7 1159.4,313.7zM1832.7,372 1828.9,372.5 1828.5,373.2 1825.8,372.7 1828.3,371.6 1828.9,372.2zM1036.5,381.1 1040,380.1 1040.3,379.3 1043,379.5 1040.7,380.9 1040.1,380.4zM1809,275.1 1810.6,271.5 1810.2,270.8 1812.1,268.7 1811.6,271.5 1810.8,271.6zM1682,361.8 1677.7,361.1 1677.1,361.6 1674.3,360.3 1677.4,360.1 1677.8,360.8zM1164.5,370.2 1168.3,367.9 1168.4,367.1 1171.4,366.3 1169.2,368.5 1168.4,368.2zM1064.9,316.3 1065.9,319.9 1066.7,320.3 1066.5,323 1065.1,320.6 1065.6,320zM1711.5,350.4 1707.3,350.1 1706.7,350.7 1703.8,349.6 1706.8,349.1 1707.3,349.8zM996.2,379.3 999.5,377.5 999.7,376.7 1002.4,376.3 1000.4,378.2 999.6,377.8zM1695.6,413.1 1691.6,413 1691.1,413.6 1688.4,412.5 1691.2,412 1691.6,412.7zM1661.1,318.7 1660.2,315.1 1659.4,314.8 1659.7,312.1 1661,314.5 1660.5,315.1zM1813,341.4 1809,342.2 1808.6,342.9 1805.8,342.6 1808.4,341.3 1809,341.9zM1068.3,302.3 1068,298.4 1067.4,297.9 1068.1,295.2 1069,297.9 1068.3,298.4zM1806.1,353.6 1802.4,353 1801.9,353.5 1799.5,352.2 1802.2,351.9 1802.5,352.7zM1649.1,403.2 1644.7,403.6 1644.2,404.2 1641.2,403.6 1644.2,402.6 1644.7,403.3zM1848.7,304.3 1852.9,305.5 1853.6,305 1856.3,306.7 1853.2,306.6 1852.8,305.8zM1826.2,289.8 1829.9,289.8 1830.4,289.2 1832.9,290.2 1830.3,290.8 1829.9,290.1zM1864.4,399.7 1860.7,399.6 1860.2,400.2 1857.7,399.2 1860.3,398.6 1860.7,399.3zM1782.5,378.4 1778.3,378.6 1777.7,379.2 1774.8,378.4 1777.7,377.6 1778.3,378.3zM1068.6,371.1 1072,369.9 1072.2,369.1 1074.8,369.1 1072.7,370.6 1072.1,370.2zM1117.8,397 1121.2,394.7 1121.2,393.8 1124,393 1122.1,395.2 1121.3,394.9zM1776.7,362.2 1772.7,362.2 1772.2,362.9 1769.5,362 1772.2,361.3 1772.7,361.9zM1059,297.3 1055.6,295.9 1054.9,296.3 1053,294.5 1055.6,294.8 1055.7,295.6zM1749.8,379 1745.8,378.6 1745.2,379.1 1742.5,378 1745.4,377.6 1745.8,378.3zM979.3,369.8 983.2,368.2 983.5,367.5 986.5,367.2 984,369 983.3,368.5zM1837.7,302.9 1841.2,305.1 1842,304.8 1843.9,307.1 1841.1,306.1 1841,305.3zM1707.2,297.6 1707.4,293.3 1706.8,292.7 1707.8,289.7 1708.4,292.8 1707.7,293.3zM1172.8,305.3 1175.3,301.8 1175.2,301 1177.6,299.1 1176.4,301.9 1175.6,302zM1838.8,273.4 1842.5,271.7 1842.8,270.9 1845.7,270.6 1843.4,272.4 1842.6,272zM1195.6,349.9 1199.1,348.2 1199.3,347.5 1202,347.2 1199.9,348.9 1199.2,348.5zM1179.4,370.9 1182.9,369.7 1183.2,369 1185.9,369.1 1183.6,370.5 1183,370zM1860.4,336.3 1856.8,336 1856.2,336.5 1853.9,335.4 1856.4,335 1856.8,335.7zM1684.5,304.8 1681.5,302.3 1680.7,302.5 1679.3,300.1 1681.8,301.3 1681.7,302.1zM1159.9,362.8 1163.7,361.3 1164,360.5 1166.9,360.3 1164.5,362 1163.8,361.6zM1830.6,274.1 1834,271.3 1834.1,270.5 1837,269.3 1835,271.8 1834.2,271.6zM1854.3,311.5 1858.2,313.2 1858.9,312.8 1861.2,314.8 1858.2,314.3 1858,313.4zM1823.5,296.4 1819.6,296.4 1819.1,297 1816.5,296 1819.2,295.4 1819.7,296.1zM1169.1,304.2 1167.2,308 1167.5,308.8 1165.4,311.1 1166.1,308.1 1166.9,307.9zM1738.5,355.2 1734.1,354.7 1733.5,355.3 1730.6,354 1733.7,353.7 1734.2,354.4zM1034.7,365.4 1038.1,364.1 1038.3,363.4 1040.9,363.4 1038.8,364.9 1038.2,364.4zM1707.5,337.8 1703.1,337.2 1702.5,337.7 1699.6,336.4 1702.7,336.1 1703.2,336.9zM1169.8,296.1 1166.5,294.1 1165.7,294.3 1163.9,292.2 1166.6,293 1166.7,293.8zM1139.7,294 1136.2,291.9 1135.4,292.1 1133.5,289.9 1136.3,290.8 1136.3,291.6zM1755.2,392 1751.5,391.7 1750.9,392.3 1748.4,391.2 1751.1,390.7 1751.5,391.4zM1180.3,354 1184.3,353.3 1184.7,352.6 1187.6,353.1 1184.9,354.2 1184.3,353.6zM1075.5,256.7 1073,253.8 1072.2,253.8 1071.2,251.3 1073.5,252.8 1073.3,253.6zM1724.8,306.9 1727.6,309.6 1728.4,309.5 1729.6,312 1727.2,310.6 1727.3,309.8zM1707.8,293 1709.8,290 1709.5,289.2 1711.7,287.7 1710.8,290.1 1710,290.1zM1163.3,381.1 1167,379.4 1167.3,378.6 1170.2,378.3 1167.9,380.1 1167.2,379.7zM1227,263.4 1225.5,260 1224.7,259.8 1224.5,257.1 1226.2,259.2 1225.8,259.9zM1289.6,512.1 1292.7,510 1292.8,509.2 1295.4,508.5 1293.6,510.6 1292.9,510.2zM1068.6,310.5 1072.2,309.5 1072.5,308.8 1075.2,309 1072.9,310.3 1072.3,309.8zM1084.7,295.2 1084.5,291.1 1083.8,290.5 1084.5,287.6 1085.4,290.5 1084.8,291zM1019.3,376 1022.8,374.2 1023,373.4 1025.8,373 1023.6,374.9 1022.9,374.5zM1841.8,368.5 1837.9,368.4 1837.4,369 1834.7,368.1 1837.5,367.4 1837.9,368.1zM1802.6,358.8 1798.7,358.7 1798.1,359.4 1795.5,358.5 1798.2,357.8 1798.7,358.5zM1019.5,222.8 1016.2,220.1 1015.4,220.2 1013.8,217.6 1016.5,219 1016.4,219.8zM1821.8,290.8 1824.6,288.4 1824.5,287.6 1827,286.6 1825.5,288.8 1824.7,288.6zM1741.1,400.1 1737.1,400.4 1736.6,401.1 1733.8,400.4 1736.5,399.5 1737.1,400.1zM1825.6,299.3 1826.8,303.1 1827.6,303.4 1827.6,306.3 1826,303.9 1826.5,303.2zM1765.7,373.3 1761.8,373.3 1761.3,373.9 1758.6,373 1761.4,372.3 1761.8,373zM1210.2,342.6 1214.1,341.5 1214.5,340.7 1217.4,340.8 1214.9,342.3 1214.2,341.8zM1170.8,342.2 1174.6,341.4 1175,340.7 1177.8,341.1 1175.3,342.3 1174.7,341.7zM1845.7,422.8 1841.5,423.2 1841,423.8 1838.1,423.2 1841,422.2 1841.5,422.9zM1069.4,401.9 1073.3,400.7 1073.6,400 1076.5,400 1074,401.5 1073.4,401zM1844,381.7 1840.3,380.9 1839.7,381.4 1837.3,380 1840.1,379.9 1840.4,380.6zM1008.1,397 1011.3,394.6 1011.3,393.8 1014.1,392.9 1012.3,395.1 1011.5,394.9zM1863.6,383.8 1859.4,383.7 1858.8,384.3 1856,383.3 1858.9,382.7 1859.4,383.4zM1795.1,308.4 1792.6,305.4 1791.8,305.4 1790.8,302.8 1793.1,304.5 1792.9,305.3zM1710.5,227.1 1712.8,224.4 1712.7,223.7 1715,222.4 1713.8,224.8 1713,224.6zM1730,287.4 1734,286.1 1734.4,285.3 1737.4,285.2 1734.8,286.8 1734.1,286.4zM1831.8,360.8 1827.9,360.1 1827.3,360.7 1824.9,359.4 1827.6,359.1 1828,359.8zM1731.9,370.9 1728.1,370.2 1727.4,370.7 1725,369.2 1727.8,369.1 1728.1,369.9zM1066.2,304.4 1062.5,302.9 1061.8,303.3 1059.6,301.4 1062.4,301.8 1062.6,302.6zM1129.5,369.2 1133,367.7 1133.3,366.9 1136,366.6 1133.8,368.4 1133.1,367.9zM1015.4,410.2 1019,408 1019.2,407.2 1022.1,406.5 1020,408.6 1019.2,408.3zM1800.9,394.7 1796.7,394.5 1796.1,395.2 1793.2,394.1 1796.2,393.6 1796.7,394.3zM999.3,360.4 1003.2,359.3 1003.6,358.5 1006.5,358.5 1004,360 1003.3,359.5zM1202.3,400.3 1205.9,397.9 1206,397 1208.9,396.1 1206.8,398.4 1206,398.1zM1715.9,389 1712.3,389.7 1712,390.4 1709.4,390 1711.8,388.8 1712.3,389.4zM1127.5,354.7 1131.3,354.1 1131.7,353.4 1134.5,353.9 1131.9,355 1131.4,354.4zM1170.8,351.4 1174.8,350.3 1175.2,349.6 1178.1,349.7 1175.5,351.1 1174.8,350.6zM1786,294.9 1786.3,290.5 1785.7,289.9 1786.9,287 1787.3,290.1 1786.6,290.6zM1762.9,360.1 1758.7,360 1758.2,360.7 1755.4,359.7 1758.3,359.1 1758.8,359.7zM1706.4,298.4 1703.7,295.7 1702.9,295.7 1701.6,293.2 1704,294.6 1703.9,295.4zM1193.7,255.2 1192.1,251.7 1191.4,251.5 1191.1,248.8 1192.8,250.9 1192.4,251.6zM1187,383.8 1190.8,382.1 1191,381.3 1194,380.9 1191.7,382.8 1190.9,382.4zM1876.7,250.8 1879.9,248.5 1880,247.7 1882.7,246.9 1880.8,249 1880.1,248.7zM1084.9,322.1 1088.3,319.7 1088.4,318.8 1091.2,317.9 1089.3,320.2 1088.5,319.9zM1055.3,352.5 1059,352 1059.4,351.4 1062,351.9 1059.5,352.9 1059,352.3zM1824.5,382.9 1820.6,383.4 1820.2,384.1 1817.4,383.6 1820,382.5 1820.6,383.1zM1055.7,316.6 1053.5,320.3 1053.8,321.1 1051.6,323.1 1052.5,320.2 1053.3,320.1zM1069.3,354 1072.7,352.7 1072.9,351.9 1075.5,351.9 1073.4,353.5 1072.8,353zM1675.4,269.5 1676.2,265.4 1675.7,264.7 1677.1,262 1677.2,265 1676.5,265.4zM1165.2,375.1 1168.7,373.7 1169,372.9 1171.7,372.9 1169.5,374.4 1168.8,374zM1883.7,394.8 1879.4,394.7 1878.8,395.3 1875.9,394.3 1878.9,393.7 1879.4,394.4zM1831.6,295 1835.5,295.4 1836.1,294.9 1838.6,296.1 1835.8,296.5 1835.4,295.7zM1039.2,292.1 1035.7,290.5 1035,290.8 1033,288.9 1035.7,289.4 1035.8,290.2zM1041.6,375.3 1045,373.7 1045.2,372.9 1047.9,372.7 1045.8,374.4 1045.1,374zM1863.2,223.8 1865.8,220.8 1865.6,220 1868.1,218.5 1866.8,221 1866,221zM1659.8,361.6 1655.6,361.9 1655.1,362.5 1652.2,361.8 1655.1,360.9 1655.6,361.6zM1829.5,310.6 1832.1,313.9 1833,314 1834.1,316.8 1831.7,314.9 1831.9,314.1zM1860.6,348.5 1856.3,348.3 1855.6,348.8 1852.7,347.7 1855.8,347.3 1856.3,348zM996,266.1 993.1,263.9 992.4,264.2 990.9,262 993.4,262.9 993.3,263.7zM1693.6,315.4 1689.7,316.1 1689.3,316.9 1686.5,316.5 1689,315.3 1689.6,315.8zM1058.2,364.7 1062.3,363.6 1062.6,362.8 1065.6,363 1063,364.4 1062.3,363.9zM1812.1,297.7 1809.8,294.4 1809,294.3 1808.1,291.6 1810.3,293.5 1810,294.2zM1642.3,266.7 1643,263 1642.5,262.4 1643.9,260.1 1644,262.8 1643.3,263.1zM1847.2,390.9 1843.4,390.1 1842.8,390.6 1840.4,389.2 1843.2,389.1 1843.5,389.8zM1153.3,289.6 1150,287.7 1149.2,288 1147.5,285.9 1150.1,286.6 1150.2,287.5zM1051.9,381 1055.3,378.9 1055.4,378.1 1058.3,377.4 1056.2,379.5 1055.5,379.1zM1076.4,385.2 1079.7,383.3 1079.8,382.5 1082.5,382 1080.6,383.9 1079.8,383.6zM1129.4,421.6 1132.8,419.3 1132.9,418.5 1135.7,417.7 1133.7,419.9 1132.9,419.6zM1204.8,294.8 1204.9,290.8 1204.3,290.2 1205.3,287.5 1205.9,290.3 1205.2,290.8zM979.5,382.6 983.1,380.7 983.3,379.9 986.3,379.4 984,381.3 983.3,380.9zM1689.5,393.7 1686,394.6 1685.7,395.4 1683.1,395.1 1685.4,393.8 1686,394.3zM1725.6,395.6 1721.2,395.6 1720.7,396.2 1717.7,395.3 1720.7,394.6 1721.2,395.3zM1187.3,319.6 1191.3,318.4 1191.7,317.6 1194.7,317.6 1192.1,319.1 1191.4,318.7zM1109.6,293 1107.5,289.2 1106.7,289 1106.1,286 1108.1,288.3 1107.8,289.1zM1832.8,344.8 1828.7,344.3 1828.1,344.8 1825.4,343.6 1828.3,343.3 1828.8,344zM1045.3,426.3 1048.4,424.4 1048.5,423.6 1051.1,423.1 1049.3,425 1048.6,424.7zM1866.2,356.7 1862.6,356.9 1862.2,357.6 1859.7,356.9 1862.1,356 1862.6,356.6zM1702.5,271.7 1704.1,268.2 1703.7,267.5 1705.6,265.5 1705.1,268.2 1704.3,268.3zM1027,392.5 1030.3,390.2 1030.3,389.4 1033.1,388.5 1031.2,390.7 1030.4,390.4zM1702.2,391.7 1697.9,391.3 1697.3,391.9 1694.4,390.8 1697.4,390.3 1697.9,391zM1501,371.1 1497.3,372.4 1497.1,373.2 1494.3,373.3 1496.6,371.7 1497.2,372.2zM1883.3,340.7 1879.6,340.5 1879.1,341.1 1876.6,340.1 1879.2,339.5 1879.6,340.2zM1708.7,298.3 1705.3,299.8 1705.1,300.5 1702.5,300.7 1704.6,299.1 1705.2,299.5zM998.6,304.2 994.9,302.9 994.1,303.3 991.9,301.6 994.7,301.8 995,302.6zM1694.6,285.3 1694.6,281.5 1694,281 1695,278.5 1695.6,281.1 1694.9,281.6zM1786.5,347 1782.4,346.9 1781.9,347.6 1779.1,346.6 1781.9,346 1782.4,346.6zM1816,276 1817.5,272.3 1817.1,271.6 1819,269.4 1818.6,272.2 1817.8,272.4zM1697.9,308 1693.7,307.4 1693,307.9 1690.3,306.6 1693.3,306.4 1693.7,307.1zM1806,336.9 1802,336.7 1801.5,337.2 1798.9,336.2 1801.6,335.7 1802.1,336.4zM991.8,292.6 988.1,290.3 987.2,290.6 985.2,288.2 988.1,289.2 988.2,290.1zM1006.1,354.7 1010.2,353.4 1010.6,352.6 1013.7,352.5 1011,354.1 1010.3,353.7zM1849.4,296.1 1853.4,297.3 1854.1,296.8 1856.6,298.4 1853.6,298.3 1853.3,297.5zM1692,372.2 1688.3,371.5 1687.6,372.1 1685.2,370.8 1688,370.5 1688.3,371.2zM1745.1,261.4 1748.3,259 1748.4,258.2 1751.1,257.4 1749.3,259.6 1748.5,259.3zM1044.9,409.2 1047.9,406.4 1047.8,405.6 1050.5,404.3 1048.9,406.8 1048.1,406.6zM1720.1,296.3 1724,297.6 1724.7,297.2 1727.1,298.9 1724.2,298.7 1723.9,297.9zM1030.2,370.6 1033.6,368.9 1033.8,368.2 1036.5,367.8 1034.4,369.6 1033.7,369.2zM1154.9,274.8 1152.1,271.9 1151.3,272 1150,269.4 1152.4,270.9 1152.3,271.7zM1072.3,376.4 1075.4,374.6 1075.6,373.8 1078.2,373.3 1076.3,375.2 1075.6,374.8zM1163.5,271.9 1161.3,268.8 1160.5,268.7 1159.8,266.1 1161.9,267.9 1161.6,268.6zM1689.5,337 1685.4,337.4 1684.9,338 1682,337.4 1684.8,336.4 1685.4,337.1zM1711.5,297.2 1714.4,299.6 1715.1,299.4 1716.5,301.7 1714.1,300.6 1714.1,299.8zM1099.7,372.5 1103.1,370.9 1103.2,370.1 1105.9,369.8 1103.9,371.5 1103.2,371.1zM1852.7,335.9 1848.8,336.2 1848.3,336.8 1845.5,336.1 1848.2,335.2 1848.8,335.9zM999,329.9 994.6,330.1 994,330.7 991,329.9 994,329.1 994.6,329.8zM1030.8,332.2 1026.4,332.3 1025.9,333 1022.8,332.2 1025.9,331.4 1026.4,332zM1065.7,329.4 1061.3,329.6 1060.7,330.3 1057.7,329.5 1060.7,328.7 1061.3,329.3zM1093.3,329.2 1088.9,329.4 1088.4,330.1 1085.3,329.3 1088.4,328.5 1088.9,329.1zM1128.9,331.5 1124.5,331.7 1124,332.3 1120.9,331.6 1124,330.7 1124.5,331.4zM1163.8,328.8 1159.4,329 1158.9,329.6 1155.8,328.8 1158.9,328 1159.4,328.7zM1197.5,328.6 1193.1,328.7 1192.5,329.4 1189.5,328.6 1192.5,327.8 1193.1,328.4zM1231.8,328.3 1227.4,328.5 1226.9,329.2 1223.8,328.4 1226.9,327.6 1227.4,328.2zM1253.7,329.2 1258.1,329 1258.6,328.4 1261.7,329.2 1258.6,330 1258.1,329.3zM1284.4,328.9 1288.8,328.8 1289.3,328.1 1292.4,328.9 1289.3,329.7 1288.8,329.1zM1310.9,328.8 1315.3,328.6 1315.8,328 1318.9,328.8 1315.8,329.6 1315.3,328.9zM1339.4,328.6 1343.8,328.4 1344.3,327.8 1347.4,328.6 1344.3,329.4 1343.8,328.7zM1370.7,328.4 1375.1,328.2 1375.6,327.6 1378.7,328.4 1375.6,329.2 1375.1,328.5zM1396.2,328.2 1400.6,328.1 1401.2,327.4 1404.2,328.2 1401.2,329 1400.6,328.4zM1424.6,328 1429,327.9 1429.5,327.2 1432.6,328 1429.5,328.8 1429,328.2zM1460.5,327.8 1464.9,327.6 1465.4,327 1468.5,327.8 1465.4,328.6 1464.9,327.9zM1490.1,327.6 1494.5,327.4 1495,326.8 1498.1,327.6 1495,328.4 1494.5,327.7zM1524,327.4 1528.4,327.2 1529,326.6 1532,327.4 1529,328.2 1528.4,327.5zM1558.7,327.1 1563.1,327 1563.6,326.3 1566.7,327.1 1563.6,327.9 1563.1,327.3zM1581.9,327 1586.3,326.8 1586.8,326.2 1589.9,327 1586.8,327.8 1586.3,327.1zM1611.1,326.8 1615.5,326.6 1616.1,326 1619.1,326.8 1616.1,327.6 1615.5,326.9zM1638.2,328.1 1642.6,327.9 1643.1,327.3 1646.2,328.1 1643.1,328.9 1642.6,328.2zM1664.4,327.9 1668.8,327.8 1669.4,327.1 1672.4,327.9 1669.4,328.7 1668.8,328.1zM1686.5,327.8 1690.9,327.6 1691.4,327 1694.5,327.7 1691.4,328.6 1690.9,327.9zM1715.2,325.1 1719.6,324.9 1720.2,324.3 1723.2,325 1720.2,325.9 1719.6,325.2zM1747.2,324.9 1751.6,324.7 1752.1,324.1 1755.2,324.8 1752.1,325.7 1751.6,325zM1770.3,327.2 1774.7,327.1 1775.2,326.4 1778.3,327.2 1775.2,328 1774.7,327.4zM1795.5,324.6 1799.9,324.4 1800.5,323.7 1803.5,324.5 1800.5,325.3 1799.9,324.7zM1827.7,324.4 1832.1,324.2 1832.7,323.5 1835.7,324.3 1832.7,325.1 1832.1,324.5zM1860.5,326.6 1864.9,326.5 1865.4,325.8 1868.5,326.6 1865.4,327.4 1864.9,326.8z" fill="#2a190d" stroke="#2a190d" stroke-width="0.45" stroke-linejoin="round"/>
<path d="M1058.8,297.8 C1032.8,293.8 1032.8,351.8 1052.8,361.8" fill="none" stroke="#1f1915" stroke-width="10" stroke-linecap="round"/>
<path d="M1058.8,297.8 C1032.8,293.8 1032.8,351.8 1052.8,361.8" fill="none" stroke="#AD9686" stroke-width="7.4" stroke-linecap="round"/>
<path d="M1058.8,297.8 C1032.8,293.8 1032.8,351.8 1052.8,361.8" fill="none" stroke="#1d1714" stroke-width="8.6" stroke-dasharray="0.7 1.7" opacity="0.85"/>
<ellipse cx="1065.8" cy="303.8" rx="9" ry="6.5" fill="#0d0a09" filter="url(#b1)"/>
<path d="M1061.9,296.5 L1058.7,290.4M1060.9,308.8 L1055.1,314.9M1056.7,300.2 L1047.2,296.5M1055.4,306.2 L1043.4,309M1064.8,308.2 L1062.9,316.8M1073.5,307.1 L1083.5,311.4M1062.5,295.7 L1060.5,290.6M1059.4,303.4 L1050,302.8M1071.2,301.6 L1081.2,297.6M1066,299 L1066.2,293.5M1069.5,297.9 L1074.2,290.2M1068.3,308.1 L1072.7,315.9M1070,306.8 L1075.1,310.4M1062.5,297.4 L1058.9,290.3M1069.9,296.7 L1073.3,290.9M1058.9,300.7 L1050,296.7M1055.5,301.5 L1048.3,299.9M1062.5,308.4 L1058.6,313.7M1059.3,300.9 L1052.3,297.8M1061.2,310 L1056.9,315.9M1074.2,304 L1080.2,304.2M1068.6,297.1 L1071.6,289.7M1074.9,304.5 L1083.5,305.2M1055.5,304.7 L1045.4,305.5M1068.4,310.9 L1070.4,316.3M1074.8,299.9 L1083.5,296.2M1071.6,302 L1077.4,300.3M1061.1,297.1 L1056,289.8M1072.9,306.2 L1082.1,309.4M1070.3,298.9 L1077.4,291.2M1077.1,302.7 L1087.4,301.6M1070.3,300.6 L1078.8,294.4M1054.4,305.4 L1046.5,306.5M1067.5,308 L1071.1,316.9M1055.6,301.6 L1045.6,299.5M1060.7,304.8 L1053.3,306.2M1068,295.7 L1069.9,288.5M1060.9,297.9 L1057.6,294M1068.2,311.1 L1069.7,315.5M1057.2,308.4 L1050.9,311.7M1057.7,298 L1048.6,291.5M1055,306.9 L1047.5,309M1077,302.9 L1083.7,302.4M1059.1,304.1 L1049.4,304.5M1076.1,303.2 L1082.8,302.8M1056.8,301.5 L1047.9,299.3" stroke="#120d0a" stroke-width="1.1" fill="none"/>
<path d="M1166,296.8 C1140,292.8 1140,350.8 1160,360.8" fill="none" stroke="#1f1915" stroke-width="10" stroke-linecap="round"/>
<path d="M1166,296.8 C1140,292.8 1140,350.8 1160,360.8" fill="none" stroke="#AD9686" stroke-width="7.4" stroke-linecap="round"/>
<path d="M1166,296.8 C1140,292.8 1140,350.8 1160,360.8" fill="none" stroke="#1d1714" stroke-width="8.6" stroke-dasharray="0.7 1.7" opacity="0.85"/>
<ellipse cx="1173" cy="302.8" rx="9" ry="6.5" fill="#0d0a09" filter="url(#b1)"/>
<path d="M1169.6,296.6 L1165.8,289.5M1163.9,303.6 L1153.7,304.5M1167.5,303.6 L1161.3,304.5M1181.7,306.9 L1189.2,310.4M1166.8,299.4 L1157,294M1167.2,308.7 L1162.5,313.5M1170.4,295.2 L1168.4,289.4M1178,301.1 L1187.3,298M1164.1,307.4 L1153.7,312.9M1164.8,297.1 L1158.7,292.8M1162.5,300.7 L1153.5,298.9M1173.3,297 L1173.5,290.6M1183.2,304.8 L1191.2,306.4M1168.7,299.6 L1159.7,292.9M1176.6,310.1 L1179.2,315.4M1173.9,307.2 L1175.5,314.8M1177.9,306.9 L1182.1,310.4M1179.8,308.4 L1186.6,314.1M1175,296.9 L1176.6,291.9M1177.5,307.9 L1184.1,315.3M1173.9,297.7 L1175,291.9M1166.6,304.8 L1159.5,307.1M1166,308.9 L1158.2,315.8M1169.8,295.7 L1166.5,288.4M1176.7,305.8 L1182.4,310.7M1181.5,300.9 L1193.4,298.3M1165.5,305.1 L1158.5,307.3M1179.5,301 L1184.8,299.4M1183,300.2 L1195.1,297M1180.2,301.3 L1189.8,299.3M1169.3,299.7 L1162.3,293.7M1166.6,302.8 L1155.4,302.8M1165.9,306.6 L1157.9,310.9M1170,308.7 L1165.5,317.5M1182.1,303.3 L1193.7,304M1165.3,298.7 L1159.5,295.6M1178.3,296.4 L1183.8,289.6M1178.6,307.7 L1184.5,312.8M1176.1,310.5 L1178.6,316.9M1165.9,303.3 L1153.9,304.3M1163.8,308.1 L1156.9,312.2M1179.4,301.2 L1187.1,299.4M1177.7,304.8 L1184.4,307.6M1181.2,300.8 L1189.5,298.7M1179.9,306.2 L1185.1,308.8M1172.5,308.3 L1171.9,315.1" stroke="#120d0a" stroke-width="1.1" fill="none"/>
<path d="M1713.5,289.6 C1739.5,285.6 1739.5,343.6 1719.5,353.6" fill="none" stroke="#1f1915" stroke-width="10" stroke-linecap="round"/>
<path d="M1713.5,289.6 C1739.5,285.6 1739.5,343.6 1719.5,353.6" fill="none" stroke="#AD9686" stroke-width="7.4" stroke-linecap="round"/>
<path d="M1713.5,289.6 C1739.5,285.6 1739.5,343.6 1719.5,353.6" fill="none" stroke="#1d1714" stroke-width="8.6" stroke-dasharray="0.7 1.7" opacity="0.85"/>
<ellipse cx="1706.5" cy="295.6" rx="9" ry="6.5" fill="#0d0a09" filter="url(#b1)"/>
<path d="M1700.2,289.3 L1694.1,283.2M1712.1,297.4 L1724,301.1M1703.6,291 L1699.8,285.1M1702.6,291.3 L1695.4,283.3M1703.8,300.5 L1700.8,306.1M1698.3,299.5 L1689.5,303.7M1712.5,289.1 L1718.3,282.6M1714.5,299.3 L1722,302.7M1710.2,300 L1714.7,305.5M1700.9,302 L1696.8,306.6M1705.7,291.2 L1704.1,282M1701.2,292.1 L1693.1,286.8M1705.6,304.2 L1705.2,309M1698.7,292.7 L1693.6,290.8M1701.2,294.8 L1695.9,294.1M1704,290.5 L1700.8,284M1711.9,299.1 L1720.5,304.5M1714.8,292.3 L1722.8,289M1715.3,300.4 L1725.2,305.8M1707.1,303.9 L1707.3,308.3M1700.5,301.2 L1692.4,308.9M1716.3,298.7 L1726,301.8M1705.2,289.8 L1703.4,282.2M1700.8,296.1 L1693.4,296.7M1696.5,293 L1689.9,291.2M1707.4,289.9 L1708.7,282.1M1695.6,296.8 L1685.2,297.9M1714.6,298.6 L1719.3,300.3M1711.5,293.2 L1722.3,288.1M1712.4,288.5 L1716,284.2M1717.7,295.7 L1725.6,295.8M1702.1,292.9 L1692.8,287.2M1715.1,299.9 L1725.6,305.1M1700.9,296.4 L1691.5,297.9M1707.4,304.5 L1707.9,309.5M1708.1,289.7 L1710.5,280.7M1708.3,290.6 L1711.4,282.4M1712.5,299.9 L1716.5,302.9M1702.1,291.8 L1695.4,286M1709.3,291.8 L1713,286.7M1709.6,292.1 L1713.5,287.6M1715.3,294.2 L1723.5,292.9M1711.4,290.1 L1718.4,282.2M1712.2,292.6 L1720.8,287.9M1704.2,290.9 L1701.6,285.7M1709.1,287.1 L1710.7,281.8" stroke="#120d0a" stroke-width="1.1" fill="none"/>
<path d="M1828,288.6 C1854,284.6 1854,342.6 1834,352.6" fill="none" stroke="#1f1915" stroke-width="10" stroke-linecap="round"/>
<path d="M1828,288.6 C1854,284.6 1854,342.6 1834,352.6" fill="none" stroke="#AD9686" stroke-width="7.4" stroke-linecap="round"/>
<path d="M1828,288.6 C1854,284.6 1854,342.6 1834,352.6" fill="none" stroke="#1d1714" stroke-width="8.6" stroke-dasharray="0.7 1.7" opacity="0.85"/>
<ellipse cx="1821" cy="294.6" rx="9" ry="6.5" fill="#0d0a09" filter="url(#b1)"/>
<path d="M1818.5,299 L1814.9,305.7M1815.2,294.2 L1808.8,293.8M1817.9,286.7 L1816,282M1813.4,295.2 L1807.5,295.7M1825.9,300.7 L1828.8,304.4M1824.8,297.3 L1828.7,300.1M1813.7,294.8 L1807.9,294.9M1811.9,299.3 L1805.5,302.5M1813.8,299 L1805.3,304.2M1825.5,298.4 L1830.4,302.5M1817.9,286.2 L1815.4,279.4M1815.8,290.8 L1811.2,287.5M1829.4,299.7 L1838.2,305M1825,297.3 L1829.4,300.3M1826.8,294.7 L1837.5,295M1818,288.8 L1816,284.9M1810.9,292.5 L1804.2,291.1M1828.8,288.8 L1835.6,283.8M1824.2,298 L1830.2,304.5M1811.2,294.5 L1801.4,294.4M1814.7,289 L1810.6,285.3M1824.4,300.5 L1827,305M1823.6,287.8 L1826.6,280.3M1812.1,293.7 L1803.3,292.9M1815.2,288 L1811.7,284.1M1813.2,290.9 L1804.9,287M1824,287.5 L1826.8,280.8M1821.1,300.2 L1821.2,304.5M1825.1,288.5 L1830.4,280.9M1818.9,290.5 L1814.8,282.5M1818.4,286.3 L1816,278.8M1814.5,297.9 L1808.5,300.9M1818.9,288.5 L1816.9,282.8M1822.4,290.3 L1824.3,284.4M1826.7,296 L1837.4,298.6M1815.5,296.8 L1805.5,300.8M1831.5,292.1 L1842.3,289.6M1820.7,302.3 L1820.4,310.8M1818.4,298.2 L1813.9,304.2M1821,290.4 L1821,285.9M1827.1,298.1 L1835.1,302.5M1815.8,292.9 L1809,290.6M1814.8,288.4 L1808.7,282.1M1814,299 L1806.2,303.8M1824.7,302.8 L1827.5,309M1821.2,287 L1821.5,279.4" stroke="#120d0a" stroke-width="1.1" fill="none"/>
<g font-family="'Liberation Sans',sans-serif" font-size="7.9" fill="#fff" fill-opacity="0.88" text-anchor="middle"><rect x="1278.8" y="488" width="303.1" height="7.6" fill="url(#cw)"/><text x="1278.8" y="480.8">-3.0e-01</text><text x="1309.1" y="480.8">-0.25</text><text x="1339.4" y="480.8">-0.2</text><text x="1369.7" y="480.8">-0.15</text><text x="1400" y="480.8">-0.1</text><text x="1430.3" y="480.8">-0.05</text><text x="1460.7" y="480.8">0</text><text x="1491" y="480.8">0.05</text><text x="1521.3" y="480.8">0.1</text><text x="1551.6" y="480.8">0.15</text><text x="1581.9" y="480.8">2.0e-01</text><path d="M1278.8,484.8 v6.2 M1309.1,484.8 v6.2 M1339.4,484.8 v6.2 M1369.7,484.8 v6.2 M1400,484.8 v6.2 M1430.3,484.8 v6.2 M1460.7,484.8 v6.2 M1491,484.8 v6.2 M1521.3,484.8 v6.2 M1551.6,484.8 v6.2 M1581.9,484.8 v6.2" stroke="#fff" stroke-width="0.8" opacity="0.9"/><path d="M1278.2,427 V488 M1582.5,427 V488" stroke="#fff" stroke-width="0.9" opacity="0.9"/><text x="1429.5" y="470.5">scalars</text></g>
</g>
<path d="M976.9,215.85 h24 m18,0 h6 M1042.9,215.85 h24 m18,0 h6 M1108.9,215.85 h24 m18,0 h6 M1174.9,215.85 h24 m18,0 h6 M1240.9,215.85 h24 m18,0 h6 M1306.9,215.85 h24 m18,0 h6 M1372.9,215.85 h24 m18,0 h6 M1438.9,215.85 h24 m18,0 h6 M1504.9,215.85 h24 m18,0 h6 M1570.9,215.85 h24 m18,0 h6 M1636.9,215.85 h24 m18,0 h6 M1702.9,215.85 h24 m18,0 h6 M1768.9,215.85 h24 m18,0 h6 M1834.9,215.85 h24 m18,0 h6" stroke="#4472C4" stroke-width="5.9" fill="none"/>
<path d="M974.1,515.7 H980 M999.3,515.7 h5.8 m18.1,0 h23.9 M1065.3,515.7 h5.8 m18.1,0 h23.9 M1131.3,515.7 h5.8 m18.1,0 h23.9 M1197.3,515.7 h5.8 m18.1,0 h23.9 M1263.3,515.7 h5.8 m18.1,0 h23.9 M1329.3,515.7 h5.8 m18.1,0 h23.9 M1395.3,515.7 h5.8 m18.1,0 h23.9 M1461.3,515.7 h5.8 m18.1,0 h23.9 M1527.3,515.7 h5.8 m18.1,0 h23.9 M1593.3,515.7 h5.8 m18.1,0 h23.9 M1659.3,515.7 h5.8 m18.1,0 h23.9 M1725.3,515.7 h5.8 m18.1,0 h23.9 M1791.3,515.7 h5.8 m18.1,0 h23.9 M1857.3,515.7 h5.8 m18.1,0 h23.9" stroke="#4472C4" stroke-width="6.1" fill="none"/>
<path d="M977,232.1 v23.6 m0,18.5 v5.6 M977,298.1 v23.6 m0,18.5 v5.6 M977,364.1 v23.6 m0,18.5 v5.6 M977,430.1 v23.6 m0,18.5 v5.6 M977,496.1 v23.6" stroke="#4472C4" stroke-width="5.9" fill="none"/>
<path d="M1884.7,232.1 v23.6 m0,18.5 v5.6 M1884.7,298.1 v23.6 m0,18.5 v5.6 M1884.7,364.1 v23.6 m0,18.5 v5.6 M1884.7,430.1 v23.6 m0,18.5 v5.6 M1884.7,496.1 v23.6" stroke="#4472C4" stroke-width="5.9" fill="none"/>
<rect x="1881.8" y="496" width="5.2" height="22.7" fill="#4472C4"/>
<g clip-path="url(#cBr)">
<rect x="978" y="529" width="380" height="323" fill="#DEB59D"/>
<ellipse cx="1300" cy="640" rx="130" ry="75" fill="#DB8468" filter="url(#b35)"/>
<ellipse cx="1240" cy="715" rx="140" ry="78" fill="#DB8468" filter="url(#b35)"/>
<ellipse cx="1325" cy="650" rx="65" ry="28" fill="#D0614C" filter="url(#b25)"/>
<ellipse cx="1262" cy="696" rx="72" ry="24" fill="#D0614C" filter="url(#b25)"/>
<linearGradient id="gbr" gradientUnits="userSpaceOnUse" x1="981" x2="1354"><stop offset="0" stop-color="#E6D2C0"/><stop offset="0.6" stop-color="#E2D6CC"/><stop offset="1" stop-color="#C3D5EC"/></linearGradient>
<polygon points="978,668.2 1358,665 1358,679 978,682.2" fill="url(#gbr)"/>
<polygon points="978,664.2 1358,661 1358,665.7 978,668.9" fill="#5B6084"/>
<polygon points="978,681.5 1358,678.3 1358,683.3 978,686.5" fill="#5B6084"/>
<path d="M1071.6,669.6 L1232,668.2 M1230,663 V672.5 M1087,673.8 L1230,672.5 M1087,669.5 V678.9 M1087,678.9 L1234,677.6" stroke="#565a7c" stroke-width="1.5" fill="none"/>
<path d="M995.5,672.6 991.6,672.8 991.1,673.4 988.5,672.6 991.1,671.8 991.6,672.5zM1007.2,677 1003.5,677.2 1003,677.8 1000.4,677 1003,676.2 1003.5,676.9zM1016.9,672.4 1013.1,672.6 1012.6,673.2 1010,672.4 1012.6,671.6 1013.1,672.3zM1028.6,672.3 1024.4,672.5 1023.9,673.1 1021.1,672.3 1023.9,671.5 1024.4,672.2zM1038.9,672.2 1034.5,672.4 1034,673 1030.9,672.2 1034,671.4 1034.5,672.1zM1049.9,676.6 1046,676.8 1045.5,677.4 1042.7,676.6 1045.5,675.8 1046,676.5zM1060.8,676.5 1056.9,676.7 1056.4,677.3 1053.6,676.5 1056.4,675.7 1056.9,676.4zM1067.9,676.5 1063.9,676.6 1063.4,677.3 1060.6,676.5 1063.4,675.7 1063.9,676.3zM1077.1,676.4 1072.7,676.6 1072.2,677.2 1069.1,676.4 1072.2,675.6 1072.7,676.3zM1086.2,671.4 1082.6,671.7 1082.2,672.3 1079.7,671.6 1082.2,670.7 1082.6,671.4zM1088.3,676.9 1084.7,676.7 1084.2,677.3 1081.8,676.3 1084.3,675.7 1084.7,676.4zM1093.3,671.2 1089.8,671.6 1089.4,672.3 1086.8,671.8 1089.2,670.7 1089.7,671.3zM1097.3,676.8 1093.7,676.7 1093.2,677.3 1090.8,676.3 1093.4,675.7 1093.7,676.4zM1099.9,671.4 1096.4,671.6 1095.9,672.2 1093.4,671.4 1095.9,670.6 1096.4,671.3zM1102.7,675.6 1099.3,676.7 1099.1,677.5 1096.5,677.4 1098.6,676 1099.2,676.5zM1108.1,671 1104.6,671.5 1104.2,672.2 1101.6,671.6 1104,670.6 1104.5,671.2zM1112.6,676.5 1109,676.6 1108.6,677.2 1106.1,676.3 1108.6,675.6 1109,676.3zM1116.2,671.1 1112.6,671.4 1112.2,672.1 1109.7,671.4 1112.1,670.5 1112.6,671.1zM1119.4,676.4 1115.9,676.5 1115.4,677.2 1112.9,676.4 1115.4,675.6 1115.9,676.2zM1124.8,671.6 1121.2,671.3 1120.7,671.9 1118.3,670.7 1120.9,670.3 1121.2,671zM1129.3,676.4 1125.8,676.4 1125.3,677.1 1122.8,676.2 1125.3,675.5 1125.8,676.1zM1132.2,671.1 1128.7,671.3 1128.2,671.9 1125.7,671.2 1128.2,670.3 1128.7,671zM1136.3,676.4 1132.7,676.4 1132.3,677 1129.8,676 1132.4,675.4 1132.8,676.1zM1140.8,671 1137.3,671.2 1136.8,671.9 1134.4,671.1 1136.8,670.3 1137.3,670.9zM1144.5,676.2 1141,676.3 1140.5,676.9 1138,676.1 1140.5,675.3 1141,676zM1148.7,671.2 1145.1,671.1 1144.6,671.7 1142.2,670.8 1144.7,670.1 1145.1,670.8zM1151.2,675.6 1147.7,676.3 1147.3,677 1144.8,676.6 1147.1,675.4 1147.6,676zM1156.9,670.6 1153.4,671.1 1153,671.8 1150.5,671.2 1152.8,670.2 1153.4,670.8zM1161.6,675.4 1158.2,676.2 1157.9,677 1155.3,676.7 1157.5,675.4 1158.1,675.9zM1165.5,671.1 1161.9,671 1161.4,671.6 1159,670.6 1161.5,670 1161.9,670.7zM1170.3,675.2 1166.9,676.2 1166.6,676.9 1164,676.6 1166.2,675.3 1166.8,675.9zM1173.9,670.9 1170.3,670.9 1169.8,671.5 1167.4,670.7 1169.9,669.9 1170.3,670.6zM1176,676.4 1172.4,676 1171.9,676.5 1169.6,675.4 1172.1,675 1172.5,675.7zM1180.1,670.8 1176.5,670.9 1176.1,671.5 1173.6,670.6 1176.1,669.9 1176.5,670.6zM1182.7,676.3 1179.2,675.9 1178.6,676.5 1176.3,675.4 1178.8,674.9 1179.2,675.6zM1186.5,670.5 1182.9,670.8 1182.5,671.5 1180,670.8 1182.4,669.9 1182.9,670.5zM1189.9,676.3 1186.4,675.9 1185.8,676.4 1183.5,675.2 1186.1,674.8 1186.4,675.6zM1195.4,670.8 1191.8,670.7 1191.3,671.3 1188.9,670.3 1191.4,669.7 1191.8,670.4zM1198,675.8 1194.5,675.8 1194,676.5 1191.5,675.6 1194,674.9 1194.5,675.5zM1203.5,670.3 1199.9,670.7 1199.5,671.4 1197,670.8 1199.4,669.8 1199.9,670.4zM1207.5,676.1 1204,675.7 1203.4,676.3 1201.1,675.2 1203.6,674.7 1204,675.4zM1211.3,670.3 1207.7,670.6 1207.3,671.3 1204.8,670.6 1207.2,669.7 1207.7,670.3zM1215.3,675.6 1211.7,675.7 1211.2,676.3 1208.8,675.5 1211.3,674.7 1211.7,675.4zM1218.9,670 1215.4,670.6 1215,671.3 1212.5,670.8 1214.8,669.7 1215.4,670.3zM1222.4,675.5 1218.9,675.6 1218.4,676.3 1215.9,675.5 1218.4,674.7 1218.9,675.3zM1226.4,670.6 1222.8,670.4 1222.3,671.1 1219.9,670.1 1222.4,669.5 1222.8,670.1zM1230.7,675.3 1227.1,675.6 1226.7,676.2 1224.2,675.5 1226.7,674.6 1227.1,675.3zM1232.4,670.2 1228.9,670.4 1228.4,671.1 1225.9,670.3 1228.4,669.5 1228.9,670.1zM1235,675.1 1231.5,675.5 1231.1,676.2 1228.6,675.6 1231,674.6 1231.5,675.2zM1240.7,670.5 1235.9,670.7 1235.3,671.3 1232,670.5 1235.3,669.7 1235.9,670.4zM1249.4,670.4 1245.3,670.6 1244.8,671.2 1242,670.4 1244.8,669.6 1245.3,670.3zM1259.5,670.3 1255.2,670.5 1254.7,671.1 1251.7,670.3 1254.7,669.5 1255.2,670.2zM1272.3,674.7 1267.7,674.9 1267.1,675.5 1263.9,674.7 1267.1,673.9 1267.7,674.6zM1285,674.6 1280.4,674.8 1279.8,675.4 1276.6,674.6 1279.8,673.8 1280.4,674.5zM1296.3,674.5 1292.3,674.7 1291.8,675.3 1289.1,674.5 1291.8,673.7 1292.3,674.4zM1306.2,669.9 1302.2,670.1 1301.7,670.7 1299,669.9 1301.7,669.1 1302.2,669.8zM1317,669.8 1312.6,670 1312,670.6 1309,669.8 1312,669 1312.6,669.7zM1327.3,669.8 1323.1,669.9 1322.6,670.6 1319.7,669.8 1322.6,669 1323.1,669.6zM1336.2,674.2 1332.5,674.3 1332,675 1329.5,674.2 1332,673.4 1332.5,674zM1344.6,674.1 1340.5,674.3 1340,674.9 1337.1,674.1 1340,673.3 1340.5,674zM1074.1,678.3 1070.6,674.1 1069.6,674 1067.9,670.5 1070.9,673 1070.8,673.9zM1229.9,670.2 1227.7,665.7 1226.8,665.4 1226.1,662 1228.3,664.8 1227.9,665.6zM1238.4,673.6 1233.6,676.4 1233.3,677.3 1229.6,678.4 1232.6,675.9 1233.5,676.1zM1007.3,541.9 1006.3,537.1 1005.5,536.6 1005.7,533.1 1007.1,536.3 1006.6,537zM1013.3,599.9 1010.6,595.7 1009.8,595.5 1008.7,592.1 1011.1,594.7 1010.9,595.5zM1071.5,625.8 1066.5,625.6 1065.9,626.2 1062.5,625.2 1066,624.6 1066.6,625.3zM1145,586 1140,585.6 1139.3,586.2 1136,585 1139.5,584.6 1140.1,585.3zM1220.5,620.8 1215.5,620.6 1214.9,621.2 1211.5,620.2 1215,619.6 1215.6,620.3zM1287.1,591.9 1282.5,589.9 1281.7,590.3 1278.9,588.1 1282.4,588.8 1282.7,589.7zM1345.5,631 1340.5,630.6 1339.8,631.2 1336.5,630 1340,629.6 1340.6,630.3zM1056.5,725.3 1061.5,725.4 1062.1,724.8 1065.5,725.7 1062,726.4 1061.4,725.7zM1208.5,729.5 1213.5,729.4 1214.1,728.7 1217.5,729.5 1214.1,730.3 1213.5,729.6zM1344.5,716.5 1349.5,716.4 1350.1,715.7 1353.5,716.5 1350.1,717.3 1349.5,716.6zM988,753.4 991.2,749.6 991.1,748.7 994,746.6 992.3,749.7 991.4,749.8zM1130.5,772.5 1135.5,772.9 1136.2,772.3 1139.5,773.5 1136,773.9 1135.4,773.2zM1287.6,762.2 1291.8,759.7 1292.1,758.8 1295.4,757.8 1292.8,760.2 1292,759.9zM1312,843.5 1312.4,838.5 1311.8,837.8 1313,834.5 1313.4,838 1312.7,838.6z" fill="#2a190d" stroke="#2a190d" stroke-width="0.45" stroke-linejoin="round"/>
<g font-family="'Liberation Sans',sans-serif" font-size="7.9" fill="#fff" fill-opacity="0.88" text-anchor="middle"><rect x="1031" y="808.3" width="243.6" height="7.4" fill="url(#cw)"/><text x="1031" y="801.1">-2.0e-01</text><text x="1065.8" y="801.1">-0.15</text><text x="1100.6" y="801.1">-0.1</text><text x="1135.4" y="801.1">-0.05</text><text x="1170.2" y="801.1">0</text><text x="1205" y="801.1">0.05</text><text x="1239.8" y="801.1">0.1</text><text x="1274.6" y="801.1">1.5e-01</text><path d="M1031,805.1 v6.2 M1065.8,805.1 v6.2 M1100.6,805.1 v6.2 M1135.4,805.1 v6.2 M1170.2,805.1 v6.2 M1205,805.1 v6.2 M1239.8,805.1 v6.2 M1274.6,805.1 v6.2" stroke="#fff" stroke-width="0.8" opacity="0.9"/><text x="1152" y="790.8">scalars</text></g>
</g>
<rect x="978.05" y="530" width="378.9" height="320.9" rx="3.5" fill="none" stroke="#8B3E0F" stroke-width="5.9"/>
<g clip-path="url(#cG)">
<linearGradient id="gg" gradientUnits="userSpaceOnUse" x1="1376" x2="1879"><stop offset="0" stop-color="#B4C0D6"/><stop offset="0.3" stop-color="#C3C6CC"/><stop offset="0.5" stop-color="#CDC6BC"/><stop offset="0.75" stop-color="#D9BBA5"/><stop offset="1" stop-color="#E0B89D"/></linearGradient>
<rect x="1374" y="530" width="508" height="321" fill="url(#gg)"/>
<rect x="1300" y="578" width="262" height="224" fill="#A3B5DE" filter="url(#b35)"/>
<rect x="1300" y="606" width="262" height="168" fill="#839EDC" filter="url(#b25)"/>
<rect x="1300" y="632" width="252" height="116" fill="#5D78D0" filter="url(#b18)"/>
<rect x="1300" y="652" width="240" height="76" fill="#4159C2" filter="url(#b12)"/>
<rect x="1300" y="668" width="222" height="44" fill="#384EBA" filter="url(#b8)"/>
<polygon points="1374,682.3 1511,681.6 1582,617.8 1882,614.6 1882,761.8 1575,764 1511,697.2 1374,696.4" fill="#565A75"/>
<linearGradient id="gfi" gradientUnits="userSpaceOnUse" x1="1376" x2="1879"><stop offset="0" stop-color="#B0142B"/><stop offset="0.08" stop-color="#C02A33"/><stop offset="0.2" stop-color="#DA6A50"/><stop offset="0.3" stop-color="#E89A78"/><stop offset="0.6" stop-color="#E6B294"/><stop offset="1" stop-color="#E3B79C"/></linearGradient>
<polygon points="1374,684.4 1509,683.8 1520,681 1580.8,648 1882,644 1882,728.9 1580.8,731.1 1520,697.6 1509,694.8 1374,694.6" fill="url(#gfi)"/>
<rect x="1588.5" y="649.7" width="108.5" height="3.2" fill="#CFCFD6"/>
<rect x="1588.5" y="657.4" width="108.5" height="3.2" fill="#CFCFD6"/>
<rect x="1588.5" y="665.1" width="108.5" height="3.2" fill="#CFCFD6"/>
<rect x="1588.5" y="672.8" width="108.5" height="3.2" fill="#CFCFD6"/>
<rect x="1588.5" y="680.5" width="108.5" height="3.2" fill="#CFCFD6"/>
<rect x="1588.5" y="688.2" width="108.5" height="3.2" fill="#CFCFD6"/>
<rect x="1588.5" y="695.9" width="108.5" height="3.2" fill="#CFCFD6"/>
<rect x="1588.5" y="703.6" width="108.5" height="3.2" fill="#CFCFD6"/>
<rect x="1588.5" y="711.3" width="108.5" height="3.2" fill="#CFCFD6"/>
<rect x="1588.5" y="719" width="108.5" height="3.2" fill="#CFCFD6"/>
<rect x="1588.5" y="726.7" width="108.5" height="3.2" fill="#CFCFD6"/>
<path d="M1586.5,649.1 H1694 M1586.5,653.5 H1694 M1591.5,656.8 H1699 M1591.5,661.2 H1699 M1586.5,664.5 H1694 M1586.5,668.9 H1694 M1591.5,672.2 H1699 M1591.5,676.6 H1699 M1586.5,679.9 H1694 M1586.5,684.3 H1694 M1591.5,687.6 H1699 M1591.5,692 H1699 M1586.5,695.3 H1694 M1586.5,699.7 H1694 M1591.5,703 H1699 M1591.5,707.4 H1699 M1586.5,710.7 H1694 M1586.5,715.1 H1694 M1591.5,718.4 H1699 M1591.5,722.8 H1699 M1586.5,726.1 H1694 M1586.5,730.5 H1694 M1586.5,648.5 V730.5 M1699,648.5 V730.5" stroke="#5A5D78" stroke-width="1.9" fill="none"/>
<path d="M1594.1,650.2 1591.3,650.6 1591,651.3 1588.9,650.7 1590.8,649.7 1591.2,650.3zM1604.1,650.1 1601.2,650.3 1600.8,651 1598.8,650.2 1600.8,649.4 1601.2,650zM1611.8,652.1 1609,651.9 1608.6,652.5 1606.8,651.5 1608.8,650.9 1609.1,651.6zM1619.6,652.1 1616.3,651.8 1615.8,652.4 1613.6,651.4 1616,650.8 1616.3,651.5zM1627.5,651.6 1624.4,651.4 1623.9,652 1621.9,651 1624.1,650.4 1624.4,651.1zM1636.6,651.5 1633.7,651.6 1633.3,652.3 1631.3,651.4 1633.3,650.7 1633.7,651.3zM1644,651.2 1641.1,651.4 1640.7,652.1 1638.7,651.3 1640.7,650.5 1641.1,651.1zM1652.2,650.7 1649,650.5 1648.6,651.1 1646.5,650 1648.7,649.5 1649.1,650.2zM1658.8,651.5 1656.2,651.4 1655.8,652 1654.1,651 1656,650.4 1656.2,651.1zM1667.4,651.9 1664,652.2 1663.6,652.9 1661.2,652.3 1663.5,651.3 1664,652zM1673.8,651.7 1670.2,652.1 1669.8,652.7 1667.3,652.1 1669.7,651.1 1670.2,651.8zM1680.1,651.3 1676.8,651.5 1676.4,652.1 1674.1,651.3 1676.4,650.5 1676.8,651.2zM1687.4,650.8 1684.4,651 1684,651.6 1682,650.9 1684,650 1684.4,650.7zM1695.7,650.5 1693,650.9 1692.7,651.6 1690.8,651 1692.6,650 1693,650.6zM1594.2,659.9 1591.2,659.4 1590.7,660 1588.8,658.8 1591,658.4 1591.3,659.1zM1600.8,658.9 1597.9,659.2 1597.6,659.9 1595.6,659.2 1597.5,658.3 1597.9,658.9zM1609.2,659.8 1605.9,660 1605.5,660.7 1603.2,660 1605.5,659.1 1605.9,659.7zM1616.6,659.4 1613.5,659.5 1613.1,660.1 1610.9,659.3 1613.1,658.5 1613.5,659.2zM1625.5,659.5 1622.8,659.3 1622.4,659.8 1620.7,658.8 1622.6,658.3 1622.9,659zM1632.7,659.9 1629.7,659.9 1629.3,660.6 1627.3,659.7 1629.4,659 1629.7,659.6zM1643.4,660.3 1640.6,660.3 1640.2,661 1638.3,660.1 1640.3,659.4 1640.6,660zM1653.3,660 1650.5,660 1650.1,660.7 1648.2,659.8 1650.2,659.1 1650.5,659.7zM1662.1,659.1 1658.7,659.3 1658.3,660 1655.9,659.3 1658.2,658.4 1658.7,659zM1669.2,658.8 1665.7,658.9 1665.2,659.5 1662.8,658.7 1665.3,657.9 1665.7,658.6zM1677.7,659.3 1674.9,659.5 1674.6,660.1 1672.6,659.4 1674.5,658.5 1674.9,659.2zM1684.8,659.1 1681.4,659.7 1681,660.4 1678.5,659.9 1680.8,658.8 1681.3,659.4zM1691.6,659.1 1688.3,659.2 1687.9,659.9 1685.6,659.1 1687.9,658.3 1688.3,658.9zM1594.3,666.5 1591.2,667 1590.9,667.7 1588.7,667.1 1590.7,666.1 1591.2,666.7zM1602.4,666.7 1599.2,667.2 1598.8,667.9 1596.5,667.3 1598.6,666.3 1599.1,666.9zM1612.4,666.5 1609.2,666.4 1608.7,667.1 1606.5,666.1 1608.8,665.5 1609.2,666.1zM1619.3,666.8 1616.5,666.7 1616,667.3 1614.1,666.3 1616.2,665.7 1616.5,666.4zM1626.3,667 1623.3,666.9 1622.9,667.6 1620.9,666.6 1623,666 1623.3,666.6zM1632.8,666.7 1629.4,667.2 1629,667.9 1626.5,667.3 1628.8,666.3 1629.3,666.9zM1642.4,666.2 1639.1,666.4 1638.7,667.1 1636.4,666.3 1638.6,665.5 1639.1,666.1zM1648.9,666.8 1645.4,666.7 1644.9,667.3 1642.5,666.4 1645,665.7 1645.4,666.4zM1656.5,666.4 1653.3,666.3 1652.9,667 1650.7,666 1653,665.4 1653.3,666zM1664.7,666.2 1661.2,666.4 1660.7,667 1658.3,666.2 1660.7,665.4 1661.2,666.1zM1674.1,665.9 1671.3,666 1670.9,666.6 1669,665.8 1671,665 1671.3,665.7zM1683.2,667.4 1680.5,667.6 1680.2,668.2 1678.4,667.5 1680.2,666.6 1680.5,667.3zM1690.6,666.2 1687.8,666.2 1687.4,666.8 1685.5,665.9 1687.5,665.2 1687.8,665.9zM1594.5,675.5 1591.2,675.6 1590.8,676.2 1588.5,675.4 1590.8,674.6 1591.2,675.3zM1602.5,674.1 1599.7,674.3 1599.4,674.9 1597.4,674.2 1599.3,673.3 1599.7,674zM1611.7,675.3 1609.1,675.1 1608.7,675.7 1607.1,674.7 1608.9,674.1 1609.2,674.8zM1622.4,674.5 1618.9,674.5 1618.4,675.1 1616.1,674.1 1618.6,673.5 1619,674.2zM1631,674.4 1627.7,674.5 1627.3,675.1 1625,674.3 1627.3,673.5 1627.7,674.2zM1636.9,674.3 1634.2,674.5 1633.9,675.1 1632,674.3 1633.9,673.5 1634.2,674.2zM1645.4,674.4 1642.3,674.8 1642,675.5 1639.9,674.9 1641.9,673.9 1642.3,674.5zM1654.2,674.3 1650.8,674.6 1650.4,675.3 1648.1,674.6 1650.4,673.7 1650.8,674.3zM1662.3,675.6 1659.3,675.3 1658.9,675.9 1657,674.8 1659.1,674.3 1659.4,675zM1668.7,674 1666.2,674.3 1665.9,674.9 1664.1,674.2 1665.9,673.3 1666.2,674zM1674.8,675.2 1672.3,675 1671.9,675.6 1670.2,674.6 1672.1,674 1672.3,674.7zM1681.4,673.9 1678.6,674.4 1678.3,675.1 1676.2,674.5 1678.1,673.5 1678.5,674.1zM1691.6,673.6 1688.6,673.6 1688.2,674.2 1686.1,673.3 1688.2,672.6 1688.6,673.3zM1593.8,682.2 1591.3,682.1 1590.9,682.7 1589.2,681.7 1591.1,681.1 1591.3,681.8zM1601.5,682.2 1598.5,682.1 1598.1,682.7 1596.1,681.8 1598.2,681.1 1598.6,681.8zM1610.1,680.2 1606.9,681.1 1606.6,681.8 1604.2,681.5 1606.3,680.3 1606.8,680.8zM1620.6,682.9 1617.4,683 1616.9,683.6 1614.7,682.7 1617,682 1617.4,682.7zM1631.2,682.5 1627.8,682.9 1627.5,683.5 1625.1,682.9 1627.3,682 1627.8,682.6zM1639.7,681 1636.8,681.4 1636.5,682.1 1634.4,681.5 1636.4,680.5 1636.8,681.1zM1645.4,681.3 1642.9,681.7 1642.7,682.4 1640.8,681.8 1642.5,680.8 1642.9,681.4zM1656.8,682.6 1653.7,682.7 1653.2,683.3 1651.1,682.4 1653.3,681.7 1653.7,682.4zM1667.3,682.1 1664.4,681.8 1663.9,682.4 1662,681.2 1664.2,680.8 1664.4,681.5zM1674.6,682.3 1672,682.2 1671.5,682.8 1669.8,681.8 1671.7,681.2 1672,681.9zM1681.5,681.3 1678,681.4 1677.6,682 1675.2,681.1 1677.6,680.4 1678,681.1zM1688.3,681.7 1685.8,681.8 1685.5,682.4 1683.7,681.6 1685.5,680.8 1685.8,681.5zM1698.4,682.3 1695.7,682.2 1695.3,682.8 1693.5,681.8 1695.4,681.2 1695.7,681.9zM1594.3,689.2 1591.2,689.5 1590.9,690.2 1588.7,689.5 1590.8,688.6 1591.2,689.2zM1600.8,690 1598,690.4 1597.7,691 1595.7,690.4 1597.5,689.4 1598,690.1zM1609.2,689.9 1606.7,690.1 1606.4,690.8 1604.6,690.1 1606.3,689.2 1606.7,689.8zM1617.9,690.4 1614.7,690.5 1614.2,691.1 1612,690.3 1614.3,689.5 1614.7,690.2zM1625.2,690 1622.6,689.8 1622.2,690.4 1620.6,689.4 1622.4,688.8 1622.7,689.5zM1635.3,690 1632.7,689.8 1632.3,690.4 1630.7,689.4 1632.6,688.8 1632.8,689.5zM1644.1,690.5 1641,690.7 1640.6,691.4 1638.5,690.6 1640.6,689.8 1641,690.4zM1653.1,689.3 1650.1,689.7 1649.8,690.4 1647.6,689.7 1649.6,688.8 1650.1,689.4zM1661.1,690.6 1657.7,690.6 1657.2,691.2 1654.9,690.3 1657.3,689.6 1657.7,690.3zM1667.4,689.7 1664.6,690 1664.2,690.6 1662.2,689.9 1664.1,689 1664.5,689.7zM1675,689.1 1672.4,689.3 1672.1,690 1670.3,689.3 1672,688.4 1672.4,689zM1682.5,689.3 1679.4,689.6 1679,690.3 1676.8,689.6 1678.9,688.7 1679.4,689.3zM1690.3,689.1 1687.5,689.4 1687.2,690 1685.3,689.3 1687.2,688.4 1687.5,689.1zM1697.5,689.1 1694.5,689.5 1694.2,690.2 1692.1,689.6 1694.1,688.6 1694.5,689.2zM1594.4,696.9 1591.2,697 1590.8,697.7 1588.6,696.9 1590.8,696.1 1591.2,696.7zM1603.6,697.2 1600.3,697.2 1599.8,697.8 1597.6,697 1599.9,696.2 1600.3,696.9zM1613.3,697.2 1610.2,697.4 1609.9,698 1607.7,697.2 1609.8,696.4 1610.2,697.1zM1620.4,696.9 1617.6,697 1617.2,697.7 1615.3,696.9 1617.2,696.1 1617.6,696.7zM1629.6,698.5 1626.7,698.4 1626.3,699 1624.4,698.1 1626.5,697.4 1626.8,698.1zM1638.2,697.1 1634.9,697.7 1634.5,698.4 1632.1,697.9 1634.3,696.8 1634.8,697.4zM1645,698.1 1641.6,698 1641.1,698.6 1638.9,697.6 1641.3,697 1641.6,697.7zM1654.1,698.7 1651.3,698.5 1650.9,699.2 1649.1,698.1 1651.1,697.6 1651.3,698.2zM1664.1,697.8 1661.3,698 1661,698.6 1659.1,697.8 1661,697 1661.3,697.7zM1672.2,697.5 1669.3,697.7 1669,698.3 1667,697.5 1669,696.7 1669.3,697.4zM1681.1,698 1678.2,698.6 1677.9,699.2 1675.8,698.7 1677.7,697.7 1678.2,698.3zM1687.8,697.4 1684.4,697.8 1684,698.5 1681.6,697.8 1683.9,696.9 1684.4,697.5zM1697.2,697 1694,697.5 1693.7,698.2 1691.3,697.7 1693.5,696.6 1694,697.2zM1594.3,704.7 1591.2,704.7 1590.8,705.4 1588.7,704.5 1590.9,703.8 1591.2,704.4zM1604.6,705.2 1601.6,705.4 1601.2,706.1 1599.1,705.3 1601.2,704.5 1601.6,705.1zM1614,706.5 1611.1,706.5 1610.8,707.1 1608.8,706.2 1610.8,705.5 1611.2,706.2zM1622.5,706.4 1619.5,706.5 1619.1,707.2 1617,706.3 1619.1,705.6 1619.5,706.2zM1629.4,706.1 1626.4,706.3 1626,707 1623.9,706.2 1626,705.4 1626.4,706zM1640.1,705.2 1637.4,705.2 1637,705.9 1635.1,705 1637,704.3 1637.4,704.9zM1646.9,704.6 1643.4,704.7 1642.9,705.4 1640.5,704.6 1642.9,703.8 1643.4,704.4zM1657.6,705.2 1654.3,705.1 1653.8,705.8 1651.5,704.8 1653.9,704.2 1654.3,704.8zM1663.5,705.5 1660.6,705.7 1660.2,706.3 1658.2,705.5 1660.2,704.7 1660.6,705.4zM1671.7,705.4 1669,705.5 1668.7,706.1 1666.9,705.3 1668.7,704.5 1669.1,705.2zM1680.5,705.5 1677.4,705.2 1676.9,705.7 1675,704.6 1677.2,704.1 1677.5,704.9zM1688,703.6 1685,704.2 1684.8,704.9 1682.6,704.4 1684.5,703.3 1685,703.9zM1695.8,705.6 1692.6,705.9 1692.2,706.5 1690,705.8 1692.2,704.9 1692.6,705.6zM1594.3,712.9 1591.2,712.7 1590.7,713.3 1588.7,712.2 1590.9,711.7 1591.2,712.4zM1603.6,712.9 1600.5,713 1600.1,713.6 1598,712.7 1600.1,712 1600.5,712.7zM1613.1,713.2 1610.6,713.3 1610.3,714 1608.5,713.1 1610.3,712.4 1610.6,713zM1621.7,712.8 1619.1,712.9 1618.8,713.5 1617,712.6 1618.9,711.9 1619.2,712.6zM1629,713.2 1626.2,713.2 1625.8,713.8 1623.9,712.9 1625.9,712.2 1626.2,712.9zM1638.3,712.7 1634.8,713 1634.4,713.7 1631.9,712.9 1634.3,712.1 1634.8,712.7zM1643.7,713.6 1640.9,713.3 1640.5,713.9 1638.7,712.8 1640.7,712.3 1641,713zM1650.7,713.6 1647.2,713.6 1646.7,714.3 1644.3,713.4 1646.8,712.7 1647.2,713.3zM1660.6,712.8 1658,713 1657.7,713.7 1656,712.9 1657.7,712.1 1658,712.7zM1668.5,712.8 1665.5,713.2 1665.2,713.9 1663,713.2 1665,712.3 1665.5,712.9zM1678.9,712.7 1675.4,713 1675,713.7 1672.5,713 1674.9,712.1 1675.4,712.7zM1686,712.9 1683.1,713.3 1682.8,713.9 1680.8,713.3 1682.7,712.3 1683.1,713zM1694.1,713.9 1690.8,713.8 1690.3,714.4 1688.1,713.5 1690.4,712.8 1690.8,713.5zM1594.2,720.4 1591.2,720.5 1590.8,721.2 1588.8,720.4 1590.8,719.6 1591.2,720.2zM1601,721 1597.9,721.1 1597.5,721.7 1595.4,720.9 1597.5,720.1 1597.9,720.8zM1608.1,721.1 1604.6,721.3 1604.2,722 1601.7,721.2 1604.2,720.4 1604.6,721zM1615.7,720.2 1613,720.5 1612.7,721.2 1610.8,720.5 1612.7,719.6 1613,720.2zM1625.4,721.1 1622.2,721.4 1621.9,722.1 1619.6,721.5 1621.8,720.5 1622.2,721.1zM1635.1,721.1 1631.6,721.4 1631.2,722.1 1628.7,721.4 1631.1,720.5 1631.6,721.1zM1641.6,720.4 1638.4,720.4 1638,721.1 1635.9,720.2 1638.1,719.5 1638.5,720.1zM1650.5,721.3 1647.3,721.6 1646.9,722.3 1644.7,721.6 1646.8,720.7 1647.3,721.3zM1659.2,719.8 1656.1,720 1655.7,720.7 1653.6,719.9 1655.7,719.1 1656.1,719.7zM1667.9,720.7 1665.3,720.6 1664.9,721.3 1663.2,720.3 1665.1,719.7 1665.3,720.3zM1676.3,720.6 1673.4,721 1673.1,721.7 1670.9,721 1672.9,720.1 1673.4,720.7zM1686.6,720.6 1683.6,720.7 1683.2,721.3 1681.1,720.5 1683.2,719.7 1683.6,720.4zM1694.6,720.8 1691.3,721.2 1690.9,721.9 1688.6,721.3 1690.8,720.3 1691.3,720.9zM1593.8,728 1591.3,728 1590.9,728.6 1589.2,727.7 1591,727 1591.3,727.7zM1602.3,728.4 1599,728.5 1598.5,729.1 1596.2,728.3 1598.6,727.5 1599,728.2zM1609.3,729.3 1606.3,729.1 1605.9,729.7 1603.9,728.7 1606.1,728.1 1606.4,728.8zM1616.7,728.6 1613.5,728.7 1613,729.4 1610.9,728.5 1613.1,727.8 1613.5,728.4zM1624.9,729.1 1621.6,728.9 1621.1,729.5 1618.9,728.5 1621.3,727.9 1621.7,728.6zM1635.3,729.7 1632.4,729.3 1631.9,729.9 1630,728.8 1632.1,728.3 1632.4,729zM1644.7,728.8 1642,728.9 1641.6,729.5 1639.8,728.7 1641.6,727.9 1642,728.6zM1651.9,728 1648.7,728 1648.3,728.6 1646.1,727.7 1648.3,727 1648.7,727.7zM1660.6,728.6 1657.5,728.7 1657.1,729.3 1654.9,728.5 1657.1,727.7 1657.5,728.4zM1671.2,728.1 1668.1,728.3 1667.7,728.9 1665.6,728.1 1667.7,727.3 1668.1,728zM1681.4,727.8 1678.3,728.4 1678,729.1 1675.7,728.6 1677.8,727.5 1678.3,728.1zM1689,728.2 1686.3,728.4 1686,729.1 1684.1,728.3 1686,727.5 1686.3,728.1zM1695.3,727.8 1692.4,727.6 1692,728.3 1690,727.3 1692.1,726.7 1692.4,727.4zM1524,684.3 1520.4,685.1 1520.1,685.8 1517.4,685.5 1519.8,684.3 1520.3,684.8zM1553.9,702 1549.6,701 1548.9,701.5 1546.2,699.9 1549.3,699.9 1549.7,700.7zM1576.5,692.5 1572.4,692.6 1571.9,693.3 1569,692.4 1571.9,691.7 1572.4,692.3zM1566.8,697.5 1562.5,697.4 1561.9,698 1559,697 1562,696.4 1562.5,697.1zM1557.4,707 1554.1,705.9 1553.4,706.4 1551.5,704.8 1554,704.9 1554.2,705.7zM1538.3,687.6 1534.3,687.5 1533.7,688.1 1531.1,687 1533.9,686.5 1534.3,687.2zM1551.7,693 1548.2,692.9 1547.7,693.5 1545.4,692.5 1547.9,691.9 1548.3,692.6zM1566.6,674.9 1562.9,676.2 1562.6,677 1559.7,677 1562.1,675.5 1562.8,675.9zM1543.7,693.6 1540.1,693.5 1539.7,694.2 1537.2,693.3 1539.7,692.6 1540.2,693.2zM1578.6,666.9 1575.1,668 1574.8,668.8 1572.1,668.7 1574.3,667.2 1575,667.7zM1573.3,716.6 1570,715.2 1569.3,715.5 1567.5,713.7 1570,714.1 1570.2,714.9zM1575.7,680.1 1572.2,681.2 1572,681.9 1569.3,681.8 1571.6,680.4 1572.2,680.9zM1583.7,681.1 1580.1,681.9 1579.8,682.6 1577.1,682.3 1579.5,681.1 1580,681.6zM1563.2,667 1559.9,668.4 1559.7,669.1 1557.1,669.2 1559.1,667.6 1559.8,668.1zM1576.4,722.7 1572.7,721.7 1572,722.1 1569.7,720.6 1572.5,720.6 1572.8,721.4zM1546.9,685.8 1543.3,685.9 1542.9,686.6 1540.5,685.7 1542.9,685 1543.3,685.6zM1587.1,666.5 1583.3,667 1582.8,667.7 1580.1,667.2 1582.7,666.1 1583.2,666.7zM1583.5,710.7 1580,709.7 1579.4,710.2 1577.2,708.7 1579.9,708.7 1580.1,709.4zM1553.8,670.4 1550.6,672 1550.4,672.8 1547.8,673.1 1549.7,671.3 1550.4,671.7zM1579,653.8 1575.3,654.7 1574.9,655.5 1572.2,655.2 1574.6,653.9 1575.2,654.4zM1558.9,691.9 1555.4,692.1 1555,692.8 1552.5,692 1555,691.2 1555.4,691.8zM1535,680.9 1530.8,682 1530.5,682.8 1527.4,682.6 1530.1,681.2 1530.8,681.7zM1567.9,690.2 1564,690.7 1563.5,691.4 1560.7,690.9 1563.4,689.8 1563.9,690.4zM1577.2,708.1 1573.7,708 1573.2,708.6 1570.8,707.6 1573.3,707 1573.7,707.7zM1570.2,706.3 1566.1,705.4 1565.4,705.9 1562.8,704.4 1565.9,704.4 1566.2,705.1zM1528.4,689.8 1524.1,690.2 1523.6,690.9 1520.6,690.2 1523.5,689.3 1524.1,689.9zM1543.5,702.9 1539.4,701.7 1538.7,702.2 1536.1,700.5 1539.2,700.6 1539.5,701.4zM1545.9,674 1542.2,675.1 1541.9,675.9 1539.1,675.8 1541.4,674.4 1542.1,674.8zM1559.7,672.4 1556.5,674.1 1556.3,674.9 1553.7,675.2 1555.7,673.4 1556.4,673.8zM1576,700.1 1572,700 1571.5,700.7 1568.8,699.7 1571.6,699.1 1572,699.7zM1564.2,711.3 1560.4,710.3 1559.7,710.7 1557.3,709.1 1560.2,709.2 1560.5,710zM1558.4,685.8 1554,685.8 1553.4,686.4 1550.5,685.4 1553.5,684.8 1554,685.5zM1550.5,679.2 1546.2,679.9 1545.7,680.7 1542.6,680.3 1545.5,679.1 1546.1,679.6zM1584.8,702.6 1580.7,702.3 1580.1,702.9 1577.4,701.8 1580.3,701.3 1580.7,702zM1580.9,717.5 1577.1,716.4 1576.4,716.9 1574.1,715.3 1576.9,715.4 1577.2,716.1zM1585.4,649.6 1582.2,651.6 1582.1,652.5 1579.4,653.1 1581.3,651.1 1582,651.4zM1570.6,668.4 1567.2,669 1566.8,669.7 1564.4,669.2 1566.7,668.1 1567.2,668.7zM1571.8,661.6 1568.3,662.7 1568,663.5 1565.3,663.4 1567.6,662 1568.2,662.5zM1531.9,697.5 1528.4,697.3 1527.9,697.9 1525.6,696.9 1528.1,696.3 1528.5,697zM1521.7,692.4 1517.4,691.8 1516.7,692.3 1514,691 1517,690.7 1517.5,691.5zM1539.7,676.3 1535.7,677.3 1535.3,678 1532.3,677.8 1535,676.4 1535.6,677zM1585.7,688.6 1581.9,688.9 1581.5,689.6 1578.8,688.9 1581.4,688 1581.9,688.6zM1586,657.4 1582.3,658.6 1582,659.4 1579.2,659.4 1581.5,657.9 1582.2,658.4zM1583.2,694.9 1579.3,695.4 1578.9,696.1 1576.1,695.5 1578.7,694.5 1579.3,695.1zM1583.1,672.4 1579.4,673 1579,673.7 1576.4,673.2 1578.8,672.1 1579.4,672.7zM1574,673.3 1570.7,674.5 1570.5,675.3 1567.9,675.2 1570,673.7 1570.6,674.2zM1564.6,703.6 1560.2,703.1 1559.6,703.7 1556.7,702.4 1559.8,702.1 1560.3,702.8zM1564.7,718.9 1561.2,716.8 1560.5,717.1 1558.6,714.9 1561.3,715.7 1561.4,716.6zM1585.5,723.8 1581.6,722.8 1581,723.3 1578.5,721.8 1581.4,721.8 1581.7,722.6zM1557.2,665.1 1554,666.4 1553.8,667.1 1551.4,667.2 1553.3,665.6 1553.9,666.1zM1571,685.1 1567.6,685.6 1567.2,686.3 1564.8,685.8 1567.1,684.7 1567.6,685.3zM1549.3,708.9 1545,708 1544.3,708.5 1541.6,707.1 1544.7,707 1545.1,707.8zM1579.2,686.8 1575.3,687.1 1574.8,687.8 1572.1,687.1 1574.8,686.2 1575.3,686.8zM1564.7,682.6 1560.3,683 1559.8,683.7 1556.7,683.1 1559.7,682.1 1560.3,682.7zM1555.5,713.1 1551.4,711.6 1550.6,712 1548.2,710.1 1551.3,710.5 1551.5,711.3zM1809.6,716.7 1806,716.6 1805.6,717.2 1803.2,716.2 1805.7,715.6 1806.1,716.3zM1739.5,667.1 1735.7,667.4 1735.2,668 1732.5,667.3 1735.2,666.4 1735.7,667.1zM1841.6,701.4 1837.9,702.2 1837.5,702.9 1834.8,702.6 1837.3,701.3 1837.8,701.9zM1869.1,688.5 1865.7,689.2 1865.4,689.9 1862.9,689.4 1865.2,688.3 1865.7,688.9zM1780.7,664.3 1776.5,664.7 1776,665.4 1773,664.8 1775.9,663.8 1776.4,664.4zM1776,649.7 1771.6,650.2 1771.1,650.8 1768,650.3 1771,649.3 1771.6,649.9zM1793.9,682.1 1789.9,682.3 1789.4,683 1786.7,682.2 1789.4,681.4 1789.9,682zM1732.7,658.3 1729.1,659.2 1728.8,659.9 1726.2,659.6 1728.5,658.3 1729.1,658.9zM1870.2,654.6 1866.6,655 1866.2,655.6 1863.7,655 1866.1,654 1866.6,654.7zM1828.2,650.2 1824.3,650.8 1823.9,651.5 1821.1,651 1823.7,649.9 1824.3,650.5zM1713.3,706.9 1709.9,706.1 1709.3,706.6 1707.2,705.2 1709.7,705.1 1710,705.8zM1831.7,671.3 1827.5,671.9 1827.1,672.6 1824.1,672.2 1826.9,671 1827.5,671.6zM1767,720.2 1763.5,720 1763,720.6 1760.7,719.5 1763.2,719 1763.5,719.7zM1724.9,661.4 1720.9,662.7 1720.6,663.5 1717.6,663.5 1720.1,661.9 1720.8,662.4zM1716.6,690.4 1712.7,690.9 1712.2,691.6 1709.4,691.1 1712.1,690 1712.6,690.6zM1802.4,650.1 1798.2,650.7 1797.8,651.5 1794.8,651 1797.6,649.9 1798.2,650.4zM1858.9,718.9 1855.3,719 1854.8,719.7 1852.3,718.9 1854.8,718.1 1855.3,718.7zM1709.2,669.8 1705.2,670.6 1704.8,671.3 1701.9,671 1704.5,669.8 1705.2,670.3zM1730.6,722.5 1727.3,722.2 1726.8,722.8 1724.7,721.7 1727,721.2 1727.4,721.9zM1811.3,691.8 1807.2,692 1806.7,692.7 1803.9,692 1806.7,691.1 1807.2,691.7zM1745.4,681.2 1742,681.5 1741.6,682.2 1739.3,681.5 1741.5,680.6 1742,681.2zM1729.5,696.1 1726.2,696.3 1725.8,696.9 1723.5,696.1 1725.8,695.3 1726.2,696zM1744.4,694.7 1740,695.2 1739.6,695.9 1736.5,695.4 1739.4,694.3 1740,694.9zM1745.1,658.3 1740.8,658.9 1740.4,659.6 1737.3,659.2 1740.2,658 1740.8,658.6zM1758,693 1754.1,693 1753.6,693.6 1750.9,692.7 1753.6,692 1754.1,692.7zM1719.7,672 1716.3,672.5 1716,673.2 1713.6,672.6 1715.8,671.6 1716.3,672.2zM1774.2,697.8 1770.4,697.6 1769.8,698.2 1767.3,697.2 1770,696.6 1770.4,697.3zM1709.5,653.5 1705.5,654.7 1705.1,655.4 1702.1,655.3 1704.7,653.9 1705.4,654.4zM1743.4,714.3 1740.1,714.4 1739.6,715 1737.4,714.2 1739.7,713.4 1740.1,714.1zM1784,718.6 1780.2,718.4 1779.7,719 1777.2,717.9 1779.8,717.4 1780.3,718.1zM1724.3,653.3 1720,654.1 1719.5,654.8 1716.4,654.5 1719.3,653.3 1719.9,653.8zM1763.5,667.6 1760.1,667.8 1759.7,668.5 1757.3,667.7 1759.6,666.9 1760.1,667.5zM1794.5,706.3 1790.4,706.4 1789.8,707 1787,706.2 1789.9,705.4 1790.4,706.1zM1714.3,663.2 1710.8,664.3 1710.5,665 1707.8,664.9 1710.1,663.5 1710.7,664zM1710.9,722.3 1707.2,721.4 1706.5,721.9 1704.2,720.4 1707,720.4 1707.2,721.1zM1753.9,722.8 1749.7,722.1 1749,722.6 1746.2,721.3 1749.3,721.1 1749.7,721.8zM1830.5,721.3 1827.2,720.9 1826.7,721.5 1824.5,720.4 1826.9,719.9 1827.2,720.6zM1752.5,707.6 1749.2,707.8 1748.8,708.5 1746.4,707.7 1748.7,706.9 1749.2,707.5zM1707.6,681.5 1704.3,681.4 1703.8,682 1701.6,681.1 1703.9,680.4 1704.3,681.1zM1776.9,680.5 1773.4,680.6 1772.9,681.2 1770.5,680.4 1772.9,679.6 1773.4,680.3zM1725,686.3 1720.9,686.6 1720.4,687.3 1717.6,686.6 1720.4,685.7 1720.9,686.3zM1733.8,709.2 1730.1,708.5 1729.5,709.1 1727.2,707.7 1729.9,707.5 1730.2,708.3zM1760.9,652.1 1756.9,652.2 1756.4,652.8 1753.7,652 1756.5,651.2 1756.9,651.9zM1721.9,705.4 1718.5,704.9 1718,705.4 1715.8,704.1 1718.3,703.8 1718.6,704.6zM1735.5,678 1731.5,678.6 1731,679.3 1728.1,678.8 1730.9,677.7 1731.4,678.3zM1718.4,715.7 1714.9,714.8 1714.3,715.3 1712.1,713.9 1714.7,713.8 1715,714.6zM1722.2,726.7 1718.5,725.7 1717.8,726.1 1715.5,724.6 1718.3,724.6 1718.6,725.4zM1805,669.4 1801.2,669.8 1800.7,670.5 1798.1,669.9 1800.6,668.9 1801.2,669.5zM1752.8,672.7 1749.2,673.6 1748.8,674.3 1746.2,674 1748.5,672.7 1749.1,673.3zM1707.3,692.1 1703.1,692.1 1702.5,692.8 1699.6,691.9 1702.6,691.2 1703.1,691.8zM1727.2,676.1 1723,676.8 1722.5,677.5 1719.5,677.1 1722.3,675.9 1722.9,676.5zM1718.1,681.7 1714.8,682 1714.4,682.6 1712.1,681.9 1714.3,681 1714.8,681.7zM1707.8,661.7 1704,662.9 1703.7,663.7 1700.8,663.7 1703.2,662.2 1703.9,662.6zM1707.4,714.4 1703.2,713.7 1702.6,714.2 1699.9,712.8 1702.9,712.6 1703.3,713.4zM1715,649.3 1710.9,650.3 1710.5,651.1 1707.5,650.9 1710.2,649.5 1710.8,650zM1707.2,704.9 1702.9,704.1 1702.2,704.6 1699.4,703.2 1702.5,703.1 1703,703.8zM1711.9,698.3 1707.5,698.1 1706.9,698.7 1704,697.7 1707.1,697.1 1707.6,697.8zM1763.9,682.2 1760.4,682 1759.9,682.6 1757.6,681.5 1760.1,681 1760.4,681.7zM1735.2,648.4 1732,649.6 1731.8,650.4 1729.3,650.4 1731.3,648.9 1731.9,649.3zM1721.2,697.2 1717.4,696.9 1716.8,697.5 1714.2,696.5 1717,695.9 1717.4,696.6zM1726.2,713.1 1722.1,712.5 1721.4,713.1 1718.8,711.8 1721.7,711.5 1722.1,712.2zM1852.3,672.5 1848.9,672.6 1848.5,673.3 1846.2,672.5 1848.5,671.7 1848.9,672.3zM1733.9,687.8 1729.9,687.8 1729.3,688.5 1726.6,687.6 1729.4,686.9 1729.9,687.5zM1764.4,706 1760.6,705.8 1760,706.5 1757.4,705.5 1760.2,704.9 1760.6,705.5zM1741.9,726.3 1738.5,725.3 1737.9,725.8 1735.8,724.2 1738.4,724.3 1738.6,725zM1396,690.5 1391.6,690.6 1391,691.2 1388,690.3 1391.1,689.6 1391.6,690.3zM1416,687.8 1411.6,687.8 1411,688.5 1408,687.6 1411.1,686.9 1411.6,687.5zM1445,687.1 1440.6,687.1 1440,687.7 1437,686.8 1440.1,686.1 1440.6,686.8zM1465,690.2 1460.6,690.2 1460,690.9 1457,690 1460.1,689.3 1460.6,689.9zM1488,690.4 1483.6,690.4 1483,691 1480,690.1 1483.1,689.4 1483.6,690.1zM1501,690.2 1496.6,690.2 1496,690.8 1493,689.9 1496.1,689.2 1496.6,689.9zM1459,543 1462.2,539.6 1462.1,538.7 1465,537 1463.3,539.8 1462.4,539.8zM1566.7,577.8 1570.8,575.7 1571.1,574.8 1574.3,574.2 1571.8,576.3 1570.9,576zM1631.3,586.8 1635.9,586.9 1636.6,586.3 1639.7,587.2 1636.5,587.8 1635.9,587.2zM1738.2,589.5 1742.9,589.4 1743.5,588.7 1746.8,589.5 1743.5,590.3 1742.9,589.6zM1687.3,561.1 1691.9,561.4 1692.6,560.8 1695.7,561.9 1692.4,562.4 1691.9,561.7zM1805.3,543.5 1809.3,541.2 1809.5,540.3 1812.7,539.5 1810.3,541.7 1809.4,541.4zM1846.2,557.3 1850.3,555.2 1850.6,554.3 1853.8,553.7 1851.3,555.8 1850.4,555.5zM1781.3,573.4 1785.9,573.9 1786.6,573.4 1789.7,574.6 1786.4,574.9 1785.9,574.2zM1844.2,585.5 1848.9,585.4 1849.5,584.7 1852.8,585.5 1849.5,586.3 1848.9,585.6zM1811.8,598.5 1816.4,598.4 1817,597.7 1820.2,598.5 1817,599.3 1816.4,598.6zM1870.8,601 1875.4,600.9 1876,600.2 1879.2,601 1876,601.8 1875.4,601.1zM1419.8,605.7 1424.4,606.4 1425.2,605.9 1428.2,607.3 1424.8,607.5 1424.4,606.7zM1527.7,628.2 1531.2,625.1 1531.3,624.2 1534.3,622.8 1532.3,625.5 1531.4,625.3zM1467.2,648.5 1471.9,648.4 1472.5,647.7 1475.8,648.5 1472.5,649.3 1471.9,648.6zM1459.8,732.3 1464.4,732.4 1465.1,731.8 1468.2,732.7 1465,733.3 1464.4,732.7zM1399.8,782.1 1404.4,782.4 1405.1,781.8 1408.2,782.9 1404.9,783.4 1404.4,782.7zM1518.9,753.3 1521.3,757.3 1522.2,757.5 1523.1,760.7 1520.8,758.3 1521.1,757.4zM1834.2,787 1838.9,786.9 1839.5,786.2 1842.8,787 1839.5,787.8 1838.9,787.1zM1798.7,818.6 1801.1,814.6 1800.9,813.7 1803.3,811.4 1802.2,814.6 1801.4,814.7zM1873.3,805 1877.3,802.7 1877.5,801.8 1880.7,801 1878.3,803.2 1877.4,802.9zM1684.7,835.4 1687.4,839.3 1688.2,839.4 1689.3,842.6 1686.9,840.3 1687.1,839.4zM1623.3,803.1 1627.9,803.4 1628.6,802.8 1631.7,803.9 1628.4,804.4 1627.9,803.7zM1742.1,795.3 1746.4,797 1747.3,796.7 1749.9,798.7 1746.6,798.1 1746.3,797.3zM1553.3,817.5 1557.4,819.6 1558.3,819.3 1560.7,821.5 1557.5,820.7 1557.3,819.8z" fill="#2a190d" stroke="#2a190d" stroke-width="0.45" stroke-linejoin="round"/>
<g font-family="'Liberation Sans',sans-serif" font-size="7.9" fill="#fff" fill-opacity="0.88" text-anchor="middle"><rect x="1516.2" y="812" width="232.8" height="7" fill="url(#cw)"/><text x="1516.2" y="804.8">-1.5e-01</text><text x="1562.8" y="804.8">-0.1</text><text x="1609.3" y="804.8">-0.05</text><text x="1655.9" y="804.8">0</text><text x="1702.4" y="804.8">0.05</text><text x="1749" y="804.8">1.0e-01</text><path d="M1516.2,808.8 v6 M1562.8,808.8 v6 M1609.3,808.8 v6 M1655.9,808.8 v6 M1702.4,808.8 v6 M1749,808.8 v6" stroke="#fff" stroke-width="0.8" opacity="0.9"/><path d="M1515.6,751.2 V812 M1749.6,751.2 V812" stroke="#fff" stroke-width="0.9" opacity="0.9"/><text x="1631.8" y="794.8">scalars</text></g>
</g>
<path d="M1371,530.15 h27 M1416.2,530.15 h23.7 M1458.2,530.15 h23.7 M1500.3,530.15 h23.7 M1542.4,530.15 h23.7 M1584.4,530.15 h23.7 M1626.5,530.15 h23.7 M1668.5,530.15 h23.7 M1710.5,530.15 h23.7 M1752.6,530.15 h23.7 M1794.7,530.15 h23.7 M1836.7,530.15 h23.7 M1878.2,530.15 H1884.9" stroke="#548235" stroke-width="6.1" fill="none"/>
<path d="M1385,850.9 h23.9 M1427,850.9 h23.9 M1469.1,850.9 h23.9 M1511.2,850.9 h23.9 M1553.2,850.9 h23.9 M1595.2,850.9 h23.9 M1637.3,850.9 h23.9 M1679.3,850.9 h23.9 M1721.4,850.9 h23.9 M1763.5,850.9 h23.9 M1805.5,850.9 h23.9 M1847.5,850.9 h23.9" stroke="#548235" stroke-width="5.9" fill="none"/>
<path d="M1374.1,527.1 V549.6 M1374.1,568.1 v23.4 M1374.1,610.1 v23.4 M1374.1,652.2 v23.4 M1374.1,694.2 v23.4 M1374.1,736.3 v23.4 M1374.1,778.4 v23.4 M1374.1,820.4 v23.4" stroke="#548235" stroke-width="6" fill="none"/>
<path d="M1881.8,527.1 V549.6 M1881.8,568.1 v23.4 M1881.8,610.1 v23.4 M1881.8,652.2 v23.4 M1881.8,694.2 v23.4 M1881.8,736.3 v23.4 M1881.8,778.4 v23.4 M1881.8,820.4 v23.4" stroke="#548235" stroke-width="6" fill="none"/>
</svg></body></html>
